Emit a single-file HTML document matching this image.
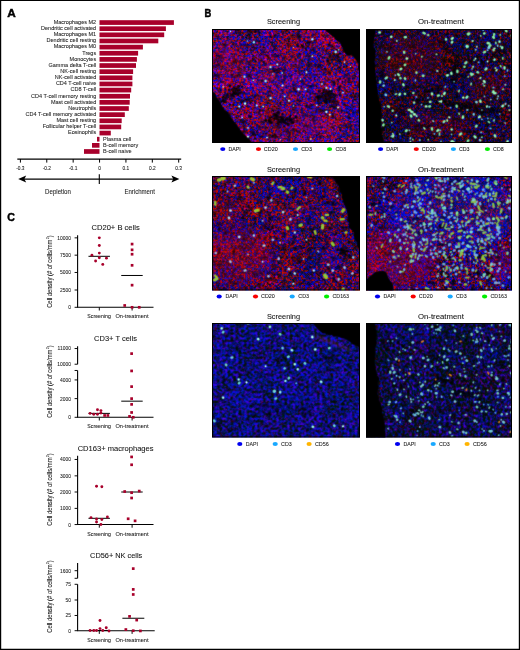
<!DOCTYPE html>
<html lang="en"><head><meta charset="utf-8"><title>Figure</title>
<style>html,body{margin:0;padding:0;background:#fff;overflow:hidden}svg{display:block}text{font-family:"Liberation Sans", sans-serif;stroke:#222;stroke-width:0.07px}</style>
</head><body>
<svg width="520" height="650" viewBox="0 0 520 650">
<rect x="0" y="0" width="520" height="650" fill="#fff"/>
<g id="panelA">
<text x="7.20" y="16.70" font-size="11.4" text-anchor="start" fill="#000" font-weight="bold" textLength="8.50" lengthAdjust="spacingAndGlyphs" style="stroke:#000;stroke-width:0.45px">A</text>
<rect x="99.5" y="20.20" width="74.40" height="4.7" fill="#a8002b"/>
<text x="96.20" y="23.90" font-size="5.8" text-anchor="end" fill="#1a1a1a" textLength="42.57" lengthAdjust="spacingAndGlyphs">Macrophages M2</text>
<rect x="99.5" y="26.34" width="66.40" height="4.7" fill="#a8002b"/>
<text x="96.20" y="30.04" font-size="5.8" text-anchor="end" fill="#1a1a1a" textLength="55.13" lengthAdjust="spacingAndGlyphs">Dendritic cell activated</text>
<rect x="99.5" y="32.48" width="64.70" height="4.7" fill="#a8002b"/>
<text x="96.20" y="36.18" font-size="5.8" text-anchor="end" fill="#1a1a1a" textLength="42.57" lengthAdjust="spacingAndGlyphs">Macrophages M1</text>
<rect x="99.5" y="38.62" width="58.80" height="4.7" fill="#a8002b"/>
<text x="96.20" y="42.32" font-size="5.8" text-anchor="end" fill="#1a1a1a" textLength="49.61" lengthAdjust="spacingAndGlyphs">Dendritic cell resting</text>
<rect x="99.5" y="44.76" width="43.40" height="4.7" fill="#a8002b"/>
<text x="96.20" y="48.46" font-size="5.8" text-anchor="end" fill="#1a1a1a" textLength="42.57" lengthAdjust="spacingAndGlyphs">Macrophages M0</text>
<rect x="99.5" y="50.90" width="38.60" height="4.7" fill="#a8002b"/>
<text x="96.20" y="54.60" font-size="5.8" text-anchor="end" fill="#1a1a1a" textLength="13.88" lengthAdjust="spacingAndGlyphs">Tregs</text>
<rect x="99.5" y="57.04" width="37.40" height="4.7" fill="#a8002b"/>
<text x="96.20" y="60.74" font-size="5.8" text-anchor="end" fill="#1a1a1a" textLength="26.64" lengthAdjust="spacingAndGlyphs">Monocytes</text>
<rect x="99.5" y="63.18" width="36.50" height="4.7" fill="#a8002b"/>
<text x="96.20" y="66.88" font-size="5.8" text-anchor="end" fill="#1a1a1a" textLength="47.67" lengthAdjust="spacingAndGlyphs">Gamma delta T-cell</text>
<rect x="99.5" y="69.32" width="33.60" height="4.7" fill="#a8002b"/>
<text x="96.20" y="73.02" font-size="5.8" text-anchor="end" fill="#1a1a1a" textLength="35.83" lengthAdjust="spacingAndGlyphs">NK-cell resting</text>
<rect x="99.5" y="75.46" width="32.90" height="4.7" fill="#a8002b"/>
<text x="96.20" y="79.16" font-size="5.8" text-anchor="end" fill="#1a1a1a" textLength="41.34" lengthAdjust="spacingAndGlyphs">NK-cell activated</text>
<rect x="99.5" y="81.60" width="32.90" height="4.7" fill="#a8002b"/>
<text x="96.20" y="85.30" font-size="5.8" text-anchor="end" fill="#1a1a1a" textLength="40.32" lengthAdjust="spacingAndGlyphs">CD4 T-cell naive</text>
<rect x="99.5" y="87.74" width="31.70" height="4.7" fill="#a8002b"/>
<text x="96.20" y="91.44" font-size="5.8" text-anchor="end" fill="#1a1a1a" textLength="25.62" lengthAdjust="spacingAndGlyphs">CD8 T-cell</text>
<rect x="99.5" y="93.88" width="30.50" height="4.7" fill="#a8002b"/>
<text x="96.20" y="97.58" font-size="5.8" text-anchor="end" fill="#1a1a1a" textLength="65.12" lengthAdjust="spacingAndGlyphs">CD4 T-cell memory resting</text>
<rect x="99.5" y="100.02" width="30.20" height="4.7" fill="#a8002b"/>
<text x="96.20" y="103.72" font-size="5.8" text-anchor="end" fill="#1a1a1a" textLength="45.32" lengthAdjust="spacingAndGlyphs">Mast cell activated</text>
<rect x="99.5" y="106.16" width="29.30" height="4.7" fill="#a8002b"/>
<text x="96.20" y="109.86" font-size="5.8" text-anchor="end" fill="#1a1a1a" textLength="27.87" lengthAdjust="spacingAndGlyphs">Neutrophils</text>
<rect x="99.5" y="112.30" width="25.30" height="4.7" fill="#a8002b"/>
<text x="96.20" y="116.00" font-size="5.8" text-anchor="end" fill="#1a1a1a" textLength="70.63" lengthAdjust="spacingAndGlyphs">CD4 T-cell memory activated</text>
<rect x="99.5" y="118.44" width="22.20" height="4.7" fill="#a8002b"/>
<text x="96.20" y="122.14" font-size="5.8" text-anchor="end" fill="#1a1a1a" textLength="39.81" lengthAdjust="spacingAndGlyphs">Mast cell resting</text>
<rect x="99.5" y="124.58" width="21.70" height="4.7" fill="#a8002b"/>
<text x="96.20" y="128.28" font-size="5.8" text-anchor="end" fill="#1a1a1a" textLength="53.49" lengthAdjust="spacingAndGlyphs">Follicular helper T-cell</text>
<rect x="99.5" y="130.72" width="11.30" height="4.7" fill="#a8002b"/>
<text x="96.20" y="134.42" font-size="5.8" text-anchor="end" fill="#1a1a1a" textLength="28.18" lengthAdjust="spacingAndGlyphs">Eosinophils</text>
<rect x="97.0" y="136.86" width="2.50" height="4.7" fill="#a8002b"/>
<text x="103.00" y="140.56" font-size="5.8" text-anchor="start" fill="#1a1a1a" textLength="28.17" lengthAdjust="spacingAndGlyphs">Plasma cell</text>
<rect x="92.0" y="143.00" width="7.50" height="4.7" fill="#a8002b"/>
<text x="103.00" y="146.70" font-size="5.8" text-anchor="start" fill="#1a1a1a" textLength="35.21" lengthAdjust="spacingAndGlyphs">B-cell memory</text>
<rect x="84.0" y="149.14" width="15.50" height="4.7" fill="#a8002b"/>
<text x="103.00" y="152.84" font-size="5.8" text-anchor="start" fill="#1a1a1a" textLength="28.48" lengthAdjust="spacingAndGlyphs">B-cell naive</text>
<path d="M17.3 159.05H181.2" stroke="#000" stroke-width="1.25" fill="none"/>
<path d="M20.40 159V162.6" stroke="#000" stroke-width="1" fill="none"/>
<text x="20.40" y="169.90" font-size="5.6" text-anchor="middle" fill="#111" textLength="8.30" lengthAdjust="spacingAndGlyphs">-0.3</text>
<path d="M46.78 159V162.6" stroke="#000" stroke-width="1" fill="none"/>
<text x="46.78" y="169.90" font-size="5.6" text-anchor="middle" fill="#111" textLength="8.30" lengthAdjust="spacingAndGlyphs">-0.2</text>
<path d="M73.17 159V162.6" stroke="#000" stroke-width="1" fill="none"/>
<text x="73.17" y="169.90" font-size="5.6" text-anchor="middle" fill="#111" textLength="8.30" lengthAdjust="spacingAndGlyphs">-0.1</text>
<path d="M99.55 159V162.6" stroke="#000" stroke-width="1" fill="none"/>
<text x="99.55" y="169.90" font-size="5.6" text-anchor="middle" fill="#111" textLength="2.68" lengthAdjust="spacingAndGlyphs">0</text>
<path d="M125.93 159V162.6" stroke="#000" stroke-width="1" fill="none"/>
<text x="125.93" y="169.90" font-size="5.6" text-anchor="middle" fill="#111" textLength="6.69" lengthAdjust="spacingAndGlyphs">0.1</text>
<path d="M152.32 159V162.6" stroke="#000" stroke-width="1" fill="none"/>
<text x="152.32" y="169.90" font-size="5.6" text-anchor="middle" fill="#111" textLength="6.69" lengthAdjust="spacingAndGlyphs">0.2</text>
<path d="M178.70 159V162.6" stroke="#000" stroke-width="1" fill="none"/>
<text x="178.70" y="169.90" font-size="5.6" text-anchor="middle" fill="#111" textLength="6.69" lengthAdjust="spacingAndGlyphs">0.3</text>
<path d="M22 179.05H176" stroke="#000" stroke-width="1.3" fill="none"/>
<path d="M18.2 179.05L26.2 175.6L24.4 179.05L26.2 182.5Z" fill="#000"/>
<path d="M179.4 179.05L171.4 175.6L173.2 179.05L171.4 182.5Z" fill="#000"/>
<path d="M99.3 174.2V184" stroke="#000" stroke-width="1.1" fill="none"/>
<text x="58.00" y="194.00" font-size="6.9" text-anchor="middle" fill="#222" textLength="25.80" lengthAdjust="spacingAndGlyphs">Depletion</text>
<text x="139.70" y="194.00" font-size="6.9" text-anchor="middle" fill="#222" textLength="30.60" lengthAdjust="spacingAndGlyphs">Enrichment</text>
</g>
<g id="panelC">
<text x="7.30" y="221.00" font-size="11.6" text-anchor="start" fill="#000" font-weight="bold" textLength="7.70" lengthAdjust="spacingAndGlyphs" style="stroke:#000;stroke-width:0.45px">C</text>
<text x="115.60" y="229.80" font-size="7.1" text-anchor="middle" fill="#111" textLength="48.20" lengthAdjust="spacingAndGlyphs">CD20+ B cells</text>
<path d="M77.6 235.31V307.31" stroke="#000" stroke-width="1.1" fill="none"/>
<path d="M74.6 237.85H77.6" stroke="#000" stroke-width="0.95" fill="none"/>
<text x="71.00" y="239.80" font-size="5.5" text-anchor="end" fill="#1a1a1a" textLength="13.77" lengthAdjust="spacingAndGlyphs">10000</text>
<path d="M74.6 255.16H77.6" stroke="#000" stroke-width="0.95" fill="none"/>
<text x="71.00" y="257.11" font-size="5.5" text-anchor="end" fill="#1a1a1a" textLength="11.01" lengthAdjust="spacingAndGlyphs">7500</text>
<path d="M74.6 272.47H77.6" stroke="#000" stroke-width="0.95" fill="none"/>
<text x="71.00" y="274.42" font-size="5.5" text-anchor="end" fill="#1a1a1a" textLength="11.01" lengthAdjust="spacingAndGlyphs">5000</text>
<path d="M74.6 290.01H77.6" stroke="#000" stroke-width="0.95" fill="none"/>
<text x="71.00" y="291.96" font-size="5.5" text-anchor="end" fill="#1a1a1a" textLength="11.01" lengthAdjust="spacingAndGlyphs">2500</text>
<path d="M74.6 307.31H77.6" stroke="#000" stroke-width="0.95" fill="none"/>
<text x="71.00" y="309.26" font-size="5.5" text-anchor="end" fill="#1a1a1a" textLength="2.75" lengthAdjust="spacingAndGlyphs">0</text>
<path d="M77.05 307.30H153.5" stroke="#000" stroke-width="1.1" fill="none"/>
<path d="M99.3 307.30V310.50" stroke="#000" stroke-width="0.95" fill="none"/>
<path d="M132.1 307.30V310.50" stroke="#000" stroke-width="0.95" fill="none"/>
<text x="99.10" y="318.20" font-size="5.7" text-anchor="middle" fill="#1a1a1a" textLength="23.50" lengthAdjust="spacingAndGlyphs">Screening</text>
<text x="132.00" y="318.20" font-size="5.7" text-anchor="middle" fill="#1a1a1a" textLength="33.00" lengthAdjust="spacingAndGlyphs">On-treatment</text>
<g transform="translate(51.6 307.85) rotate(-90) scale(0.8384 1)" fill="#222"><text x="0" y="0" font-size="7.0">Cell density (# of cells/mm</text><text x="81.69" y="-2.7" font-size="4.4">2</text><text x="84.14" y="0" font-size="7.0">)</text></g>
<path d="M88.47 256.31H109.93" stroke="#000" stroke-width="1" fill="none"/>
<path d="M121.24 275.47H142.70" stroke="#000" stroke-width="1" fill="none"/>
<circle cx="99.31" cy="237.85" r="1.45" fill="#a8002b"/>
<circle cx="99.31" cy="245.46" r="1.45" fill="#a8002b"/>
<circle cx="99.31" cy="253.08" r="1.45" fill="#a8002b"/>
<circle cx="91.93" cy="255.16" r="1.45" fill="#a8002b"/>
<circle cx="99.31" cy="257.70" r="1.45" fill="#a8002b"/>
<circle cx="106.47" cy="258.16" r="1.45" fill="#a8002b"/>
<circle cx="95.62" cy="260.93" r="1.45" fill="#a8002b"/>
<circle cx="102.77" cy="264.39" r="1.45" fill="#a8002b"/>
<rect x="130.73" y="242.73" width="2.7" height="2.7" fill="#a8002b"/>
<rect x="130.73" y="248.50" width="2.7" height="2.7" fill="#a8002b"/>
<rect x="130.73" y="252.88" width="2.7" height="2.7" fill="#a8002b"/>
<rect x="130.73" y="263.96" width="2.7" height="2.7" fill="#a8002b"/>
<rect x="130.73" y="283.81" width="2.7" height="2.7" fill="#a8002b"/>
<rect x="123.35" y="304.12" width="2.7" height="2.7" fill="#a8002b"/>
<rect x="130.73" y="305.96" width="2.7" height="2.7" fill="#a8002b"/>
<rect x="137.89" y="305.96" width="2.7" height="2.7" fill="#a8002b"/>
<text x="115.50" y="340.70" font-size="7.1" text-anchor="middle" fill="#111" textLength="42.90" lengthAdjust="spacingAndGlyphs">CD3+ T cells</text>
<path d="M77.6 346.23V364.23" stroke="#000" stroke-width="1.1" fill="none"/>
<path d="M77.6 370.47V417.31" stroke="#000" stroke-width="1.1" fill="none"/>
<path d="M74.6 348.54H77.6" stroke="#000" stroke-width="0.95" fill="none"/>
<text x="71.00" y="350.49" font-size="5.5" text-anchor="end" fill="#1a1a1a" textLength="13.40" lengthAdjust="spacingAndGlyphs">11000</text>
<path d="M74.6 364.23H77.6" stroke="#000" stroke-width="0.95" fill="none"/>
<text x="71.00" y="366.18" font-size="5.5" text-anchor="end" fill="#1a1a1a" textLength="13.77" lengthAdjust="spacingAndGlyphs">10000</text>
<path d="M74.6 370.47H77.6" stroke="#000" stroke-width="0.95" fill="none"/>
<path d="M74.6 379.93H77.6" stroke="#000" stroke-width="0.95" fill="none"/>
<text x="71.00" y="381.88" font-size="5.5" text-anchor="end" fill="#1a1a1a" textLength="11.01" lengthAdjust="spacingAndGlyphs">4000</text>
<path d="M74.6 398.62H77.6" stroke="#000" stroke-width="0.95" fill="none"/>
<text x="71.00" y="400.57" font-size="5.5" text-anchor="end" fill="#1a1a1a" textLength="11.01" lengthAdjust="spacingAndGlyphs">2000</text>
<path d="M74.6 417.31H77.6" stroke="#000" stroke-width="0.95" fill="none"/>
<text x="71.00" y="419.26" font-size="5.5" text-anchor="end" fill="#1a1a1a" textLength="2.75" lengthAdjust="spacingAndGlyphs">0</text>
<path d="M77.05 417.30H153.5" stroke="#000" stroke-width="1.1" fill="none"/>
<path d="M99.3 417.30V420.50" stroke="#000" stroke-width="0.95" fill="none"/>
<path d="M132.1 417.30V420.50" stroke="#000" stroke-width="0.95" fill="none"/>
<text x="99.10" y="428.20" font-size="5.7" text-anchor="middle" fill="#1a1a1a" textLength="23.50" lengthAdjust="spacingAndGlyphs">Screening</text>
<text x="132.00" y="428.20" font-size="5.7" text-anchor="middle" fill="#1a1a1a" textLength="33.00" lengthAdjust="spacingAndGlyphs">On-treatment</text>
<g transform="translate(51.6 417.85) rotate(-90) scale(0.8384 1)" fill="#222"><text x="0" y="0" font-size="7.0">Cell density (# of cells/mm</text><text x="81.69" y="-2.7" font-size="4.4">2</text><text x="84.14" y="0" font-size="7.0">)</text></g>
<path d="M88.47 413.39H109.93" stroke="#000" stroke-width="1" fill="none"/>
<path d="M121.24 401.16H142.70" stroke="#000" stroke-width="1" fill="none"/>
<circle cx="90.08" cy="413.39" r="1.45" fill="#a8002b"/>
<circle cx="93.77" cy="414.31" r="1.45" fill="#a8002b"/>
<circle cx="97.47" cy="414.31" r="1.45" fill="#a8002b"/>
<circle cx="97.47" cy="409.70" r="1.45" fill="#a8002b"/>
<circle cx="100.93" cy="410.62" r="1.45" fill="#a8002b"/>
<circle cx="100.93" cy="412.93" r="1.45" fill="#a8002b"/>
<rect x="103.27" y="414.12" width="2.7" height="2.7" fill="#a8002b"/>
<rect x="106.50" y="414.12" width="2.7" height="2.7" fill="#a8002b"/>
<rect x="130.27" y="352.27" width="2.7" height="2.7" fill="#a8002b"/>
<rect x="130.27" y="369.58" width="2.7" height="2.7" fill="#a8002b"/>
<rect x="130.27" y="385.27" width="2.7" height="2.7" fill="#a8002b"/>
<rect x="130.27" y="397.27" width="2.7" height="2.7" fill="#a8002b"/>
<rect x="130.27" y="403.04" width="2.7" height="2.7" fill="#a8002b"/>
<rect x="130.27" y="411.12" width="2.7" height="2.7" fill="#a8002b"/>
<rect x="128.20" y="415.04" width="2.7" height="2.7" fill="#a8002b"/>
<rect x="131.89" y="415.96" width="2.7" height="2.7" fill="#a8002b"/>
<text x="115.60" y="451.20" font-size="7.1" text-anchor="middle" fill="#111" textLength="75.90" lengthAdjust="spacingAndGlyphs">CD163+ macrophages</text>
<path d="M77.6 455.77V524.55" stroke="#000" stroke-width="1.1" fill="none"/>
<path d="M74.6 459.46H77.6" stroke="#000" stroke-width="0.95" fill="none"/>
<text x="71.00" y="461.41" font-size="5.5" text-anchor="end" fill="#1a1a1a" textLength="11.01" lengthAdjust="spacingAndGlyphs">4000</text>
<path d="M74.6 475.85H77.6" stroke="#000" stroke-width="0.95" fill="none"/>
<text x="71.00" y="477.80" font-size="5.5" text-anchor="end" fill="#1a1a1a" textLength="11.01" lengthAdjust="spacingAndGlyphs">3000</text>
<path d="M74.6 492.00H77.6" stroke="#000" stroke-width="0.95" fill="none"/>
<text x="71.00" y="493.95" font-size="5.5" text-anchor="end" fill="#1a1a1a" textLength="11.01" lengthAdjust="spacingAndGlyphs">2000</text>
<path d="M74.6 508.39H77.6" stroke="#000" stroke-width="0.95" fill="none"/>
<text x="71.00" y="510.34" font-size="5.5" text-anchor="end" fill="#1a1a1a" textLength="11.01" lengthAdjust="spacingAndGlyphs">1000</text>
<path d="M74.6 524.55H77.6" stroke="#000" stroke-width="0.95" fill="none"/>
<text x="71.00" y="526.50" font-size="5.5" text-anchor="end" fill="#1a1a1a" textLength="2.75" lengthAdjust="spacingAndGlyphs">0</text>
<path d="M77.05 524.50H153.5" stroke="#000" stroke-width="1.1" fill="none"/>
<path d="M99.3 524.50V527.70" stroke="#000" stroke-width="0.95" fill="none"/>
<path d="M132.1 524.50V527.70" stroke="#000" stroke-width="0.95" fill="none"/>
<text x="99.10" y="535.80" font-size="5.7" text-anchor="middle" fill="#1a1a1a" textLength="23.50" lengthAdjust="spacingAndGlyphs">Screening</text>
<text x="132.00" y="535.80" font-size="5.7" text-anchor="middle" fill="#1a1a1a" textLength="33.00" lengthAdjust="spacingAndGlyphs">On-treatment</text>
<g transform="translate(51.6 525.75) rotate(-90) scale(0.8384 1)" fill="#222"><text x="0" y="0" font-size="7.0">Cell density (# of cells/mm</text><text x="81.69" y="-2.7" font-size="4.4">2</text><text x="84.14" y="0" font-size="7.0">)</text></g>
<path d="M88.47 518.31H109.93" stroke="#000" stroke-width="1" fill="none"/>
<path d="M121.24 492.00H142.70" stroke="#000" stroke-width="1" fill="none"/>
<circle cx="96.54" cy="486.23" r="1.45" fill="#a8002b"/>
<circle cx="101.85" cy="486.70" r="1.45" fill="#a8002b"/>
<circle cx="91.00" cy="517.62" r="1.45" fill="#a8002b"/>
<circle cx="107.39" cy="516.93" r="1.45" fill="#a8002b"/>
<circle cx="96.54" cy="519.01" r="1.45" fill="#a8002b"/>
<circle cx="101.85" cy="519.47" r="1.45" fill="#a8002b"/>
<circle cx="96.54" cy="522.01" r="1.45" fill="#a8002b"/>
<circle cx="100.93" cy="524.55" r="1.45" fill="#a8002b"/>
<rect x="130.27" y="455.57" width="2.7" height="2.7" fill="#a8002b"/>
<rect x="130.27" y="463.42" width="2.7" height="2.7" fill="#a8002b"/>
<rect x="123.35" y="490.19" width="2.7" height="2.7" fill="#a8002b"/>
<rect x="130.27" y="491.35" width="2.7" height="2.7" fill="#a8002b"/>
<rect x="137.89" y="489.73" width="2.7" height="2.7" fill="#a8002b"/>
<rect x="130.27" y="496.65" width="2.7" height="2.7" fill="#a8002b"/>
<rect x="126.81" y="517.43" width="2.7" height="2.7" fill="#a8002b"/>
<rect x="133.73" y="519.50" width="2.7" height="2.7" fill="#a8002b"/>
<text x="116.20" y="558.00" font-size="7.1" text-anchor="middle" fill="#111" textLength="52.20" lengthAdjust="spacingAndGlyphs">CD56+ NK cells</text>
<path d="M77.6 563.08V578.31" stroke="#000" stroke-width="1.1" fill="none"/>
<path d="M77.6 584.31V630.70" stroke="#000" stroke-width="1.1" fill="none"/>
<path d="M74.6 570.69H77.6" stroke="#000" stroke-width="0.95" fill="none"/>
<text x="71.00" y="572.64" font-size="5.5" text-anchor="end" fill="#1a1a1a" textLength="11.01" lengthAdjust="spacingAndGlyphs">1600</text>
<path d="M74.6 578.31H77.6" stroke="#000" stroke-width="0.95" fill="none"/>
<path d="M74.6 584.31H77.6" stroke="#000" stroke-width="0.95" fill="none"/>
<text x="71.00" y="586.26" font-size="5.5" text-anchor="end" fill="#1a1a1a" textLength="5.51" lengthAdjust="spacingAndGlyphs">75</text>
<path d="M74.6 600.00H77.6" stroke="#000" stroke-width="0.95" fill="none"/>
<text x="71.00" y="601.95" font-size="5.5" text-anchor="end" fill="#1a1a1a" textLength="5.51" lengthAdjust="spacingAndGlyphs">50</text>
<path d="M74.6 615.47H77.6" stroke="#000" stroke-width="0.95" fill="none"/>
<text x="71.00" y="617.42" font-size="5.5" text-anchor="end" fill="#1a1a1a" textLength="5.51" lengthAdjust="spacingAndGlyphs">25</text>
<path d="M74.6 630.70H77.6" stroke="#000" stroke-width="0.95" fill="none"/>
<text x="71.00" y="632.65" font-size="5.5" text-anchor="end" fill="#1a1a1a" textLength="2.75" lengthAdjust="spacingAndGlyphs">0</text>
<path d="M77.05 630.70H154.7" stroke="#000" stroke-width="1.1" fill="none"/>
<path d="M99.3 630.70V633.90" stroke="#000" stroke-width="0.95" fill="none"/>
<path d="M132.1 630.70V633.90" stroke="#000" stroke-width="0.95" fill="none"/>
<text x="99.10" y="641.60" font-size="5.7" text-anchor="middle" fill="#1a1a1a" textLength="23.50" lengthAdjust="spacingAndGlyphs">Screening</text>
<text x="132.00" y="641.60" font-size="5.7" text-anchor="middle" fill="#1a1a1a" textLength="33.00" lengthAdjust="spacingAndGlyphs">On-treatment</text>
<g transform="translate(51.6 632.75) rotate(-90) scale(0.8384 1)" fill="#222"><text x="0" y="0" font-size="7.0">Cell density (# of cells/mm</text><text x="81.69" y="-2.7" font-size="4.4">2</text><text x="84.14" y="0" font-size="7.0">)</text></g>
<path d="M88.47 630.47H109.93" stroke="#000" stroke-width="1" fill="none"/>
<path d="M122.39 618.24H144.32" stroke="#000" stroke-width="1" fill="none"/>
<circle cx="90.08" cy="630.47" r="1.45" fill="#a8002b"/>
<circle cx="93.77" cy="630.47" r="1.45" fill="#a8002b"/>
<circle cx="96.54" cy="630.47" r="1.45" fill="#a8002b"/>
<circle cx="100.00" cy="620.54" r="1.45" fill="#a8002b"/>
<circle cx="100.00" cy="628.62" r="1.45" fill="#a8002b"/>
<circle cx="102.77" cy="630.47" r="1.45" fill="#a8002b"/>
<circle cx="106.24" cy="627.70" r="1.45" fill="#a8002b"/>
<circle cx="109.01" cy="630.93" r="1.45" fill="#a8002b"/>
<rect x="131.89" y="567.27" width="2.7" height="2.7" fill="#a8002b"/>
<rect x="131.89" y="588.04" width="2.7" height="2.7" fill="#a8002b"/>
<rect x="131.89" y="593.12" width="2.7" height="2.7" fill="#a8002b"/>
<rect x="128.20" y="615.04" width="2.7" height="2.7" fill="#a8002b"/>
<rect x="135.35" y="618.73" width="2.7" height="2.7" fill="#a8002b"/>
<rect x="124.50" y="628.20" width="2.7" height="2.7" fill="#a8002b"/>
<rect x="131.89" y="629.35" width="2.7" height="2.7" fill="#a8002b"/>
<rect x="139.04" y="629.58" width="2.7" height="2.7" fill="#a8002b"/>
</g>
<g id="panelB">
<text x="204.40" y="16.70" font-size="10.4" text-anchor="start" fill="#000" font-weight="bold" textLength="6.80" lengthAdjust="spacingAndGlyphs" style="stroke:#000;stroke-width:0.45px">B</text>
<text x="283.50" y="24.30" font-size="7.5" text-anchor="middle" fill="#111" textLength="33.10" lengthAdjust="spacingAndGlyphs">Screening</text>
<text x="440.90" y="24.30" font-size="7.5" text-anchor="middle" fill="#111" textLength="45.80" lengthAdjust="spacingAndGlyphs">On-treatment</text>
<text x="283.50" y="172.00" font-size="7.5" text-anchor="middle" fill="#111" textLength="33.10" lengthAdjust="spacingAndGlyphs">Screening</text>
<text x="440.90" y="172.00" font-size="7.5" text-anchor="middle" fill="#111" textLength="45.80" lengthAdjust="spacingAndGlyphs">On-treatment</text>
<text x="283.50" y="319.10" font-size="7.5" text-anchor="middle" fill="#111" textLength="33.10" lengthAdjust="spacingAndGlyphs">Screening</text>
<text x="440.90" y="319.10" font-size="7.5" text-anchor="middle" fill="#111" textLength="45.80" lengthAdjust="spacingAndGlyphs">On-treatment</text>
<ellipse cx="222.80" cy="149.10" rx="2.6" ry="1.9" fill="#0000f0"/>
<text x="228.50" y="151.00" font-size="5.3" text-anchor="start" fill="#1a1a1a" textLength="12.30" lengthAdjust="spacingAndGlyphs">DAPI</text>
<ellipse cx="258.50" cy="149.10" rx="2.6" ry="1.9" fill="#f80000"/>
<text x="263.80" y="151.00" font-size="5.3" text-anchor="start" fill="#1a1a1a" textLength="13.90" lengthAdjust="spacingAndGlyphs">CD20</text>
<ellipse cx="295.50" cy="149.10" rx="2.6" ry="1.9" fill="#18a8ff"/>
<text x="301.20" y="151.00" font-size="5.3" text-anchor="start" fill="#1a1a1a" textLength="10.70" lengthAdjust="spacingAndGlyphs">CD3</text>
<ellipse cx="329.60" cy="149.10" rx="2.6" ry="1.9" fill="#00ee00"/>
<text x="335.50" y="151.00" font-size="5.3" text-anchor="start" fill="#1a1a1a" textLength="10.60" lengthAdjust="spacingAndGlyphs">CD8</text>
<ellipse cx="380.60" cy="149.10" rx="2.6" ry="1.9" fill="#0000f0"/>
<text x="386.30" y="151.00" font-size="5.3" text-anchor="start" fill="#1a1a1a" textLength="12.30" lengthAdjust="spacingAndGlyphs">DAPI</text>
<ellipse cx="416.30" cy="149.10" rx="2.6" ry="1.9" fill="#f80000"/>
<text x="421.80" y="151.00" font-size="5.3" text-anchor="start" fill="#1a1a1a" textLength="13.90" lengthAdjust="spacingAndGlyphs">CD20</text>
<ellipse cx="453.40" cy="149.10" rx="2.6" ry="1.9" fill="#18a8ff"/>
<text x="458.90" y="151.00" font-size="5.3" text-anchor="start" fill="#1a1a1a" textLength="10.70" lengthAdjust="spacingAndGlyphs">CD3</text>
<ellipse cx="487.40" cy="149.10" rx="2.6" ry="1.9" fill="#00ee00"/>
<text x="493.10" y="151.00" font-size="5.3" text-anchor="start" fill="#1a1a1a" textLength="10.60" lengthAdjust="spacingAndGlyphs">CD8</text>
<ellipse cx="219.20" cy="296.50" rx="2.6" ry="1.9" fill="#0000f0"/>
<text x="225.40" y="298.40" font-size="5.3" text-anchor="start" fill="#1a1a1a" textLength="12.30" lengthAdjust="spacingAndGlyphs">DAPI</text>
<ellipse cx="255.50" cy="296.50" rx="2.6" ry="1.9" fill="#f80000"/>
<text x="261.00" y="298.40" font-size="5.3" text-anchor="start" fill="#1a1a1a" textLength="13.90" lengthAdjust="spacingAndGlyphs">CD20</text>
<ellipse cx="292.20" cy="296.50" rx="2.6" ry="1.9" fill="#18a8ff"/>
<text x="298.30" y="298.40" font-size="5.3" text-anchor="start" fill="#1a1a1a" textLength="10.70" lengthAdjust="spacingAndGlyphs">CD3</text>
<ellipse cx="326.60" cy="296.50" rx="2.6" ry="1.9" fill="#00ee00"/>
<text x="332.50" y="298.40" font-size="5.3" text-anchor="start" fill="#1a1a1a" textLength="16.50" lengthAdjust="spacingAndGlyphs">CD163</text>
<ellipse cx="377.50" cy="296.50" rx="2.6" ry="1.9" fill="#0000f0"/>
<text x="383.40" y="298.40" font-size="5.3" text-anchor="start" fill="#1a1a1a" textLength="12.30" lengthAdjust="spacingAndGlyphs">DAPI</text>
<ellipse cx="413.20" cy="296.50" rx="2.6" ry="1.9" fill="#f80000"/>
<text x="418.80" y="298.40" font-size="5.3" text-anchor="start" fill="#1a1a1a" textLength="13.90" lengthAdjust="spacingAndGlyphs">CD20</text>
<ellipse cx="450.20" cy="296.50" rx="2.6" ry="1.9" fill="#18a8ff"/>
<text x="456.00" y="298.40" font-size="5.3" text-anchor="start" fill="#1a1a1a" textLength="10.70" lengthAdjust="spacingAndGlyphs">CD3</text>
<ellipse cx="484.60" cy="296.50" rx="2.6" ry="1.9" fill="#00ee00"/>
<text x="490.50" y="298.40" font-size="5.3" text-anchor="start" fill="#1a1a1a" textLength="16.50" lengthAdjust="spacingAndGlyphs">CD163</text>
<ellipse cx="239.80" cy="444.00" rx="2.6" ry="1.9" fill="#0000f0"/>
<text x="245.70" y="445.90" font-size="5.3" text-anchor="start" fill="#1a1a1a" textLength="12.30" lengthAdjust="spacingAndGlyphs">DAPI</text>
<ellipse cx="275.20" cy="444.00" rx="2.6" ry="1.9" fill="#18a8ff"/>
<text x="281.10" y="445.90" font-size="5.3" text-anchor="start" fill="#1a1a1a" textLength="10.70" lengthAdjust="spacingAndGlyphs">CD3</text>
<ellipse cx="309.10" cy="444.00" rx="2.6" ry="1.9" fill="#ffb400"/>
<text x="314.90" y="445.90" font-size="5.3" text-anchor="start" fill="#1a1a1a" textLength="13.90" lengthAdjust="spacingAndGlyphs">CD56</text>
<ellipse cx="397.50" cy="444.00" rx="2.6" ry="1.9" fill="#0000f0"/>
<text x="403.40" y="445.90" font-size="5.3" text-anchor="start" fill="#1a1a1a" textLength="12.30" lengthAdjust="spacingAndGlyphs">DAPI</text>
<ellipse cx="433.20" cy="444.00" rx="2.6" ry="1.9" fill="#18a8ff"/>
<text x="439.10" y="445.90" font-size="5.3" text-anchor="start" fill="#1a1a1a" textLength="10.70" lengthAdjust="spacingAndGlyphs">CD3</text>
<ellipse cx="467.10" cy="444.00" rx="2.6" ry="1.9" fill="#ffb400"/>
<text x="472.90" y="445.90" font-size="5.3" text-anchor="start" fill="#1a1a1a" textLength="13.90" lengthAdjust="spacingAndGlyphs">CD56</text>
<defs>
<filter id="nRB" x="0" y="0" width="100%" height="100%" color-interpolation-filters="sRGB">
<feTurbulence type="fractalNoise" baseFrequency="0.47 0.53" numOctaves="2" seed="3"/>
<feColorMatrix type="matrix" values="1 0 0 0 0  0 1 0 0 0  0 0 1 0 0  0 0 0 0 1" result="h"/>
<feTurbulence type="fractalNoise" baseFrequency="0.045" numOctaves="2" seed="23"/>
<feColorMatrix type="matrix" values="1 0 0 0 0  0 1 0 0 0  0 0 1 0 0  0 0 0 0 1" result="l"/>
<feComposite in="h" in2="l" operator="arithmetic" k1="0" k2="1" k3="0.3" k4="-0.15"/>
<feColorMatrix type="matrix" values="2.8 -0.8 -1.3 0 0.080  0 0.25 0 0 -0.095  -1.3 -0.8 2.8 0 0.070  0 0 0 0 1"/>
<feColorMatrix type="matrix" values="0.86 0 0 0 0  0 1 0 0 0  0 0 0.94 0 0  0 0 0 0 1" result="c"/>
<feTurbulence type="fractalNoise" baseFrequency="0.2" numOctaves="2" seed="43"/>
<feColorMatrix type="matrix" values="2.4 0 0 0 -0.220  2.4 0 0 0 -0.220  2.4 0 0 0 -0.220  0 0 0 0 1" result="m"/>
<feComposite in="c" in2="m" operator="arithmetic" k1="1" k2="0" k3="0" k4="0"/>
<feConvolveMatrix order="3" kernelMatrix="0.025 0.055 0.025 0.055 0.68 0.055 0.025 0.055 0.025" divisor="1" edgeMode="duplicate" preserveAlpha="true"/>
</filter>
<filter id="nRBd" x="0" y="0" width="100%" height="100%" color-interpolation-filters="sRGB">
<feTurbulence type="fractalNoise" baseFrequency="0.53 0.47" numOctaves="2" seed="11"/>
<feColorMatrix type="matrix" values="1 0 0 0 0  0 1 0 0 0  0 0 1 0 0  0 0 0 0 1" result="h"/>
<feTurbulence type="fractalNoise" baseFrequency="0.045" numOctaves="2" seed="31"/>
<feColorMatrix type="matrix" values="1 0 0 0 0  0 1 0 0 0  0 0 1 0 0  0 0 0 0 1" result="l"/>
<feComposite in="h" in2="l" operator="arithmetic" k1="0" k2="1" k3="0.3" k4="-0.15"/>
<feColorMatrix type="matrix" values="2.7 -1.0 -1.2 0 -0.150  0 0.25 0 0 -0.095  -1.2 -1.0 2.6 0 0.020  0 0 0 0 1"/>
<feColorMatrix type="matrix" values="0.68 0 0 0 0  0 1 0 0 0  0 0 0.75 0 0  0 0 0 0 1" result="c"/>
<feTurbulence type="fractalNoise" baseFrequency="0.2" numOctaves="2" seed="51"/>
<feColorMatrix type="matrix" values="2.4 0 0 0 -0.220  2.4 0 0 0 -0.220  2.4 0 0 0 -0.220  0 0 0 0 1" result="m"/>
<feComposite in="c" in2="m" operator="arithmetic" k1="1" k2="0" k3="0" k4="0"/>
<feConvolveMatrix order="3" kernelMatrix="0.025 0.055 0.025 0.055 0.68 0.055 0.025 0.055 0.025" divisor="1" edgeMode="duplicate" preserveAlpha="true"/>
</filter>
<filter id="nRB3" x="0" y="0" width="100%" height="100%" color-interpolation-filters="sRGB">
<feTurbulence type="fractalNoise" baseFrequency="0.47 0.53" numOctaves="2" seed="17"/>
<feColorMatrix type="matrix" values="1 0 0 0 0  0 1 0 0 0  0 0 1 0 0  0 0 0 0 1" result="h"/>
<feTurbulence type="fractalNoise" baseFrequency="0.045" numOctaves="2" seed="37"/>
<feColorMatrix type="matrix" values="1 0 0 0 0  0 1 0 0 0  0 0 1 0 0  0 0 0 0 1" result="l"/>
<feComposite in="h" in2="l" operator="arithmetic" k1="0" k2="1" k3="0.3" k4="-0.15"/>
<feColorMatrix type="matrix" values="2.8 -0.9 -1.4 0 0.070  0 0.25 0 0 -0.095  -1.4 -0.9 2.8 0 0.080  0 0 0 0 1"/>
<feColorMatrix type="matrix" values="0.82 0 0 0 0  0 1 0 0 0  0 0 0.88 0 0  0 0 0 0 1" result="c"/>
<feTurbulence type="fractalNoise" baseFrequency="0.2" numOctaves="2" seed="57"/>
<feColorMatrix type="matrix" values="2.4 0 0 0 -0.220  2.4 0 0 0 -0.220  2.4 0 0 0 -0.220  0 0 0 0 1" result="m"/>
<feComposite in="c" in2="m" operator="arithmetic" k1="1" k2="0" k3="0" k4="0"/>
<feConvolveMatrix order="3" kernelMatrix="0.025 0.055 0.025 0.055 0.68 0.055 0.025 0.055 0.025" divisor="1" edgeMode="duplicate" preserveAlpha="true"/>
</filter>
<filter id="nRB4" x="0" y="0" width="100%" height="100%" color-interpolation-filters="sRGB">
<feTurbulence type="fractalNoise" baseFrequency="0.53 0.47" numOctaves="2" seed="23"/>
<feColorMatrix type="matrix" values="1 0 0 0 0  0 1 0 0 0  0 0 1 0 0  0 0 0 0 1" result="h"/>
<feTurbulence type="fractalNoise" baseFrequency="0.045" numOctaves="2" seed="43"/>
<feColorMatrix type="matrix" values="1 0 0 0 0  0 1 0 0 0  0 0 1 0 0  0 0 0 0 1" result="l"/>
<feComposite in="h" in2="l" operator="arithmetic" k1="0" k2="1" k3="0.3" k4="-0.15"/>
<feColorMatrix type="matrix" values="2.8 -0.9 -1.4 0 -0.050  0 0.25 0 0 -0.095  -1.4 -0.9 2.8 0 0.190  0 0 0 0 1"/>
<feColorMatrix type="matrix" values="0.85 0 0 0 0  0 1 0 0 0  0 0 0.94 0 0  0 0 0 0 1" result="c"/>
<feTurbulence type="fractalNoise" baseFrequency="0.2" numOctaves="2" seed="63"/>
<feColorMatrix type="matrix" values="2.4 0 0 0 -0.220  2.4 0 0 0 -0.220  2.4 0 0 0 -0.220  0 0 0 0 1" result="m"/>
<feComposite in="c" in2="m" operator="arithmetic" k1="1" k2="0" k3="0" k4="0"/>
<feConvolveMatrix order="3" kernelMatrix="0.025 0.055 0.025 0.055 0.68 0.055 0.025 0.055 0.025" divisor="1" edgeMode="duplicate" preserveAlpha="true"/>
</filter>
<filter id="nB" x="0" y="0" width="100%" height="100%" color-interpolation-filters="sRGB">
<feTurbulence type="fractalNoise" baseFrequency="0.37 0.41" numOctaves="2" seed="5"/>
<feColorMatrix type="matrix" values="1 0 0 0 0  0 1 0 0 0  0 0 1 0 0  0 0 0 0 1" result="h"/>
<feTurbulence type="fractalNoise" baseFrequency="0.045" numOctaves="2" seed="25"/>
<feColorMatrix type="matrix" values="1 0 0 0 0  0 1 0 0 0  0 0 1 0 0  0 0 0 0 1" result="l"/>
<feComposite in="h" in2="l" operator="arithmetic" k1="0" k2="1" k3="0.2" k4="-0.1"/>
<feColorMatrix type="matrix" values="0.2 -0.9 -0.0 0 0.380  0 0.25 0 0 -0.065  -0.0 -0.9 2.5 0 -0.240  0 0 0 0 1"/>
<feColorMatrix type="matrix" values="1 0 0 0 0  0 1 0 0 0  0 0 0.9 0 0  0 0 0 0 1" result="c"/>
<feTurbulence type="fractalNoise" baseFrequency="0.2" numOctaves="2" seed="45"/>
<feColorMatrix type="matrix" values="1.8 0 0 0 0.080  1.8 0 0 0 0.080  1.8 0 0 0 0.080  0 0 0 0 1" result="m"/>
<feComposite in="c" in2="m" operator="arithmetic" k1="1" k2="0" k3="0" k4="0"/>
<feConvolveMatrix order="3" kernelMatrix="0.04000000000000001 0.08800000000000001 0.04000000000000001 0.08800000000000001 0.48799999999999993 0.08800000000000001 0.04000000000000001 0.08800000000000001 0.04000000000000001" divisor="1" edgeMode="duplicate" preserveAlpha="true"/>
</filter>
<filter id="nBd" x="0" y="0" width="100%" height="100%" color-interpolation-filters="sRGB">
<feTurbulence type="fractalNoise" baseFrequency="0.41 0.37" numOctaves="2" seed="9"/>
<feColorMatrix type="matrix" values="1 0 0 0 0  0 1 0 0 0  0 0 1 0 0  0 0 0 0 1" result="h"/>
<feTurbulence type="fractalNoise" baseFrequency="0.045" numOctaves="2" seed="29"/>
<feColorMatrix type="matrix" values="1 0 0 0 0  0 1 0 0 0  0 0 1 0 0  0 0 0 0 1" result="l"/>
<feComposite in="h" in2="l" operator="arithmetic" k1="0" k2="1" k3="0.25" k4="-0.125"/>
<feColorMatrix type="matrix" values="0.3 -0.9 -0.0 0 0.335  0 0.25 0 0 -0.075  -0.0 -0.9 2.4 0 -0.400  0 0 0 0 1"/>
<feColorMatrix type="matrix" values="1 0 0 0 0  0 1 0 0 0  0 0 0.84 0 0  0 0 0 0 1" result="c"/>
<feTurbulence type="fractalNoise" baseFrequency="0.2" numOctaves="2" seed="49"/>
<feColorMatrix type="matrix" values="2.0 0 0 0 -0.020  2.0 0 0 0 -0.020  2.0 0 0 0 -0.020  0 0 0 0 1" result="m"/>
<feComposite in="c" in2="m" operator="arithmetic" k1="1" k2="0" k3="0" k4="0"/>
<feConvolveMatrix order="3" kernelMatrix="0.034999999999999996 0.077 0.034999999999999996 0.077 0.552 0.077 0.034999999999999996 0.077 0.034999999999999996" divisor="1" edgeMode="duplicate" preserveAlpha="true"/>
</filter>
<filter id="bl1" x="-30%" y="-30%" width="160%" height="160%"><feGaussianBlur stdDeviation="1.1"/></filter>
<filter id="bl2" x="-30%" y="-30%" width="160%" height="160%"><feGaussianBlur stdDeviation="2.5"/></filter>
<filter id="bl4" x="-30%" y="-30%" width="160%" height="160%"><feGaussianBlur stdDeviation="5"/></filter>
<filter id="bl05" x="-5%" y="-5%" width="110%" height="110%"><feConvolveMatrix order="3" kernelMatrix="0.03 0.09 0.03 0.09 0.52 0.09 0.03 0.09 0.03" divisor="1" edgeMode="none" preserveAlpha="false"/></filter>
</defs>
<svg x="212" y="29" width="148" height="114" viewBox="0 0 148 114" overflow="hidden">
<rect width="148" height="114" fill="#000"/>
<rect width="148" height="114" filter="url(#nRB)"/>
<ellipse cx="15.5" cy="33.1" rx="20.5" ry="17.5" fill="#c00020" opacity="0.18" filter="url(#bl4)"/>
<ellipse cx="85.7" cy="94.5" rx="43.9" ry="14.6" fill="#c00020" opacity="0.15" filter="url(#bl4)"/>
<ellipse cx="74.0" cy="50.6" rx="35.1" ry="23.4" fill="#1010d0" opacity="0.12" filter="url(#bl4)"/>
<g fill="#000" opacity="0.8" filter="url(#bl05)"><circle cx="23.9" cy="63.5" r="1.4"/><circle cx="29.1" cy="63.6" r="1.1"/><circle cx="29.1" cy="63.3" r="0.7"/><circle cx="23.6" cy="62.7" r="0.8"/><circle cx="18.6" cy="64.3" r="0.8"/><circle cx="25.8" cy="65.6" r="1.6"/><circle cx="21.5" cy="61.2" r="1.7"/><circle cx="32.1" cy="63.7" r="1.0"/><circle cx="26.1" cy="63.2" r="1.0"/><circle cx="25.9" cy="61.0" r="1.3"/><circle cx="22.5" cy="60.6" r="1.2"/><circle cx="26.1" cy="62.6" r="0.9"/><circle cx="23.2" cy="60.1" r="1.0"/><circle cx="21.3" cy="61.0" r="1.0"/><circle cx="26.5" cy="58.8" r="0.9"/><circle cx="20.8" cy="61.0" r="1.6"/><circle cx="24.5" cy="60.4" r="1.7"/><circle cx="27.8" cy="64.0" r="1.5"/><circle cx="27.4" cy="64.5" r="0.7"/><circle cx="21.7" cy="58.9" r="1.3"/><circle cx="27.2" cy="60.9" r="1.4"/><circle cx="20.7" cy="60.6" r="1.2"/><circle cx="29.8" cy="57.6" r="1.2"/><circle cx="24.2" cy="61.6" r="1.4"/><circle cx="17.7" cy="56.4" r="1.5"/><circle cx="24.1" cy="64.6" r="1.4"/><circle cx="29.1" cy="62.7" r="0.9"/><circle cx="25.9" cy="62.9" r="1.5"/><circle cx="26.9" cy="63.6" r="1.1"/><circle cx="26.0" cy="61.6" r="1.1"/><circle cx="17.4" cy="60.8" r="1.5"/><circle cx="26.9" cy="60.9" r="1.1"/><circle cx="19.9" cy="66.1" r="1.7"/><circle cx="26.3" cy="63.5" r="0.9"/><circle cx="25.4" cy="65.0" r="1.3"/><circle cx="24.9" cy="62.5" r="1.1"/><circle cx="21.6" cy="64.5" r="1.7"/><circle cx="23.2" cy="59.7" r="1.3"/><circle cx="24.3" cy="61.6" r="1.6"/><circle cx="26.4" cy="57.6" r="1.5"/><circle cx="21.9" cy="63.8" r="0.8"/><circle cx="24.0" cy="61.7" r="0.8"/></g>
<g fill="#000" opacity="0.6" filter="url(#bl05)"><circle cx="16.0" cy="67.6" r="1.0"/><circle cx="15.6" cy="66.7" r="0.9"/><circle cx="17.8" cy="67.5" r="0.7"/><circle cx="18.4" cy="65.3" r="0.8"/><circle cx="15.5" cy="68.1" r="1.1"/><circle cx="19.6" cy="68.7" r="1.7"/><circle cx="12.3" cy="67.1" r="0.8"/><circle cx="17.7" cy="67.5" r="1.0"/><circle cx="16.4" cy="66.0" r="0.7"/><circle cx="19.0" cy="66.2" r="0.8"/><circle cx="14.9" cy="66.6" r="1.2"/><circle cx="21.3" cy="66.3" r="1.4"/><circle cx="15.3" cy="68.1" r="0.9"/><circle cx="16.0" cy="64.9" r="1.5"/><circle cx="14.5" cy="67.6" r="1.5"/><circle cx="21.2" cy="66.4" r="1.5"/><circle cx="17.5" cy="64.5" r="0.9"/><circle cx="12.8" cy="66.6" r="0.7"/><circle cx="17.9" cy="66.9" r="1.0"/><circle cx="13.0" cy="63.3" r="1.1"/></g>
<g fill="#000" opacity="0.85" filter="url(#bl05)"><circle cx="84.1" cy="88.0" r="1.7"/><circle cx="67.2" cy="92.4" r="0.9"/><circle cx="70.8" cy="92.7" r="1.3"/><circle cx="77.8" cy="88.0" r="1.2"/><circle cx="64.2" cy="87.1" r="0.8"/><circle cx="63.5" cy="86.1" r="1.5"/><circle cx="69.6" cy="88.0" r="0.9"/><circle cx="70.8" cy="88.7" r="1.5"/><circle cx="74.8" cy="90.5" r="1.1"/><circle cx="77.6" cy="89.6" r="0.9"/><circle cx="71.7" cy="92.1" r="1.6"/><circle cx="70.7" cy="89.6" r="1.5"/><circle cx="77.3" cy="90.5" r="1.1"/><circle cx="67.0" cy="90.6" r="0.7"/><circle cx="77.1" cy="90.3" r="1.2"/><circle cx="74.8" cy="89.8" r="1.6"/><circle cx="71.3" cy="89.4" r="1.0"/><circle cx="68.6" cy="92.9" r="1.3"/><circle cx="69.3" cy="93.7" r="0.8"/><circle cx="73.8" cy="89.7" r="1.2"/><circle cx="59.8" cy="88.1" r="1.1"/><circle cx="75.0" cy="89.4" r="1.2"/><circle cx="68.6" cy="90.9" r="1.1"/><circle cx="69.8" cy="91.2" r="1.5"/><circle cx="72.4" cy="93.6" r="1.4"/><circle cx="65.3" cy="90.2" r="1.2"/><circle cx="61.0" cy="89.4" r="0.8"/><circle cx="65.9" cy="90.2" r="1.0"/><circle cx="70.5" cy="87.9" r="1.3"/><circle cx="70.4" cy="85.2" r="1.1"/><circle cx="64.9" cy="89.0" r="1.2"/><circle cx="67.6" cy="88.3" r="1.2"/><circle cx="57.2" cy="91.8" r="1.4"/><circle cx="78.6" cy="86.6" r="1.0"/><circle cx="57.9" cy="88.7" r="1.5"/><circle cx="71.4" cy="92.0" r="1.1"/><circle cx="73.1" cy="91.8" r="0.8"/><circle cx="65.2" cy="87.0" r="1.6"/><circle cx="74.4" cy="94.4" r="1.4"/><circle cx="76.4" cy="95.2" r="1.7"/><circle cx="72.1" cy="97.4" r="1.1"/><circle cx="53.7" cy="91.6" r="1.5"/><circle cx="72.6" cy="93.4" r="1.2"/><circle cx="67.8" cy="92.5" r="1.0"/><circle cx="69.5" cy="90.5" r="1.3"/><circle cx="68.7" cy="91.2" r="1.0"/><circle cx="65.1" cy="88.8" r="0.8"/><circle cx="78.9" cy="90.5" r="1.7"/><circle cx="72.9" cy="92.2" r="0.7"/><circle cx="70.4" cy="88.9" r="0.8"/><circle cx="59.4" cy="93.7" r="1.5"/><circle cx="69.5" cy="92.5" r="1.6"/><circle cx="62.3" cy="89.2" r="0.8"/><circle cx="77.2" cy="92.4" r="1.1"/><circle cx="80.8" cy="93.7" r="1.3"/><circle cx="70.3" cy="89.9" r="1.6"/><circle cx="79.2" cy="93.1" r="1.2"/><circle cx="66.1" cy="93.8" r="1.6"/><circle cx="69.3" cy="92.4" r="1.2"/><circle cx="69.8" cy="92.2" r="0.9"/><circle cx="73.0" cy="91.5" r="1.0"/><circle cx="66.6" cy="95.2" r="1.0"/><circle cx="66.3" cy="91.0" r="1.0"/><circle cx="73.6" cy="91.2" r="0.7"/><circle cx="68.9" cy="87.7" r="0.9"/><circle cx="57.5" cy="92.0" r="0.8"/></g>
<g fill="#000" opacity="0.7" filter="url(#bl05)"><circle cx="64.8" cy="84.3" r="1.2"/><circle cx="65.0" cy="84.5" r="1.2"/><circle cx="61.3" cy="81.9" r="1.0"/><circle cx="65.6" cy="83.7" r="1.3"/><circle cx="62.0" cy="86.5" r="0.8"/><circle cx="64.4" cy="86.1" r="1.4"/><circle cx="63.7" cy="86.6" r="0.8"/><circle cx="66.4" cy="83.2" r="1.4"/><circle cx="63.4" cy="86.8" r="1.0"/><circle cx="62.5" cy="85.9" r="1.1"/><circle cx="63.3" cy="89.4" r="1.7"/><circle cx="62.1" cy="85.4" r="1.7"/><circle cx="63.0" cy="87.0" r="0.7"/><circle cx="61.8" cy="86.8" r="1.2"/><circle cx="64.6" cy="87.4" r="0.7"/><circle cx="63.7" cy="86.4" r="1.1"/></g>
<g fill="#000" opacity="0.75" filter="url(#bl05)"><circle cx="115.3" cy="68.4" r="1.0"/><circle cx="115.0" cy="73.2" r="1.2"/><circle cx="114.4" cy="62.6" r="1.4"/><circle cx="117.7" cy="65.6" r="1.0"/><circle cx="117.0" cy="68.0" r="1.4"/><circle cx="113.5" cy="67.3" r="1.5"/><circle cx="119.5" cy="64.8" r="1.4"/><circle cx="115.4" cy="66.3" r="1.2"/><circle cx="105.5" cy="68.0" r="1.5"/><circle cx="117.2" cy="63.7" r="1.6"/><circle cx="111.4" cy="62.8" r="0.9"/><circle cx="116.8" cy="68.6" r="1.1"/><circle cx="121.4" cy="72.6" r="1.3"/><circle cx="109.8" cy="64.3" r="1.4"/><circle cx="114.0" cy="68.2" r="1.5"/><circle cx="114.3" cy="63.7" r="1.2"/><circle cx="113.4" cy="67.0" r="1.4"/><circle cx="114.3" cy="69.7" r="1.0"/><circle cx="114.0" cy="65.6" r="1.4"/><circle cx="119.8" cy="67.5" r="1.1"/><circle cx="107.3" cy="68.9" r="1.5"/><circle cx="109.4" cy="64.5" r="0.8"/><circle cx="116.5" cy="70.5" r="1.4"/><circle cx="112.3" cy="72.8" r="0.7"/><circle cx="117.8" cy="69.3" r="1.4"/><circle cx="111.9" cy="62.8" r="1.0"/><circle cx="109.2" cy="67.7" r="1.2"/><circle cx="121.7" cy="73.6" r="0.9"/><circle cx="125.2" cy="67.0" r="0.7"/><circle cx="106.0" cy="70.0" r="1.7"/><circle cx="110.9" cy="69.1" r="0.9"/><circle cx="117.4" cy="67.3" r="1.3"/><circle cx="118.0" cy="71.8" r="1.7"/><circle cx="120.2" cy="73.4" r="1.2"/><circle cx="119.9" cy="64.3" r="0.9"/><circle cx="118.7" cy="65.5" r="0.7"/><circle cx="119.8" cy="68.3" r="1.2"/><circle cx="113.5" cy="70.2" r="1.0"/><circle cx="110.8" cy="74.8" r="0.7"/><circle cx="114.4" cy="60.9" r="0.8"/><circle cx="121.0" cy="65.5" r="1.6"/><circle cx="113.3" cy="71.7" r="1.1"/><circle cx="120.6" cy="68.1" r="1.1"/><circle cx="111.0" cy="69.5" r="0.7"/><circle cx="121.5" cy="72.5" r="1.0"/><circle cx="117.6" cy="67.0" r="1.0"/><circle cx="111.3" cy="68.0" r="1.1"/><circle cx="123.7" cy="66.0" r="1.5"/><circle cx="107.3" cy="62.0" r="1.6"/><circle cx="107.3" cy="66.3" r="0.7"/><circle cx="113.8" cy="64.0" r="1.5"/><circle cx="112.0" cy="65.7" r="0.7"/><circle cx="116.6" cy="67.3" r="1.2"/><circle cx="112.2" cy="70.8" r="1.4"/><circle cx="118.0" cy="67.7" r="1.4"/><circle cx="112.5" cy="72.8" r="1.1"/><circle cx="115.8" cy="70.1" r="0.9"/><circle cx="118.9" cy="65.7" r="0.9"/><circle cx="127.4" cy="61.1" r="1.1"/><circle cx="116.3" cy="70.1" r="0.8"/><circle cx="113.3" cy="69.6" r="0.9"/><circle cx="114.1" cy="73.1" r="1.6"/><circle cx="114.4" cy="64.3" r="1.1"/><circle cx="109.9" cy="67.6" r="1.0"/><circle cx="117.9" cy="69.3" r="1.7"/><circle cx="118.3" cy="71.4" r="1.3"/><circle cx="116.5" cy="66.2" r="1.0"/><circle cx="114.4" cy="72.0" r="1.1"/><circle cx="123.1" cy="66.1" r="1.6"/><circle cx="115.6" cy="68.3" r="1.4"/><circle cx="118.6" cy="65.6" r="1.3"/><circle cx="119.0" cy="68.2" r="1.6"/><circle cx="118.6" cy="61.5" r="1.7"/><circle cx="114.4" cy="70.0" r="0.9"/><circle cx="107.4" cy="67.4" r="1.6"/><circle cx="113.2" cy="62.8" r="1.5"/><circle cx="108.7" cy="69.5" r="0.7"/><circle cx="115.1" cy="65.5" r="1.6"/><circle cx="111.9" cy="65.6" r="0.8"/><circle cx="114.3" cy="73.6" r="1.4"/><circle cx="115.7" cy="69.1" r="1.2"/><circle cx="110.4" cy="66.3" r="0.9"/><circle cx="113.8" cy="67.8" r="1.0"/><circle cx="102.9" cy="70.5" r="1.3"/><circle cx="118.3" cy="65.3" r="0.9"/></g>
<g fill="#000" opacity="0.5" filter="url(#bl05)"><circle cx="123.8" cy="79.1" r="1.4"/><circle cx="123.6" cy="75.0" r="1.2"/><circle cx="122.8" cy="73.0" r="1.0"/><circle cx="121.4" cy="71.1" r="0.9"/><circle cx="125.5" cy="74.9" r="1.1"/><circle cx="123.2" cy="73.5" r="1.5"/><circle cx="123.6" cy="72.5" r="0.9"/><circle cx="125.5" cy="74.3" r="1.5"/><circle cx="123.9" cy="75.8" r="1.5"/><circle cx="122.3" cy="78.8" r="1.2"/><circle cx="124.3" cy="75.8" r="1.1"/><circle cx="121.2" cy="70.9" r="0.8"/><circle cx="122.6" cy="75.4" r="1.7"/><circle cx="124.2" cy="75.1" r="0.8"/><circle cx="120.3" cy="76.9" r="1.6"/><circle cx="123.0" cy="68.6" r="1.6"/><circle cx="123.1" cy="75.6" r="1.6"/></g>
<g fill="#000" opacity="0.6" filter="url(#bl05)"><circle cx="12.6" cy="68.9" r="1.4"/><circle cx="11.0" cy="70.5" r="1.0"/><circle cx="12.7" cy="69.5" r="1.0"/><circle cx="9.1" cy="72.9" r="0.8"/><circle cx="14.2" cy="69.1" r="1.1"/><circle cx="14.5" cy="66.4" r="1.1"/><circle cx="15.1" cy="70.0" r="1.1"/><circle cx="14.0" cy="68.8" r="1.1"/><circle cx="13.1" cy="69.1" r="1.1"/><circle cx="14.1" cy="66.6" r="0.7"/><circle cx="13.4" cy="69.5" r="1.6"/><circle cx="12.4" cy="72.3" r="1.6"/><circle cx="11.6" cy="70.5" r="1.7"/><circle cx="11.3" cy="68.4" r="1.4"/><circle cx="11.9" cy="70.6" r="0.7"/><circle cx="12.8" cy="65.4" r="1.3"/><circle cx="13.1" cy="69.2" r="0.9"/><circle cx="6.8" cy="70.0" r="1.7"/><circle cx="11.3" cy="70.2" r="1.1"/></g>
<g fill="#000" opacity="0.6" filter="url(#bl05)"><circle cx="61.8" cy="42.0" r="0.9"/><circle cx="66.8" cy="40.0" r="1.5"/><circle cx="66.2" cy="40.3" r="1.0"/><circle cx="65.1" cy="42.9" r="1.5"/><circle cx="66.9" cy="42.2" r="1.5"/><circle cx="65.8" cy="42.3" r="0.7"/><circle cx="64.4" cy="41.5" r="1.7"/><circle cx="69.7" cy="39.5" r="1.0"/><circle cx="66.5" cy="42.1" r="1.2"/></g>
<g fill="#000" opacity="0.5" filter="url(#bl05)"><circle cx="124.6" cy="24.2" r="0.9"/><circle cx="122.4" cy="29.3" r="1.4"/><circle cx="125.1" cy="21.6" r="1.4"/><circle cx="128.4" cy="31.1" r="1.0"/><circle cx="123.1" cy="26.1" r="1.4"/><circle cx="125.7" cy="29.3" r="0.9"/><circle cx="128.0" cy="32.2" r="1.3"/><circle cx="124.1" cy="29.8" r="1.7"/><circle cx="123.5" cy="27.1" r="1.5"/><circle cx="121.1" cy="19.9" r="0.8"/><circle cx="120.9" cy="28.1" r="1.5"/><circle cx="125.8" cy="26.8" r="1.0"/><circle cx="126.3" cy="28.5" r="1.7"/><circle cx="120.5" cy="23.9" r="1.1"/><circle cx="126.9" cy="24.9" r="1.0"/><circle cx="126.2" cy="20.3" r="0.8"/><circle cx="122.5" cy="24.9" r="0.9"/><circle cx="124.3" cy="28.4" r="0.9"/><circle cx="125.1" cy="31.2" r="1.4"/><circle cx="125.3" cy="27.7" r="1.0"/><circle cx="124.5" cy="25.6" r="1.0"/><circle cx="126.4" cy="32.2" r="1.2"/><circle cx="126.2" cy="27.8" r="1.1"/><circle cx="122.0" cy="25.9" r="0.8"/><circle cx="127.1" cy="31.1" r="1.1"/><circle cx="124.8" cy="29.7" r="1.7"/><circle cx="124.0" cy="30.7" r="1.1"/><circle cx="121.1" cy="30.2" r="1.7"/><circle cx="124.2" cy="28.7" r="1.4"/><circle cx="125.3" cy="27.5" r="1.6"/><circle cx="121.3" cy="29.7" r="1.1"/><circle cx="127.1" cy="25.1" r="0.9"/></g>
<g fill="#000" opacity="0.5" filter="url(#bl05)"><circle cx="35.7" cy="71.2" r="1.3"/><circle cx="33.8" cy="70.8" r="1.3"/><circle cx="31.4" cy="72.1" r="0.8"/><circle cx="32.6" cy="72.5" r="1.6"/><circle cx="34.9" cy="72.0" r="1.5"/><circle cx="34.4" cy="70.9" r="0.8"/><circle cx="38.3" cy="70.0" r="1.2"/><circle cx="37.5" cy="72.0" r="1.1"/><circle cx="35.4" cy="70.2" r="1.5"/><circle cx="35.0" cy="72.8" r="0.9"/><circle cx="29.8" cy="72.4" r="1.5"/></g>
<g fill="#000" opacity="0.5" filter="url(#bl05)"><circle cx="42.5" cy="104.0" r="1.1"/><circle cx="39.6" cy="103.1" r="0.8"/><circle cx="41.9" cy="105.1" r="1.6"/><circle cx="44.8" cy="103.6" r="1.5"/><circle cx="46.2" cy="103.8" r="0.8"/><circle cx="39.5" cy="102.4" r="1.3"/><circle cx="41.0" cy="104.4" r="1.3"/><circle cx="38.8" cy="104.0" r="1.1"/><circle cx="41.4" cy="103.4" r="1.3"/><circle cx="40.2" cy="103.3" r="1.5"/><circle cx="42.3" cy="102.0" r="0.9"/><circle cx="40.8" cy="103.4" r="0.8"/><circle cx="40.9" cy="103.5" r="1.1"/></g>
<g fill="#000" opacity="0.45" filter="url(#bl05)"><circle cx="134.9" cy="47.7" r="1.3"/><circle cx="137.9" cy="50.1" r="1.5"/><circle cx="134.8" cy="47.6" r="1.2"/><circle cx="132.3" cy="52.7" r="0.8"/><circle cx="139.1" cy="40.1" r="1.4"/><circle cx="135.9" cy="45.9" r="1.7"/><circle cx="131.0" cy="48.1" r="1.6"/><circle cx="137.0" cy="52.1" r="1.6"/><circle cx="136.9" cy="48.8" r="1.5"/><circle cx="137.5" cy="52.9" r="1.0"/><circle cx="135.8" cy="46.2" r="1.2"/><circle cx="136.5" cy="46.7" r="1.0"/><circle cx="133.9" cy="47.6" r="0.7"/><circle cx="135.9" cy="49.3" r="1.6"/><circle cx="133.8" cy="42.1" r="0.9"/><circle cx="135.6" cy="46.3" r="1.2"/><circle cx="134.3" cy="45.6" r="1.6"/><circle cx="133.3" cy="46.4" r="1.6"/><circle cx="139.8" cy="53.3" r="1.3"/><circle cx="133.0" cy="50.9" r="1.0"/><circle cx="137.7" cy="47.5" r="1.1"/><circle cx="135.6" cy="44.6" r="0.9"/><circle cx="135.4" cy="46.8" r="1.5"/><circle cx="135.4" cy="51.9" r="1.7"/></g>
<g fill="#000" opacity="0.4" filter="url(#bl05)"><circle cx="110.2" cy="40.8" r="1.0"/><circle cx="112.4" cy="41.9" r="0.8"/><circle cx="110.9" cy="40.8" r="1.2"/><circle cx="112.7" cy="41.4" r="0.9"/><circle cx="111.9" cy="41.6" r="0.7"/><circle cx="111.6" cy="42.4" r="1.1"/><circle cx="112.3" cy="43.8" r="1.3"/><circle cx="112.6" cy="43.8" r="1.2"/><circle cx="114.3" cy="44.4" r="0.9"/><circle cx="112.4" cy="42.4" r="1.3"/></g>
<g fill="#000" opacity="0.4" filter="url(#bl05)"><circle cx="9.2" cy="26.5" r="1.1"/><circle cx="6.7" cy="30.6" r="1.3"/><circle cx="5.0" cy="29.1" r="1.3"/><circle cx="2.3" cy="32.5" r="1.4"/><circle cx="6.8" cy="36.5" r="0.7"/><circle cx="4.7" cy="29.6" r="0.9"/><circle cx="10.1" cy="32.0" r="0.7"/><circle cx="2.2" cy="28.0" r="0.8"/><circle cx="7.6" cy="34.0" r="1.2"/><circle cx="4.4" cy="26.0" r="0.9"/><circle cx="6.1" cy="32.5" r="0.7"/><circle cx="9.5" cy="26.9" r="1.4"/><circle cx="10.7" cy="30.4" r="1.4"/><circle cx="3.5" cy="31.2" r="1.2"/><circle cx="6.9" cy="31.5" r="0.9"/><circle cx="8.6" cy="30.8" r="1.4"/><circle cx="5.4" cy="24.8" r="1.4"/><circle cx="6.5" cy="33.9" r="1.1"/><circle cx="7.4" cy="26.7" r="1.0"/><circle cx="3.4" cy="24.3" r="0.9"/><circle cx="7.0" cy="29.8" r="1.0"/><circle cx="7.1" cy="35.0" r="1.6"/><circle cx="6.7" cy="27.6" r="1.6"/><circle cx="6.1" cy="32.1" r="1.6"/><circle cx="4.6" cy="26.9" r="1.4"/><circle cx="9.1" cy="29.7" r="1.5"/><circle cx="5.5" cy="24.7" r="1.1"/><circle cx="6.3" cy="26.4" r="1.0"/></g>
<g fill="#000" opacity="0.3" filter="url(#bl05)"><circle cx="95.5" cy="17.5" r="0.8"/><circle cx="95.9" cy="15.1" r="0.7"/><circle cx="99.8" cy="17.6" r="1.0"/><circle cx="94.9" cy="15.8" r="0.7"/><circle cx="93.0" cy="13.6" r="1.4"/><circle cx="94.4" cy="15.0" r="1.3"/><circle cx="91.0" cy="17.6" r="1.5"/><circle cx="95.3" cy="15.2" r="1.6"/><circle cx="100.5" cy="13.7" r="0.8"/><circle cx="94.9" cy="16.2" r="0.7"/><circle cx="97.6" cy="13.4" r="1.3"/><circle cx="96.4" cy="13.7" r="1.0"/><circle cx="95.6" cy="15.9" r="1.5"/><circle cx="95.2" cy="16.8" r="1.1"/><circle cx="96.7" cy="15.7" r="1.0"/><circle cx="93.9" cy="14.2" r="1.0"/><circle cx="97.9" cy="15.2" r="1.6"/><circle cx="94.0" cy="15.3" r="1.1"/><circle cx="89.9" cy="16.5" r="1.0"/><circle cx="93.5" cy="13.8" r="0.9"/></g>
<g fill="#000" opacity="0.3" filter="url(#bl05)"><circle cx="51.3" cy="23.8" r="1.5"/><circle cx="50.7" cy="24.4" r="0.9"/><circle cx="51.1" cy="20.3" r="0.7"/><circle cx="47.9" cy="24.4" r="1.5"/><circle cx="51.7" cy="25.9" r="1.0"/><circle cx="51.5" cy="23.3" r="1.6"/><circle cx="50.3" cy="25.3" r="1.4"/><circle cx="49.5" cy="24.3" r="1.3"/><circle cx="54.2" cy="25.6" r="1.4"/><circle cx="51.4" cy="22.3" r="1.1"/><circle cx="48.7" cy="25.2" r="1.6"/><circle cx="54.8" cy="25.9" r="0.7"/><circle cx="51.1" cy="25.4" r="1.6"/><circle cx="48.3" cy="24.3" r="1.6"/><circle cx="50.9" cy="25.9" r="1.2"/><circle cx="50.7" cy="21.9" r="1.3"/></g>
<path d="M112.6 -2.3L113.7 2.2L117.3 4.4L119.0 6.3L122.8 9.0L124.0 11.2L127.9 13.2L129.0 15.7L131.4 20.5L131.8 22.8L135.5 26.9L139.9 26.3L142.7 29.5L146.6 34.1L145.9 38.3L146.9 40.8L151.3 43.5L153.0 44.8L160.0 -5.0Z" fill="#000" filter="url(#bl05)"/>
<path d="M-3.0 54.9L-1.1 59.1L0.7 62.3L3.1 64.9L5.0 69.3L7.4 71.7L9.1 74.5L10.3 77.7L13.0 80.9L16.2 83.2L17.7 86.8L19.3 88.3L21.7 92.2L23.6 94.4L25.6 96.9L27.4 99.0L28.9 101.9L30.7 104.1L34.2 107.2L36.9 109.5L39.4 113.1L41.9 118.5L-5.0 125.0Z" fill="#000" filter="url(#bl05)"/>
<g fill="#7fe8ff" opacity="0.9" filter="url(#bl05)"><circle cx="41.9" cy="13.2" r="1.21"/><circle cx="35.4" cy="12.0" r="0.55"/><circle cx="100.3" cy="10.3" r="1.24"/><circle cx="123.7" cy="22.9" r="1.37"/><circle cx="126.7" cy="20.8" r="0.54"/><circle cx="58.5" cy="38.1" r="1.23"/><circle cx="65.3" cy="35.4" r="0.84"/><circle cx="70.2" cy="43.9" r="0.64"/><circle cx="60.9" cy="44.8" r="0.59"/><circle cx="94.5" cy="43.3" r="0.94"/><circle cx="88.6" cy="50.0" r="0.47"/><circle cx="32.5" cy="47.7" r="1.17"/><circle cx="41.3" cy="51.2" r="0.53"/><circle cx="53.6" cy="52.1" r="1.29"/><circle cx="70.5" cy="56.5" r="0.92"/><circle cx="86.6" cy="60.3" r="1.11"/><circle cx="93.6" cy="60.3" r="0.95"/><circle cx="110.0" cy="55.0" r="0.74"/><circle cx="114.4" cy="58.8" r="1.17"/><circle cx="118.5" cy="60.0" r="0.91"/><circle cx="11.2" cy="57.9" r="0.71"/><circle cx="58.5" cy="69.1" r="1.22"/><circle cx="72.6" cy="67.3" r="0.86"/><circle cx="76.9" cy="71.7" r="0.81"/><circle cx="33.1" cy="74.6" r="1.06"/><circle cx="27.2" cy="77.5" r="1.02"/><circle cx="44.8" cy="76.4" r="1.01"/><circle cx="51.2" cy="77.5" r="0.79"/><circle cx="104.7" cy="76.4" r="0.65"/><circle cx="114.4" cy="82.8" r="1.13"/><circle cx="117.9" cy="85.7" r="0.61"/><circle cx="126.1" cy="78.4" r="0.94"/><circle cx="81.3" cy="76.9" r="0.53"/><circle cx="36.0" cy="107.6" r="0.78"/><circle cx="55.0" cy="108.5" r="0.69"/><circle cx="98.9" cy="110.0" r="0.65"/><circle cx="68.2" cy="110.6" r="0.36"/><circle cx="36.0" cy="98.9" r="0.66"/><circle cx="138.4" cy="37.5" r="0.56"/><circle cx="132.5" cy="33.1" r="0.70"/><circle cx="18.5" cy="2.4" r="0.53"/><circle cx="81.3" cy="18.5" r="0.48"/><circle cx="30.2" cy="88.6" r="0.56"/><circle cx="131.0" cy="63.8" r="0.72"/><circle cx="100.3" cy="27.2" r="0.82"/></g>
<g fill="#d8fff0" opacity="1.0" filter="url(#bl05)"><circle cx="41.9" cy="13.2" r="0.61"/><circle cx="35.4" cy="12.0" r="0.54"/><circle cx="100.3" cy="10.3" r="0.66"/><circle cx="123.7" cy="22.9" r="0.58"/><circle cx="126.7" cy="20.8" r="0.64"/><circle cx="58.5" cy="38.1" r="0.53"/><circle cx="65.3" cy="35.4" r="0.76"/><circle cx="70.2" cy="43.9" r="0.76"/><circle cx="60.9" cy="44.8" r="0.63"/><circle cx="94.5" cy="43.3" r="0.69"/><circle cx="88.6" cy="50.0" r="0.71"/><circle cx="32.5" cy="47.7" r="0.55"/><circle cx="41.3" cy="51.2" r="0.79"/><circle cx="53.6" cy="52.1" r="0.57"/><circle cx="70.5" cy="56.5" r="0.73"/><circle cx="86.6" cy="60.3" r="1.16"/><circle cx="93.6" cy="60.3" r="0.66"/><circle cx="110.0" cy="55.0" r="0.69"/><circle cx="114.4" cy="58.8" r="0.56"/><circle cx="118.5" cy="60.0" r="0.81"/><circle cx="11.2" cy="57.9" r="0.63"/><circle cx="58.5" cy="69.1" r="0.67"/><circle cx="72.6" cy="67.3" r="0.67"/><circle cx="76.9" cy="71.7" r="0.87"/><circle cx="33.1" cy="74.6" r="1.05"/><circle cx="27.2" cy="77.5" r="0.78"/><circle cx="44.8" cy="76.4" r="0.55"/><circle cx="51.2" cy="77.5" r="0.69"/><circle cx="104.7" cy="76.4" r="0.64"/><circle cx="114.4" cy="82.8" r="0.90"/><circle cx="117.9" cy="85.7" r="0.84"/><circle cx="126.1" cy="78.4" r="0.66"/><circle cx="81.3" cy="76.9" r="0.55"/><circle cx="36.0" cy="107.6" r="0.96"/><circle cx="55.0" cy="108.5" r="0.80"/><circle cx="98.9" cy="110.0" r="0.69"/><circle cx="68.2" cy="110.6" r="0.63"/><circle cx="36.0" cy="98.9" r="0.73"/><circle cx="138.4" cy="37.5" r="0.57"/><circle cx="132.5" cy="33.1" r="0.69"/><circle cx="18.5" cy="2.4" r="0.67"/><circle cx="81.3" cy="18.5" r="0.51"/><circle cx="30.2" cy="88.6" r="0.77"/><circle cx="131.0" cy="63.8" r="0.68"/><circle cx="100.3" cy="27.2" r="0.66"/></g>
<rect x="0.5" y="0.5" width="147" height="113" fill="none" stroke="#000" stroke-width="1"/>
</svg>
<svg x="366" y="29" width="146" height="114" viewBox="0 0 146 114" overflow="hidden">
<rect width="146" height="114" fill="#000"/>
<rect width="146" height="114" filter="url(#nRBd)"/>
<ellipse cx="41.9" cy="30.2" rx="32.2" ry="26.3" fill="#c00020" opacity="0.14" filter="url(#bl4)"/>
<ellipse cx="120.8" cy="56.5" rx="17.5" ry="17.5" fill="#c00020" opacity="0.12" filter="url(#bl4)"/>
<ellipse cx="71.1" cy="94.5" rx="35.1" ry="11.7" fill="#c00020" opacity="0.1" filter="url(#bl4)"/>
<g fill="#000" opacity="0.6" filter="url(#bl05)"><circle cx="90.0" cy="52.7" r="1.3"/><circle cx="90.3" cy="42.0" r="1.7"/><circle cx="90.3" cy="37.2" r="0.8"/><circle cx="90.0" cy="46.1" r="1.5"/><circle cx="89.0" cy="45.2" r="1.6"/><circle cx="91.1" cy="37.7" r="1.6"/><circle cx="89.5" cy="33.6" r="1.4"/><circle cx="93.5" cy="34.4" r="1.5"/><circle cx="89.0" cy="52.4" r="1.2"/><circle cx="91.4" cy="34.1" r="1.6"/><circle cx="89.4" cy="39.8" r="0.9"/><circle cx="90.0" cy="48.5" r="0.8"/><circle cx="89.2" cy="42.5" r="1.2"/><circle cx="88.3" cy="41.6" r="1.6"/><circle cx="92.8" cy="42.9" r="1.2"/><circle cx="88.9" cy="37.4" r="1.5"/><circle cx="88.1" cy="47.0" r="1.7"/><circle cx="91.1" cy="46.9" r="1.3"/><circle cx="91.7" cy="44.0" r="1.4"/><circle cx="91.8" cy="39.4" r="1.7"/><circle cx="88.5" cy="41.0" r="1.6"/><circle cx="91.9" cy="44.7" r="1.3"/><circle cx="86.4" cy="53.7" r="1.1"/><circle cx="88.1" cy="43.0" r="1.5"/><circle cx="89.2" cy="49.4" r="1.1"/><circle cx="88.4" cy="36.9" r="1.0"/><circle cx="91.9" cy="35.5" r="1.2"/><circle cx="88.4" cy="50.3" r="1.7"/><circle cx="90.5" cy="31.1" r="1.0"/><circle cx="88.6" cy="47.3" r="1.3"/><circle cx="90.1" cy="32.1" r="0.7"/><circle cx="92.2" cy="27.0" r="1.2"/><circle cx="90.9" cy="43.9" r="0.7"/><circle cx="88.6" cy="57.2" r="1.3"/><circle cx="90.6" cy="31.0" r="1.6"/><circle cx="89.7" cy="35.2" r="1.3"/><circle cx="91.1" cy="32.6" r="1.4"/><circle cx="88.8" cy="52.3" r="1.2"/><circle cx="90.7" cy="38.6" r="0.9"/><circle cx="92.0" cy="45.1" r="1.6"/><circle cx="90.3" cy="36.0" r="1.5"/><circle cx="92.1" cy="32.9" r="1.0"/><circle cx="88.4" cy="48.9" r="1.0"/><circle cx="87.5" cy="45.9" r="1.6"/><circle cx="91.3" cy="45.3" r="0.7"/><circle cx="90.5" cy="51.1" r="1.3"/><circle cx="92.1" cy="38.3" r="0.7"/><circle cx="87.5" cy="47.9" r="1.6"/><circle cx="91.9" cy="41.2" r="1.1"/><circle cx="90.7" cy="48.3" r="0.9"/><circle cx="90.1" cy="42.9" r="0.7"/></g>
<g fill="#000" opacity="0.7" filter="url(#bl05)"><circle cx="97.6" cy="75.9" r="1.7"/><circle cx="123.8" cy="81.6" r="0.8"/><circle cx="122.1" cy="80.2" r="0.9"/><circle cx="99.5" cy="76.0" r="0.8"/><circle cx="103.9" cy="75.4" r="1.6"/><circle cx="99.7" cy="76.3" r="1.3"/><circle cx="96.7" cy="75.0" r="1.6"/><circle cx="99.0" cy="80.2" r="1.4"/><circle cx="102.7" cy="77.3" r="1.4"/><circle cx="102.7" cy="76.8" r="1.0"/><circle cx="99.4" cy="76.0" r="1.6"/><circle cx="95.5" cy="76.3" r="1.1"/><circle cx="87.3" cy="74.5" r="1.4"/><circle cx="115.2" cy="80.9" r="1.1"/><circle cx="88.6" cy="73.8" r="1.1"/><circle cx="81.9" cy="75.9" r="1.6"/><circle cx="104.4" cy="75.8" r="1.0"/><circle cx="134.6" cy="83.1" r="1.4"/><circle cx="106.3" cy="76.7" r="1.3"/><circle cx="126.1" cy="80.2" r="1.3"/><circle cx="94.9" cy="77.5" r="1.6"/><circle cx="85.2" cy="76.2" r="1.3"/><circle cx="120.4" cy="78.3" r="1.0"/><circle cx="111.1" cy="78.5" r="1.1"/><circle cx="78.9" cy="72.7" r="1.6"/><circle cx="125.4" cy="81.1" r="1.5"/><circle cx="112.5" cy="77.4" r="1.0"/><circle cx="115.4" cy="77.1" r="1.4"/><circle cx="111.3" cy="77.9" r="0.8"/><circle cx="77.3" cy="72.9" r="0.9"/><circle cx="100.8" cy="73.9" r="0.9"/><circle cx="84.3" cy="73.5" r="1.2"/><circle cx="103.0" cy="78.3" r="1.5"/><circle cx="104.5" cy="76.1" r="0.8"/><circle cx="108.9" cy="76.0" r="0.9"/><circle cx="74.8" cy="72.0" r="1.6"/><circle cx="84.9" cy="74.6" r="1.3"/><circle cx="103.6" cy="78.2" r="0.9"/><circle cx="96.6" cy="75.2" r="1.3"/><circle cx="86.6" cy="75.9" r="0.8"/><circle cx="145.4" cy="84.5" r="1.1"/><circle cx="115.5" cy="80.2" r="1.5"/><circle cx="110.4" cy="79.9" r="1.0"/><circle cx="97.6" cy="76.5" r="0.7"/><circle cx="127.9" cy="80.7" r="1.2"/><circle cx="90.6" cy="75.2" r="1.5"/><circle cx="70.4" cy="74.2" r="1.5"/><circle cx="115.6" cy="76.0" r="1.0"/><circle cx="109.3" cy="78.4" r="0.9"/><circle cx="104.2" cy="77.7" r="1.3"/><circle cx="111.0" cy="77.4" r="1.6"/><circle cx="104.6" cy="77.3" r="1.3"/><circle cx="94.7" cy="76.6" r="1.7"/><circle cx="99.3" cy="78.5" r="1.3"/><circle cx="120.1" cy="79.2" r="1.1"/><circle cx="92.6" cy="76.1" r="1.7"/><circle cx="110.1" cy="78.3" r="0.7"/><circle cx="99.7" cy="78.1" r="1.6"/><circle cx="122.2" cy="78.6" r="0.7"/><circle cx="105.5" cy="75.6" r="1.3"/><circle cx="105.0" cy="77.6" r="0.8"/><circle cx="101.8" cy="74.0" r="1.4"/><circle cx="94.6" cy="77.8" r="1.5"/><circle cx="109.8" cy="79.0" r="1.0"/><circle cx="111.4" cy="79.6" r="0.9"/><circle cx="100.8" cy="77.7" r="1.4"/><circle cx="122.1" cy="80.2" r="0.9"/><circle cx="131.0" cy="81.9" r="0.9"/><circle cx="125.8" cy="79.4" r="1.6"/><circle cx="109.7" cy="79.4" r="0.8"/><circle cx="124.3" cy="79.2" r="1.3"/><circle cx="88.3" cy="75.6" r="1.5"/><circle cx="81.1" cy="74.5" r="0.8"/><circle cx="101.1" cy="77.5" r="1.4"/><circle cx="93.1" cy="75.7" r="1.6"/><circle cx="98.7" cy="78.1" r="0.9"/><circle cx="96.5" cy="78.9" r="1.0"/><circle cx="108.0" cy="79.4" r="1.0"/><circle cx="105.9" cy="77.4" r="1.7"/><circle cx="127.6" cy="81.8" r="1.4"/><circle cx="103.9" cy="78.9" r="1.0"/><circle cx="99.8" cy="77.8" r="1.1"/><circle cx="149.0" cy="83.5" r="1.6"/><circle cx="109.6" cy="78.9" r="1.6"/><circle cx="121.0" cy="80.6" r="1.0"/><circle cx="102.8" cy="77.3" r="1.5"/><circle cx="96.2" cy="77.0" r="0.7"/></g>
<g fill="#000" opacity="0.6" filter="url(#bl05)"><circle cx="124.2" cy="81.8" r="0.9"/><circle cx="109.1" cy="85.4" r="0.9"/><circle cx="117.9" cy="83.4" r="0.9"/><circle cx="121.8" cy="81.5" r="0.9"/><circle cx="123.0" cy="83.4" r="1.3"/><circle cx="116.2" cy="83.8" r="0.9"/><circle cx="113.8" cy="82.8" r="1.5"/><circle cx="117.4" cy="83.3" r="0.8"/><circle cx="120.1" cy="82.3" r="1.4"/><circle cx="130.9" cy="83.2" r="1.0"/><circle cx="127.0" cy="80.9" r="1.2"/><circle cx="133.6" cy="82.5" r="1.2"/><circle cx="123.9" cy="82.4" r="0.9"/><circle cx="123.5" cy="82.2" r="0.9"/><circle cx="115.5" cy="85.0" r="0.7"/><circle cx="114.5" cy="83.8" r="1.2"/><circle cx="127.6" cy="84.1" r="1.5"/><circle cx="124.1" cy="82.3" r="1.4"/><circle cx="113.8" cy="85.3" r="0.8"/><circle cx="130.7" cy="80.4" r="1.2"/><circle cx="113.7" cy="83.9" r="1.2"/><circle cx="136.0" cy="82.5" r="0.9"/><circle cx="122.0" cy="83.8" r="1.0"/><circle cx="121.4" cy="83.1" r="0.8"/><circle cx="119.5" cy="82.8" r="0.7"/><circle cx="114.5" cy="83.0" r="1.2"/><circle cx="120.0" cy="82.9" r="1.6"/><circle cx="120.4" cy="83.1" r="0.8"/><circle cx="114.0" cy="84.0" r="1.0"/><circle cx="125.2" cy="83.8" r="0.8"/><circle cx="111.0" cy="83.0" r="0.8"/><circle cx="112.1" cy="83.3" r="0.9"/></g>
<g fill="#000" opacity="0.5" filter="url(#bl05)"><circle cx="73.2" cy="56.1" r="1.1"/><circle cx="59.4" cy="65.4" r="1.2"/><circle cx="58.5" cy="66.4" r="1.5"/><circle cx="66.3" cy="62.4" r="1.0"/><circle cx="54.4" cy="67.4" r="1.5"/><circle cx="76.4" cy="56.5" r="1.5"/><circle cx="74.6" cy="59.1" r="1.7"/><circle cx="71.9" cy="59.1" r="1.1"/><circle cx="64.3" cy="61.3" r="1.2"/><circle cx="73.7" cy="59.5" r="1.2"/><circle cx="71.2" cy="59.9" r="1.7"/><circle cx="69.3" cy="57.2" r="1.3"/><circle cx="71.5" cy="57.0" r="1.6"/><circle cx="76.0" cy="58.4" r="1.0"/><circle cx="65.9" cy="60.7" r="1.2"/><circle cx="74.7" cy="57.6" r="1.0"/><circle cx="62.3" cy="62.8" r="1.7"/><circle cx="67.5" cy="62.3" r="1.3"/><circle cx="74.0" cy="60.1" r="1.7"/><circle cx="63.8" cy="62.4" r="1.2"/><circle cx="65.1" cy="61.8" r="0.8"/><circle cx="71.6" cy="60.5" r="1.1"/><circle cx="67.5" cy="62.1" r="0.8"/><circle cx="57.9" cy="63.9" r="1.3"/><circle cx="60.7" cy="62.7" r="0.9"/><circle cx="66.2" cy="60.1" r="1.2"/><circle cx="63.2" cy="61.7" r="1.0"/><circle cx="68.7" cy="61.7" r="1.2"/><circle cx="63.2" cy="63.9" r="0.7"/><circle cx="62.3" cy="65.2" r="0.9"/><circle cx="62.0" cy="62.5" r="1.0"/><circle cx="72.7" cy="59.1" r="1.5"/><circle cx="69.4" cy="60.8" r="1.6"/><circle cx="66.4" cy="61.7" r="1.1"/><circle cx="60.1" cy="64.6" r="0.8"/><circle cx="71.5" cy="63.2" r="1.4"/></g>
<g fill="#000" opacity="0.5" filter="url(#bl05)"><circle cx="34.5" cy="84.4" r="1.1"/><circle cx="31.5" cy="80.5" r="1.5"/><circle cx="35.4" cy="82.1" r="1.4"/><circle cx="33.6" cy="80.6" r="1.2"/><circle cx="35.0" cy="81.3" r="1.6"/><circle cx="37.3" cy="86.4" r="0.7"/><circle cx="34.1" cy="81.3" r="1.2"/><circle cx="37.6" cy="84.0" r="1.1"/><circle cx="35.4" cy="80.9" r="1.3"/><circle cx="30.0" cy="82.7" r="1.2"/><circle cx="33.0" cy="81.6" r="1.1"/><circle cx="30.1" cy="81.2" r="1.0"/><circle cx="35.5" cy="81.0" r="1.2"/><circle cx="30.9" cy="82.3" r="1.0"/><circle cx="35.4" cy="85.1" r="1.3"/><circle cx="39.1" cy="86.6" r="1.0"/><circle cx="37.4" cy="82.2" r="1.7"/><circle cx="33.7" cy="84.4" r="1.6"/><circle cx="34.1" cy="83.2" r="1.3"/><circle cx="25.3" cy="80.0" r="1.5"/><circle cx="21.5" cy="77.4" r="1.2"/><circle cx="28.0" cy="80.7" r="1.1"/><circle cx="29.7" cy="83.0" r="1.1"/></g>
<g fill="#000" opacity="0.5" filter="url(#bl05)"><circle cx="62.7" cy="96.9" r="1.2"/><circle cx="59.9" cy="98.1" r="1.1"/><circle cx="51.2" cy="96.8" r="1.6"/><circle cx="61.4" cy="97.1" r="1.1"/><circle cx="46.1" cy="94.7" r="1.0"/><circle cx="48.6" cy="97.0" r="0.9"/><circle cx="51.4" cy="100.4" r="1.5"/><circle cx="54.4" cy="97.4" r="1.6"/><circle cx="53.5" cy="95.4" r="1.7"/><circle cx="60.0" cy="96.6" r="0.9"/><circle cx="55.2" cy="98.8" r="1.2"/><circle cx="57.5" cy="98.1" r="1.3"/><circle cx="53.2" cy="96.8" r="1.7"/><circle cx="55.6" cy="97.2" r="1.1"/><circle cx="57.4" cy="96.4" r="1.4"/><circle cx="60.2" cy="97.4" r="1.5"/><circle cx="50.9" cy="96.5" r="0.9"/><circle cx="50.9" cy="97.4" r="1.0"/><circle cx="53.2" cy="96.3" r="1.7"/><circle cx="52.5" cy="96.9" r="0.8"/><circle cx="60.6" cy="99.1" r="0.8"/><circle cx="58.6" cy="97.8" r="1.2"/><circle cx="59.2" cy="96.0" r="1.5"/><circle cx="57.1" cy="97.5" r="1.5"/></g>
<g fill="#000" opacity="0.5" filter="url(#bl05)"><circle cx="14.5" cy="51.0" r="1.1"/><circle cx="16.1" cy="47.8" r="0.8"/><circle cx="17.1" cy="41.5" r="1.0"/><circle cx="14.2" cy="46.1" r="0.8"/><circle cx="17.0" cy="41.1" r="1.7"/><circle cx="13.7" cy="47.0" r="0.9"/><circle cx="18.8" cy="47.5" r="1.6"/><circle cx="14.3" cy="53.4" r="1.5"/><circle cx="14.9" cy="50.4" r="1.7"/><circle cx="12.0" cy="45.1" r="0.9"/><circle cx="13.8" cy="49.2" r="0.9"/><circle cx="14.5" cy="53.1" r="1.2"/><circle cx="15.8" cy="41.6" r="0.9"/><circle cx="15.0" cy="47.0" r="1.7"/><circle cx="15.1" cy="50.2" r="0.8"/><circle cx="14.1" cy="43.9" r="1.1"/><circle cx="16.2" cy="45.7" r="1.5"/><circle cx="14.9" cy="47.4" r="0.9"/><circle cx="15.3" cy="47.9" r="0.7"/><circle cx="14.9" cy="41.3" r="0.9"/><circle cx="15.4" cy="42.9" r="1.0"/><circle cx="15.9" cy="42.8" r="1.1"/><circle cx="16.9" cy="38.0" r="0.9"/><circle cx="14.1" cy="50.4" r="1.1"/><circle cx="16.5" cy="44.0" r="1.7"/><circle cx="14.5" cy="44.7" r="1.2"/><circle cx="17.1" cy="49.8" r="1.0"/><circle cx="17.1" cy="41.3" r="1.1"/><circle cx="15.6" cy="50.8" r="0.9"/><circle cx="16.1" cy="43.2" r="1.2"/></g>
<g fill="#000" opacity="0.4" filter="url(#bl05)"><circle cx="133.2" cy="21.1" r="1.5"/><circle cx="132.2" cy="22.8" r="1.3"/><circle cx="134.3" cy="22.7" r="0.8"/><circle cx="138.0" cy="24.0" r="1.0"/><circle cx="134.7" cy="20.8" r="1.3"/><circle cx="133.2" cy="22.7" r="1.0"/><circle cx="137.7" cy="21.9" r="0.9"/><circle cx="138.7" cy="23.0" r="1.0"/><circle cx="130.2" cy="23.2" r="1.5"/><circle cx="139.7" cy="19.4" r="0.8"/><circle cx="135.3" cy="21.7" r="1.4"/><circle cx="134.0" cy="20.2" r="1.1"/><circle cx="133.0" cy="19.5" r="0.9"/><circle cx="137.0" cy="20.3" r="1.3"/><circle cx="136.0" cy="22.0" r="1.6"/><circle cx="135.0" cy="19.1" r="0.7"/><circle cx="137.1" cy="21.6" r="0.9"/><circle cx="134.5" cy="22.7" r="0.7"/><circle cx="133.9" cy="23.3" r="0.9"/><circle cx="137.5" cy="19.8" r="1.4"/></g>
<g fill="#000" opacity="0.4" filter="url(#bl05)"><circle cx="76.0" cy="16.8" r="1.4"/><circle cx="76.8" cy="15.5" r="1.5"/><circle cx="78.1" cy="14.8" r="0.7"/><circle cx="80.9" cy="16.0" r="0.7"/><circle cx="76.7" cy="16.2" r="1.5"/><circle cx="77.5" cy="19.5" r="1.4"/><circle cx="81.4" cy="19.4" r="1.1"/><circle cx="78.2" cy="13.1" r="1.0"/><circle cx="83.8" cy="21.7" r="1.1"/><circle cx="82.7" cy="17.8" r="1.4"/><circle cx="80.4" cy="15.5" r="1.2"/><circle cx="82.1" cy="19.4" r="1.1"/><circle cx="68.4" cy="10.3" r="0.8"/><circle cx="77.3" cy="15.2" r="1.4"/><circle cx="78.5" cy="15.2" r="1.2"/><circle cx="82.5" cy="18.3" r="1.2"/><circle cx="76.7" cy="16.0" r="1.1"/><circle cx="74.5" cy="14.7" r="1.0"/><circle cx="80.0" cy="19.3" r="1.4"/><circle cx="76.6" cy="16.6" r="1.2"/><circle cx="68.0" cy="11.7" r="1.1"/><circle cx="73.1" cy="16.7" r="0.8"/><circle cx="74.0" cy="13.3" r="1.5"/><circle cx="71.2" cy="11.4" r="0.9"/><circle cx="75.2" cy="12.6" r="1.2"/><circle cx="79.0" cy="13.6" r="0.8"/><circle cx="75.4" cy="16.2" r="0.9"/><circle cx="79.6" cy="17.6" r="0.9"/><circle cx="76.5" cy="13.5" r="0.8"/><circle cx="74.3" cy="15.7" r="1.1"/></g>
<g fill="#000" opacity="0.5" filter="url(#bl05)"><circle cx="21.9" cy="18.9" r="0.7"/><circle cx="26.3" cy="18.4" r="0.8"/><circle cx="19.7" cy="15.3" r="1.3"/><circle cx="24.0" cy="19.3" r="1.1"/><circle cx="22.7" cy="19.8" r="0.7"/><circle cx="25.1" cy="17.7" r="1.3"/><circle cx="25.3" cy="17.8" r="1.0"/><circle cx="21.4" cy="19.1" r="0.7"/><circle cx="22.2" cy="16.3" r="1.0"/><circle cx="23.0" cy="20.0" r="1.5"/><circle cx="23.0" cy="18.2" r="1.5"/><circle cx="23.7" cy="16.8" r="1.0"/><circle cx="23.6" cy="20.5" r="1.0"/><circle cx="18.9" cy="19.6" r="1.1"/><circle cx="22.5" cy="17.7" r="0.7"/><circle cx="17.6" cy="17.8" r="1.5"/></g>
<path d="M9.1 -1.4L9.5 3.5L8.6 6.5L8.1 10.7L7.5 14.4L7.4 17.5L9.7 21.2L9.3 26.0L9.2 29.9L8.6 33.6L9.7 37.1L8.7 39.8L9.5 43.3L9.6 46.1L10.0 49.8L11.1 53.3L10.6 55.8L11.5 59.7L11.9 62.5L12.0 66.2L13.1 70.7L14.5 74.0L15.3 77.7L15.4 81.0L15.1 84.2L15.8 87.1L15.5 91.7L15.1 94.7L14.6 97.7L16.2 100.8L15.8 105.3L16.8 107.9L17.8 111.8L18.2 115.1L18.5 118.5L-5.0 420.0L-5.0 -5.0Z" fill="#000" filter="url(#bl05)"/>
<g stroke="#8dffb0" opacity="0.95" filter="url(#bl05)" fill="none" stroke-linecap="round"><path stroke-width="2.4" d="M78.8 63.7l-0.7 1.4M37.2 55.3l0.4 1.0M34.1 64.8l-0.7 1.0M127.3 62.2l0.6 1.1M129.6 64.1l-1.5 0.2M108.5 107.3l1.0 1.1M137.1 76.6l-0.8 0.7M86.3 12.8l-0.5 0.8M16.5 90.9l0.2 0.5M139.9 1.6l0.6 0.7M118.5 4.2l-0.4 0.3M85.2 43.8l0.3 1.1M38.9 64.8l0.2 0.2M141.7 112.2l-0.6 1.4M114.2 71.6l0.4 1.2M128.7 106.3l0.6 1.1M44.8 86.4l0.6 1.2M82.0 46.2l-1.1 0.3M35.3 39.8l-0.8 0.4M65.9 64.4l0.3 0.9M25.5 7.7l-0.5 0.2M45.2 82.5l1.2 0.6M138.5 38.3l-0.0 1.2M86.8 8.9l-1.0 1.0M86.4 112.2l-1.0 0.4M40.7 29.5l0.5 0.1M32.1 45.2l0.9 1.0M95.3 104.6l-1.3 0.9M47.9 85.2l1.1 0.3M59.8 77.4l0.6 0.0M145.8 6.6l0.2 0.2M97.3 68.5l-0.1 0.1M97.0 87.5l-0.2 1.3M13.2 3.4l0.7 0.1M27.3 106.4l-0.3 1.1M136.3 18.3l-0.2 0.8M117.9 51.9l0.8 1.3M133.5 12.5l0.0 0.2M38.8 49.2l0.4 0.7M128.6 30.5l-0.2 0.3M72.4 100.9l-1.1 1.1M101.4 67.6l-1.0 1.1M85.6 100.4l0.2 0.1M127.5 20.8l0.2 0.4M34.4 49.1l0.2 0.1M20.9 48.5l-1.2 0.9M100.7 16.9l1.2 0.5M39.9 8.1l-1.1 0.2M102.3 111.5l-0.5 0.6M106.7 45.3l-1.2 0.6M56.8 46.8l0.7 0.0M147.4 0.3l0.1 1.3M17.6 95.6l-0.4 0.7M48.2 73.5l-0.1 0.2M110.6 96.7l-0.6 0.8M87.7 113.1l-0.1 0.2M104.9 44.6l0.9 0.8M90.6 76.6l0.1 1.1M78.4 92.2l-0.7 0.8M128.1 5.2l0.2 0.0M23.3 28.2l-0.6 1.4M52.7 91.3l0.4 0.2M21.9 77.2l1.0 0.6M50.5 43.4l-0.0 0.3M26.7 81.8l-0.1 0.0M91.4 41.8l-0.0 1.3M120.2 40.0l-0.8 0.6M98.5 37.7l-0.1 0.1M111.4 43.2l0.7 0.3M113.7 87.5l0.1 0.4M146.8 92.8l1.3 0.4M39.2 35.7l-0.4 0.4M62.2 6.1l0.1 0.0M38.1 22.9l0.2 0.8M72.9 66.4l-1.0 0.3M119.1 22.9l-1.2 0.4M42.7 80.9l1.2 0.1M65.8 99.3l0.3 1.3M64.4 72.8l-0.4 0.1M127.1 8.1l0.8 0.8M100.4 33.3l-1.1 1.0M124.4 16.3l-1.1 1.1M101.6 17.7l-0.4 0.4M103.4 4.6l-1.1 0.9M47.4 63.9l-0.2 0.1M57.4 3.7l1.4 0.8M14.2 52.5l-0.1 1.1M64.0 77.3l-0.7 0.2M121.7 14.0l1.5 0.4M80.0 10.2l0.1 0.4M40.7 101.3l-0.8 0.8"/><path stroke-width="1.6" d="M76.0 66.9l-0.1 0.3M107.1 11.8l-0.8 0.3M82.8 88.0l1.0 0.6M114.7 6.8l0.1 0.1M128.9 19.3l-0.6 0.1M50.6 86.7l0.1 0.6M121.9 14.0l0.2 0.5M81.1 90.7l0.2 1.4M28.9 50.9l-0.2 0.2M121.1 76.8l-0.3 1.3M57.8 98.8l1.0 1.1M132.1 67.1l-0.0 0.2M75.4 71.7l-0.1 1.4M71.0 41.9l0.6 0.1M114.8 48.5l-0.7 0.9M129.2 39.0l0.4 0.1M107.1 37.3l-0.1 0.8M109.6 29.4l-0.2 0.4M112.9 88.1l-0.1 0.6M113.7 110.8l1.0 0.8M145.5 26.2l1.3 0.1M74.6 72.5l-1.4 0.0M127.9 6.8l-0.4 0.7M30.1 86.2l0.4 0.5M44.4 112.5l-0.1 1.2M121.6 32.2l-0.1 0.5M131.0 40.7l-0.9 1.1M147.5 34.1l-1.0 0.0M134.6 17.4l0.1 0.1M102.5 4.2l-1.2 0.8M129.8 13.4l0.1 1.3M73.5 104.1l-0.0 0.9M107.9 31.3l0.5 0.0M62.1 110.7l0.1 0.1M136.9 28.5l-0.2 1.4M56.0 27.4l-0.2 0.5M134.4 5.9l-0.4 0.1M46.8 110.4l0.1 0.4M93.0 84.3l0.2 0.8M93.2 61.3l-0.4 1.4M70.8 25.4l-0.5 0.0M137.3 60.1l-0.5 0.4M25.9 93.6l-0.2 0.0M122.4 92.6l1.2 1.0M146.7 79.0l1.2 0.4M30.5 64.9l-1.2 0.4M85.6 105.2l-0.0 0.2M143.1 81.1l0.7 0.0M105.2 54.3l-0.2 1.5M102.3 47.7l-0.2 0.2M127.4 63.3l-1.0 0.1M128.2 90.8l-0.3 1.1M26.7 104.7l0.3 0.5M118.7 56.8l-0.8 0.0M30.8 11.6l0.1 0.5M116.1 108.1l-0.4 0.2M134.5 36.7l0.4 1.0M147.4 106.8l-0.5 0.2M73.7 105.6l-0.3 0.4"/></g>
<g stroke="#7fe8ff" opacity="0.9" filter="url(#bl05)" fill="none" stroke-linecap="round"><path stroke-width="1.6" d="M33.7 105.1l0.2 0.2M139.7 74.4l-0.4 0.9M49.5 51.0l-0.2 0.7M109.6 20.6l0.4 0.1M88.1 52.6l0.0 0.2M55.4 75.5l0.2 0.1M25.5 107.0l-0.3 0.4M124.1 99.3l0.7 0.2M79.5 57.5l-0.4 0.7M29.4 46.1l0.1 0.1M74.3 101.3l-0.1 0.2M139.1 55.6l0.6 0.4M84.5 78.5l-0.2 0.0M110.9 17.4l-0.1 0.7M43.3 101.4l0.2 0.0M116.0 81.0l-0.2 0.0M120.1 39.0l0.7 0.3M68.3 104.7l0.1 0.3M138.8 47.0l0.1 0.1M100.3 17.3l0.1 0.3M20.9 22.7l0.2 0.2M116.9 54.6l0.2 0.4M115.4 103.3l-0.5 0.2M106.1 39.9l0.0 0.1M142.8 76.5l-0.3 0.4M133.7 84.8l0.0 0.2M118.5 67.2l0.1 0.3M121.9 89.3l0.1 0.1M44.5 108.9l-0.2 0.9M101.8 80.9l-0.9 0.1M116.0 90.4l-0.2 0.0M139.0 93.9l0.3 0.2M50.2 67.8l0.3 0.1M117.1 0.4l0.1 0.9M62.0 68.9l0.0 0.2M49.8 24.5l-0.1 0.2M124.9 70.6l-0.2 0.0M18.0 77.8l0.3 0.0M121.3 21.2l0.6 0.0M141.5 41.1l-0.1 0.8M131.6 69.3l-0.2 0.5M75.1 112.4l-0.2 0.1M66.9 91.9l0.8 0.5M127.7 58.5l-0.6 0.2M141.4 41.3l0.2 0.1M54.2 111.0l-0.6 0.1M123.0 77.9l0.7 0.0M131.7 16.3l0.0 1.0M112.8 33.4l-0.3 0.0"/><path stroke-width="0.8" d="M88.3 109.9l0.6 0.4M14.4 62.9l0.0 0.1M17.3 53.1l0.6 0.6M125.3 89.4l-0.6 0.3M116.5 28.8l-0.2 0.2M137.0 101.7l0.3 0.0"/><path stroke-width="2.4" d="M19.6 65.6l0.5 0.5M17.8 56.5l-0.4 0.2M123.1 18.6l-0.7 0.3M107.7 85.3l0.0 0.3M110.2 72.9l0.5 0.4"/></g>
<g fill="#d8fff0" opacity="0.85" filter="url(#bl05)"><circle cx="78.4" cy="64.4" r="0.54"/><circle cx="37.4" cy="55.8" r="0.50"/><circle cx="33.7" cy="65.3" r="0.64"/><circle cx="76.0" cy="67.1" r="0.51"/><circle cx="127.6" cy="62.8" r="0.53"/><circle cx="106.7" cy="11.9" r="0.52"/><circle cx="83.3" cy="88.3" r="0.58"/><circle cx="114.7" cy="6.9" r="0.45"/><circle cx="128.9" cy="64.2" r="0.52"/><circle cx="128.7" cy="19.4" r="0.48"/><circle cx="50.7" cy="87.0" r="0.62"/><circle cx="122.0" cy="14.3" r="0.45"/><circle cx="109.0" cy="107.9" r="0.57"/><circle cx="81.2" cy="91.4" r="0.50"/><circle cx="136.7" cy="76.9" r="0.54"/><circle cx="28.8" cy="51.0" r="0.56"/><circle cx="86.0" cy="13.2" r="0.59"/><circle cx="16.6" cy="91.2" r="0.48"/><circle cx="140.2" cy="1.9" r="0.50"/><circle cx="118.3" cy="4.4" r="0.47"/><circle cx="120.9" cy="77.4" r="0.64"/><circle cx="58.3" cy="99.4" r="0.48"/><circle cx="132.1" cy="67.2" r="0.48"/><circle cx="85.4" cy="44.3" r="0.55"/><circle cx="39.0" cy="64.9" r="0.57"/><circle cx="141.4" cy="112.9" r="0.63"/><circle cx="114.4" cy="72.2" r="0.46"/><circle cx="129.0" cy="106.8" r="0.50"/><circle cx="45.1" cy="86.9" r="0.48"/><circle cx="75.3" cy="72.4" r="0.57"/><circle cx="81.5" cy="46.4" r="0.54"/><circle cx="71.3" cy="42.0" r="0.53"/><circle cx="34.9" cy="40.0" r="0.63"/><circle cx="66.0" cy="64.9" r="0.58"/><circle cx="25.2" cy="7.9" r="0.62"/><circle cx="45.8" cy="82.8" r="0.64"/><circle cx="138.5" cy="39.0" r="0.50"/><circle cx="86.3" cy="9.4" r="0.64"/><circle cx="85.9" cy="112.4" r="0.53"/><circle cx="114.5" cy="48.9" r="0.46"/><circle cx="41.0" cy="29.6" r="0.63"/><circle cx="32.5" cy="45.7" r="0.47"/><circle cx="129.4" cy="39.0" r="0.45"/><circle cx="94.6" cy="105.0" r="0.51"/><circle cx="48.5" cy="85.4" r="0.51"/><circle cx="60.1" cy="77.4" r="0.64"/><circle cx="145.9" cy="6.7" r="0.62"/><circle cx="107.1" cy="37.7" r="0.53"/><circle cx="97.2" cy="68.6" r="0.56"/><circle cx="109.6" cy="29.6" r="0.62"/><circle cx="112.8" cy="88.4" r="0.61"/><circle cx="114.2" cy="111.2" r="0.58"/><circle cx="96.9" cy="88.2" r="0.55"/><circle cx="146.2" cy="26.2" r="0.47"/><circle cx="13.6" cy="3.5" r="0.50"/><circle cx="27.1" cy="107.0" r="0.58"/><circle cx="136.1" cy="18.7" r="0.57"/><circle cx="73.9" cy="72.5" r="0.61"/><circle cx="118.3" cy="52.5" r="0.63"/><circle cx="133.5" cy="12.6" r="0.64"/><circle cx="127.7" cy="7.1" r="0.49"/><circle cx="39.0" cy="49.6" r="0.47"/><circle cx="30.3" cy="86.5" r="0.63"/><circle cx="44.3" cy="113.1" r="0.56"/><circle cx="128.4" cy="30.7" r="0.49"/><circle cx="121.6" cy="32.4" r="0.59"/><circle cx="71.9" cy="101.4" r="0.50"/><circle cx="101.0" cy="68.1" r="0.50"/><circle cx="85.7" cy="100.5" r="0.52"/><circle cx="130.5" cy="41.2" r="0.55"/></g>
<rect x="0.5" y="0.5" width="145" height="113" fill="none" stroke="#000" stroke-width="1"/>
</svg>
<svg x="212" y="176" width="148" height="114.5" viewBox="0 0 148 114.5" overflow="hidden">
<rect width="148" height="114.5" fill="#000"/>
<rect width="148" height="114.5" filter="url(#nRB3)"/>
<ellipse cx="27.2" cy="79.9" rx="35.1" ry="29.2" fill="#d00020" opacity="0.24" filter="url(#bl4)"/>
<ellipse cx="15.5" cy="33.1" rx="17.5" ry="14.6" fill="#d00020" opacity="0.15" filter="url(#bl4)"/>
<ellipse cx="94.5" cy="41.9" rx="26.3" ry="20.5" fill="#1818d8" opacity="0.08" filter="url(#bl4)"/>
<ellipse cx="115.0" cy="82.8" rx="20.5" ry="17.5" fill="#1010c0" opacity="0.1" filter="url(#bl4)"/>
<g fill="#000" opacity="0.85" filter="url(#bl05)"><circle cx="130.6" cy="75.0" r="1.4"/><circle cx="128.9" cy="74.3" r="1.4"/><circle cx="131.2" cy="75.3" r="1.2"/><circle cx="129.2" cy="73.4" r="1.3"/><circle cx="133.9" cy="78.8" r="1.5"/><circle cx="131.3" cy="77.0" r="1.7"/><circle cx="131.8" cy="76.9" r="1.7"/><circle cx="132.6" cy="74.9" r="1.4"/><circle cx="128.6" cy="77.2" r="1.5"/><circle cx="132.3" cy="76.2" r="0.9"/><circle cx="131.0" cy="75.9" r="0.8"/><circle cx="128.8" cy="76.3" r="0.8"/><circle cx="125.6" cy="73.8" r="1.3"/><circle cx="128.5" cy="77.3" r="1.1"/><circle cx="132.4" cy="77.0" r="0.7"/><circle cx="130.3" cy="74.7" r="1.1"/><circle cx="135.4" cy="74.9" r="1.5"/><circle cx="128.7" cy="73.9" r="1.4"/></g>
<g fill="#000" opacity="0.7" filter="url(#bl05)"><circle cx="139.7" cy="80.6" r="1.5"/><circle cx="138.7" cy="81.4" r="1.5"/><circle cx="137.1" cy="79.7" r="1.6"/><circle cx="138.3" cy="80.4" r="0.7"/></g>
<g fill="#000" opacity="0.4" filter="url(#bl05)"><circle cx="97.1" cy="53.1" r="1.0"/><circle cx="100.5" cy="53.6" r="0.9"/><circle cx="100.3" cy="53.5" r="0.9"/><circle cx="100.0" cy="55.4" r="1.7"/><circle cx="101.3" cy="53.6" r="1.6"/><circle cx="101.5" cy="53.4" r="1.0"/><circle cx="98.6" cy="53.4" r="1.1"/><circle cx="98.8" cy="53.7" r="0.8"/><circle cx="101.4" cy="53.9" r="0.8"/><circle cx="98.1" cy="52.3" r="1.0"/><circle cx="101.2" cy="51.7" r="1.0"/></g>
<g fill="#000" opacity="0.35" filter="url(#bl05)"><circle cx="54.6" cy="50.7" r="1.6"/><circle cx="55.6" cy="50.5" r="0.9"/><circle cx="55.5" cy="49.3" r="1.4"/><circle cx="57.2" cy="53.2" r="1.5"/><circle cx="59.7" cy="51.7" r="0.9"/><circle cx="55.1" cy="48.1" r="1.5"/><circle cx="56.6" cy="51.3" r="1.4"/><circle cx="55.0" cy="50.3" r="0.9"/><circle cx="55.3" cy="50.3" r="1.3"/><circle cx="56.6" cy="51.8" r="1.1"/><circle cx="51.9" cy="50.1" r="0.7"/><circle cx="56.1" cy="49.6" r="1.0"/><circle cx="53.6" cy="48.9" r="1.3"/><circle cx="58.1" cy="50.1" r="1.0"/><circle cx="55.3" cy="49.7" r="0.9"/><circle cx="57.2" cy="53.1" r="1.5"/><circle cx="54.9" cy="47.0" r="1.5"/><circle cx="55.5" cy="51.8" r="1.4"/><circle cx="60.2" cy="51.3" r="0.8"/><circle cx="59.8" cy="51.2" r="0.9"/></g>
<g fill="#000" opacity="0.4" filter="url(#bl05)"><circle cx="117.7" cy="62.8" r="1.2"/><circle cx="115.2" cy="66.6" r="1.2"/><circle cx="113.6" cy="64.9" r="1.4"/><circle cx="112.5" cy="64.3" r="0.8"/><circle cx="116.3" cy="66.5" r="1.2"/><circle cx="114.9" cy="69.6" r="0.9"/><circle cx="114.3" cy="68.3" r="1.4"/><circle cx="115.1" cy="62.5" r="1.1"/><circle cx="118.0" cy="62.3" r="1.3"/><circle cx="116.2" cy="67.2" r="1.3"/><circle cx="114.9" cy="66.0" r="1.7"/><circle cx="115.6" cy="64.4" r="1.2"/><circle cx="114.1" cy="63.6" r="0.8"/><circle cx="115.0" cy="60.2" r="1.1"/><circle cx="116.2" cy="66.8" r="0.8"/><circle cx="115.4" cy="65.0" r="1.0"/><circle cx="115.0" cy="63.7" r="0.8"/><circle cx="115.7" cy="66.0" r="1.2"/><circle cx="115.4" cy="63.7" r="0.9"/><circle cx="115.1" cy="62.2" r="1.0"/></g>
<g fill="#000" opacity="0.3" filter="url(#bl05)"><circle cx="25.9" cy="25.2" r="1.7"/><circle cx="26.0" cy="25.2" r="1.4"/><circle cx="29.2" cy="21.9" r="1.2"/><circle cx="28.1" cy="23.7" r="1.0"/><circle cx="19.8" cy="24.9" r="1.4"/><circle cx="25.6" cy="25.2" r="1.7"/><circle cx="28.5" cy="26.3" r="1.0"/><circle cx="24.3" cy="25.7" r="1.2"/><circle cx="26.0" cy="24.3" r="1.6"/><circle cx="23.5" cy="25.3" r="1.4"/><circle cx="23.3" cy="25.3" r="1.1"/><circle cx="26.9" cy="21.2" r="1.3"/><circle cx="29.3" cy="24.5" r="1.3"/><circle cx="30.1" cy="21.8" r="1.0"/><circle cx="27.5" cy="21.7" r="1.0"/><circle cx="22.4" cy="25.6" r="1.1"/><circle cx="23.3" cy="24.9" r="0.9"/><circle cx="26.8" cy="23.3" r="1.3"/><circle cx="28.0" cy="22.4" r="0.9"/><circle cx="28.9" cy="22.8" r="1.7"/><circle cx="23.6" cy="21.4" r="1.5"/><circle cx="24.2" cy="26.9" r="1.1"/><circle cx="25.2" cy="23.5" r="1.2"/><circle cx="21.5" cy="27.1" r="1.0"/></g>
<g fill="#000" opacity="0.3" filter="url(#bl05)"><circle cx="89.7" cy="80.4" r="1.6"/><circle cx="91.3" cy="85.4" r="1.4"/><circle cx="83.4" cy="80.9" r="0.7"/><circle cx="88.9" cy="81.5" r="1.2"/><circle cx="82.3" cy="85.0" r="1.5"/><circle cx="87.5" cy="82.1" r="1.0"/><circle cx="85.7" cy="83.5" r="1.0"/><circle cx="92.2" cy="83.2" r="0.9"/><circle cx="87.0" cy="83.0" r="1.4"/><circle cx="87.0" cy="84.3" r="1.1"/><circle cx="88.7" cy="79.4" r="1.0"/><circle cx="80.5" cy="80.5" r="1.2"/><circle cx="90.5" cy="81.4" r="1.0"/><circle cx="89.1" cy="81.4" r="0.8"/><circle cx="79.9" cy="81.4" r="1.2"/><circle cx="81.9" cy="82.9" r="1.6"/><circle cx="84.5" cy="81.9" r="1.1"/><circle cx="79.7" cy="85.6" r="1.4"/><circle cx="91.5" cy="85.1" r="0.7"/><circle cx="82.4" cy="82.0" r="1.4"/><circle cx="84.3" cy="83.1" r="1.2"/><circle cx="88.5" cy="80.5" r="1.1"/><circle cx="86.8" cy="85.2" r="1.5"/><circle cx="87.2" cy="85.8" r="1.7"/><circle cx="82.4" cy="83.4" r="1.4"/></g>
<g fill="#000" opacity="0.3" filter="url(#bl05)"><circle cx="73.8" cy="70.7" r="1.0"/><circle cx="67.7" cy="73.2" r="0.9"/><circle cx="66.2" cy="70.6" r="1.4"/><circle cx="77.9" cy="74.0" r="1.7"/><circle cx="63.9" cy="70.1" r="0.9"/><circle cx="75.8" cy="70.1" r="1.5"/><circle cx="73.9" cy="70.1" r="1.6"/><circle cx="71.4" cy="71.4" r="1.2"/><circle cx="78.7" cy="69.2" r="1.7"/><circle cx="60.9" cy="70.9" r="1.3"/><circle cx="74.9" cy="72.7" r="1.5"/><circle cx="65.8" cy="72.0" r="1.0"/><circle cx="70.4" cy="72.6" r="1.2"/><circle cx="69.2" cy="71.2" r="0.7"/><circle cx="67.4" cy="73.1" r="1.4"/><circle cx="71.4" cy="72.2" r="1.2"/><circle cx="73.8" cy="72.9" r="1.6"/><circle cx="72.8" cy="73.0" r="1.4"/><circle cx="71.1" cy="68.8" r="1.4"/><circle cx="69.9" cy="73.9" r="1.6"/><circle cx="81.1" cy="72.2" r="1.1"/><circle cx="72.5" cy="71.4" r="1.5"/><circle cx="70.0" cy="70.4" r="1.2"/><circle cx="61.3" cy="67.2" r="1.0"/><circle cx="71.4" cy="70.0" r="0.9"/><circle cx="73.5" cy="72.4" r="1.3"/><circle cx="70.2" cy="71.9" r="0.9"/><circle cx="73.6" cy="71.6" r="1.0"/><circle cx="68.3" cy="71.1" r="1.2"/><circle cx="60.1" cy="72.5" r="1.2"/></g>
<g fill="#000" opacity="0.3" filter="url(#bl05)"><circle cx="18.6" cy="55.9" r="0.9"/><circle cx="14.2" cy="56.0" r="0.9"/><circle cx="19.6" cy="57.5" r="1.7"/><circle cx="13.3" cy="57.3" r="1.1"/><circle cx="12.9" cy="58.3" r="1.1"/><circle cx="18.9" cy="58.9" r="1.3"/><circle cx="21.2" cy="56.6" r="1.4"/><circle cx="13.0" cy="58.1" r="1.6"/><circle cx="13.0" cy="57.4" r="1.0"/><circle cx="11.5" cy="55.8" r="1.4"/><circle cx="17.1" cy="56.2" r="1.1"/><circle cx="18.6" cy="54.4" r="1.3"/><circle cx="14.4" cy="55.3" r="1.6"/><circle cx="12.7" cy="56.0" r="0.9"/><circle cx="20.2" cy="58.5" r="1.5"/><circle cx="18.1" cy="56.7" r="1.2"/><circle cx="12.8" cy="56.5" r="1.6"/><circle cx="13.4" cy="57.9" r="1.6"/><circle cx="13.4" cy="55.2" r="1.0"/><circle cx="12.5" cy="57.8" r="1.5"/></g>
<path d="M116.9 -2.2L119.6 0.7L123.0 3.9L123.5 6.5L126.1 9.1L127.1 12.0L127.5 15.1L129.8 18.4L130.0 21.9L131.2 26.7L133.2 30.6L134.4 33.6L135.1 36.3L135.9 40.6L135.4 44.4L137.3 46.9L136.7 51.0L139.6 53.7L141.6 55.9L141.6 59.3L142.8 64.0L145.0 66.5L145.3 70.2L148.8 75.8L153.0 78.4L160.0 -5.0Z" fill="#000" filter="url(#bl05)"/>
<g stroke="#a8f030" opacity="0.82" filter="url(#bl05)" fill="none" stroke-linecap="round"><path stroke-width="4.0" d="M11.8 2.3l-1.2 0.1M112.9 99.4l1.2 1.9"/><path stroke-width="2.4" d="M35.6 10.7l0.9 0.9M69.7 11.1l-3.1 0.1M80.3 11.6l-0.8 0.9M61.3 6.6l-0.9 1.5M87.8 31.2l-1.2 0.9M113.8 38.9l2.2 0.0M102.9 55.2l0.7 2.5M131.7 43.1l-3.0 0.4M134.4 56.3l-0.9 0.3M3.2 25.9l0.1 2.8M96.0 0.5l2.9 0.8M112.3 44.4l2.4 0.8M85.9 33.0l-0.4 0.2M3.0 99.5l1.6 1.7"/><path stroke-width="3.2" d="M75.2 16.0l0.5 0.3M89.3 48.9l-1.4 0.5M75.3 51.6l0.4 1.1M46.1 34.2l-2.7 0.7M110.3 41.7l0.5 0.3M110.6 49.4l-0.1 2.5M131.7 33.8l-1.2 1.4M120.3 67.3l1.1 1.7M4.9 102.6l-2.2 1.4M131.2 113.1l-0.3 0.9M39.3 2.7l2.2 1.1M8.3 3.6l-1.8 0.5M71.8 12.5l-1.4 0.3"/></g>
<g stroke="#a8d8ff" opacity="0.88" filter="url(#bl05)" fill="none" stroke-linecap="round"><path stroke-width="2.4" d="M18.2 34.5l0.6 0.2M27.0 60.7l0.5 0.4M41.8 59.3l0.1 0.3M52.5 69.6l-0.9 0.0M71.3 35.9l-0.5 0.3M53.8 31.5l-0.4 0.2M82.9 56.5l-0.1 0.0M76.6 92.9l0.6 0.3M82.7 97.3l0.3 0.3M101.8 94.4l0.0 0.1M16.8 41.6l0.3 0.6M3.7 76.9l0.2 0.1M125.1 19.9l0.2 0.1M141.1 81.2l0.3 0.2M140.6 97.3l-0.4 0.3M116.7 88.6l-0.6 0.1M66.7 82.5l-0.1 0.6M60.6 63.7l0.4 0.1M78.6 43.0l-0.4 0.6M59.4 24.2l0.0 0.3M33.5 94.4l-0.8 0.2M120.6 94.3l0.3 0.4M23.0 9.7l-0.2 0.1M132.4 91.3l0.3 0.6M126.7 103.0l-0.1 0.6M18.3 85.4l0.3 0.6M56.6 100.3l-0.3 0.0"/><path stroke-width="1.6" d="M85.7 38.5l0.1 0.9M94.2 63.6l0.6 0.3M81.7 107.5l-0.7 0.3M50.6 85.5l0.0 0.5M105.9 75.2l0.6 0.5M15.6 15.2l-0.1 0.6M94.4 21.3l0.2 0.1M42.1 6.6l-0.4 0.4M100.8 12.6l-0.9 0.0M50.9 44.8l-0.6 0.1M68.0 66.5l0.3 0.4M35.9 78.4l0.2 0.1M91.6 82.5l-0.1 0.6"/></g>
<g fill="#d8fff0" opacity="1.0" filter="url(#bl05)"><circle cx="18.5" cy="34.5" r="0.45"/><circle cx="27.2" cy="60.9" r="0.59"/><circle cx="41.9" cy="59.4" r="0.41"/><circle cx="52.1" cy="69.6" r="0.40"/><circle cx="71.1" cy="36.0" r="0.51"/><circle cx="53.6" cy="31.6" r="0.44"/><circle cx="85.7" cy="38.9" r="0.50"/><circle cx="94.5" cy="63.8" r="0.42"/><circle cx="82.8" cy="56.5" r="0.57"/><circle cx="76.9" cy="93.0" r="0.53"/><circle cx="82.8" cy="97.4" r="0.54"/><circle cx="101.8" cy="94.5" r="0.59"/><circle cx="81.3" cy="107.6" r="0.60"/><circle cx="50.6" cy="85.7" r="0.54"/><circle cx="17.0" cy="41.9" r="0.54"/></g>
<rect x="0.5" y="0.5" width="147" height="113.5" fill="none" stroke="#000" stroke-width="1"/>
</svg>
<svg x="366" y="176" width="146" height="114.5" viewBox="0 0 146 114.5" overflow="hidden">
<rect width="146" height="114.5" fill="#000"/>
<rect width="146" height="114.5" filter="url(#nRB4)"/>
<ellipse cx="30.2" cy="82.8" rx="40.9" ry="29.2" fill="#d00020" opacity="0.28" filter="url(#bl4)"/>
<ellipse cx="138.4" cy="85.7" rx="14.6" ry="17.5" fill="#d00020" opacity="0.2" filter="url(#bl4)"/>
<ellipse cx="85.7" cy="36.0" rx="64.3" ry="38.0" fill="#1020e0" opacity="0.25" filter="url(#bl4)"/>
<g fill="#000" opacity="0.8" filter="url(#bl05)"><circle cx="6.1" cy="27.8" r="1.1"/><circle cx="7.5" cy="27.7" r="1.3"/><circle cx="8.0" cy="27.9" r="1.6"/><circle cx="1.2" cy="26.8" r="0.7"/><circle cx="5.8" cy="28.4" r="1.5"/><circle cx="10.2" cy="29.2" r="1.0"/><circle cx="7.6" cy="27.0" r="1.0"/><circle cx="7.9" cy="27.6" r="1.4"/><circle cx="9.8" cy="28.6" r="1.7"/><circle cx="8.7" cy="28.9" r="1.0"/><circle cx="6.8" cy="28.6" r="1.4"/><circle cx="13.4" cy="26.9" r="1.7"/></g>
<g fill="#000" opacity="0.85" filter="url(#bl05)"><circle cx="121.0" cy="97.4" r="0.9"/><circle cx="122.8" cy="97.0" r="1.1"/><circle cx="124.4" cy="98.2" r="0.8"/><circle cx="123.8" cy="99.6" r="1.3"/><circle cx="123.5" cy="98.1" r="1.2"/><circle cx="120.8" cy="98.0" r="1.1"/><circle cx="122.8" cy="98.8" r="0.8"/><circle cx="121.8" cy="99.4" r="1.5"/><circle cx="123.3" cy="101.6" r="0.9"/><circle cx="125.1" cy="99.8" r="1.1"/><circle cx="121.4" cy="101.0" r="0.9"/><circle cx="121.3" cy="96.4" r="1.2"/><circle cx="118.5" cy="98.8" r="1.3"/><circle cx="123.5" cy="99.4" r="0.8"/></g>
<g fill="#000" opacity="0.7" filter="url(#bl05)"><circle cx="74.3" cy="50.5" r="1.3"/><circle cx="73.6" cy="50.6" r="1.2"/><circle cx="75.5" cy="49.7" r="0.9"/><circle cx="74.2" cy="51.1" r="1.6"/><circle cx="74.2" cy="48.7" r="0.9"/><circle cx="75.3" cy="50.2" r="1.5"/><circle cx="74.1" cy="49.4" r="1.3"/><circle cx="76.1" cy="50.6" r="1.0"/></g>
<g fill="#000" opacity="0.6" filter="url(#bl05)"><circle cx="76.1" cy="69.3" r="1.4"/><circle cx="73.9" cy="68.1" r="1.4"/><circle cx="73.0" cy="68.9" r="0.8"/><circle cx="74.7" cy="68.1" r="0.9"/><circle cx="74.0" cy="68.6" r="0.8"/><circle cx="73.2" cy="64.7" r="1.0"/></g>
<g fill="#000" opacity="0.4" filter="url(#bl05)"><circle cx="26.7" cy="12.3" r="0.9"/><circle cx="22.7" cy="11.3" r="1.1"/><circle cx="28.0" cy="10.3" r="1.2"/><circle cx="35.4" cy="9.5" r="0.8"/><circle cx="23.0" cy="9.7" r="0.9"/><circle cx="25.2" cy="7.9" r="1.5"/><circle cx="25.0" cy="13.6" r="1.5"/><circle cx="25.3" cy="9.9" r="1.2"/><circle cx="31.1" cy="11.6" r="1.4"/><circle cx="18.4" cy="7.4" r="0.7"/><circle cx="25.8" cy="6.6" r="0.8"/><circle cx="26.7" cy="10.2" r="1.3"/><circle cx="26.7" cy="8.1" r="1.4"/><circle cx="23.4" cy="11.8" r="1.0"/><circle cx="31.1" cy="9.4" r="0.7"/><circle cx="32.2" cy="11.2" r="1.6"/><circle cx="25.9" cy="8.9" r="1.6"/><circle cx="26.9" cy="8.8" r="1.1"/><circle cx="27.1" cy="9.6" r="0.7"/><circle cx="22.7" cy="12.5" r="1.7"/><circle cx="23.9" cy="13.2" r="1.5"/><circle cx="30.5" cy="7.9" r="1.7"/><circle cx="21.8" cy="6.3" r="1.3"/><circle cx="28.7" cy="11.7" r="1.2"/><circle cx="25.4" cy="11.1" r="1.2"/><circle cx="25.0" cy="9.0" r="1.0"/><circle cx="22.9" cy="9.7" r="1.1"/><circle cx="26.0" cy="8.7" r="1.2"/><circle cx="26.2" cy="12.7" r="1.4"/><circle cx="28.1" cy="7.6" r="0.9"/></g>
<g fill="#000" opacity="0.5" filter="url(#bl05)"><circle cx="93.3" cy="4.5" r="1.1"/><circle cx="87.5" cy="6.7" r="1.4"/><circle cx="90.7" cy="3.8" r="1.4"/><circle cx="89.8" cy="6.9" r="1.1"/><circle cx="87.2" cy="6.6" r="1.5"/><circle cx="88.3" cy="4.3" r="0.9"/><circle cx="90.0" cy="3.2" r="1.4"/><circle cx="84.2" cy="3.6" r="1.0"/><circle cx="92.5" cy="5.8" r="0.7"/><circle cx="93.8" cy="4.9" r="1.4"/><circle cx="96.4" cy="4.8" r="0.9"/><circle cx="87.6" cy="5.9" r="1.5"/><circle cx="88.2" cy="3.6" r="1.1"/><circle cx="88.0" cy="7.0" r="1.4"/><circle cx="95.4" cy="3.6" r="1.6"/><circle cx="84.4" cy="5.9" r="1.0"/><circle cx="91.4" cy="5.2" r="0.9"/><circle cx="86.7" cy="8.6" r="1.6"/><circle cx="84.4" cy="7.8" r="1.6"/><circle cx="86.1" cy="5.7" r="1.5"/><circle cx="87.1" cy="5.8" r="1.6"/><circle cx="84.5" cy="5.9" r="1.3"/><circle cx="88.6" cy="5.6" r="1.1"/><circle cx="88.2" cy="5.5" r="1.1"/><circle cx="88.9" cy="4.0" r="1.4"/><circle cx="86.6" cy="4.6" r="0.7"/><circle cx="85.9" cy="3.5" r="1.0"/><circle cx="91.3" cy="8.0" r="1.6"/><circle cx="89.3" cy="7.2" r="1.3"/><circle cx="88.1" cy="5.7" r="1.0"/></g>
<g fill="#000" opacity="0.4" filter="url(#bl05)"><circle cx="48.8" cy="42.9" r="1.2"/><circle cx="51.7" cy="45.6" r="1.0"/><circle cx="48.8" cy="45.6" r="1.6"/><circle cx="55.4" cy="48.2" r="0.9"/><circle cx="51.6" cy="43.8" r="1.3"/><circle cx="50.2" cy="45.1" r="1.5"/><circle cx="51.3" cy="43.5" r="1.5"/><circle cx="44.2" cy="45.5" r="0.8"/><circle cx="49.5" cy="45.6" r="1.3"/><circle cx="51.4" cy="41.5" r="1.2"/><circle cx="47.6" cy="46.8" r="0.8"/><circle cx="50.4" cy="47.7" r="1.1"/><circle cx="51.6" cy="44.7" r="1.2"/><circle cx="50.7" cy="44.9" r="0.8"/><circle cx="52.4" cy="45.7" r="1.1"/><circle cx="48.8" cy="44.7" r="1.4"/><circle cx="44.5" cy="44.3" r="0.9"/><circle cx="48.1" cy="44.6" r="1.1"/></g>
<g fill="#000" opacity="0.4" filter="url(#bl05)"><circle cx="16.8" cy="6.0" r="1.6"/><circle cx="13.9" cy="7.8" r="1.3"/><circle cx="13.3" cy="6.3" r="0.8"/><circle cx="18.2" cy="6.4" r="0.8"/><circle cx="13.5" cy="5.3" r="1.0"/><circle cx="12.9" cy="9.3" r="1.0"/><circle cx="9.2" cy="8.6" r="1.1"/><circle cx="14.1" cy="7.3" r="1.4"/><circle cx="13.9" cy="5.4" r="1.1"/><circle cx="16.1" cy="9.3" r="1.2"/><circle cx="16.9" cy="5.5" r="1.4"/><circle cx="17.6" cy="7.0" r="1.7"/><circle cx="13.7" cy="4.8" r="1.2"/><circle cx="13.6" cy="6.9" r="0.9"/><circle cx="12.8" cy="5.0" r="1.0"/><circle cx="14.6" cy="6.1" r="1.3"/><circle cx="17.2" cy="8.3" r="1.0"/><circle cx="14.1" cy="6.5" r="1.2"/><circle cx="14.4" cy="6.2" r="1.0"/><circle cx="14.0" cy="5.1" r="1.3"/></g>
<g stroke="#98e048" opacity="0.85" filter="url(#bl05)" fill="none" stroke-linecap="round"><path stroke-width="2.4" d="M115.4 64.9l-0.3 0.5M111.3 41.2l0.1 0.9M121.2 59.2l2.2 0.4M131.6 48.8l-0.1 2.8M102.5 60.1l-1.3 1.3M107.2 25.4l2.1 1.6M103.5 44.7l-1.5 1.2M75.3 57.0l0.4 0.4M95.6 54.6l-3.1 0.8M85.5 24.7l0.3 0.7M99.7 92.3l1.1 1.1M98.9 108.4l1.2 0.1M58.8 16.7l-2.5 1.0M55.3 54.8l-0.4 0.0M96.2 77.7l-2.1 2.1M111.3 47.0l1.3 0.2M70.2 20.2l0.5 0.6M106.7 22.8l2.0 1.4M80.8 90.8l-0.1 2.4M107.2 8.0l1.8 0.2M47.5 72.1l0.4 3.2M129.1 23.1l-0.0 0.5M112.3 30.3l1.0 2.7M132.0 27.1l1.2 0.5M135.6 33.4l-0.6 2.7M105.3 7.5l-0.6 0.0M29.0 58.6l0.0 1.0M122.5 47.3l-2.2 0.7M108.8 11.2l1.9 0.5M119.4 56.4l-2.0 0.3M119.5 63.4l0.3 0.4M101.5 5.2l0.2 0.1M96.2 45.7l-0.1 0.5M109.7 81.0l0.2 1.0M49.5 10.7l1.0 2.5M106.2 25.3l-0.3 0.7M127.5 42.9l-0.4 0.1M142.9 25.7l-2.0 1.1M86.9 57.2l-1.5 0.7M119.3 79.2l0.6 0.2M92.7 67.5l0.4 1.6M96.5 74.2l-2.0 2.6M91.5 91.5l0.3 1.2M126.2 88.2l-1.3 1.2M59.2 72.6l-1.3 1.9M56.7 33.6l-1.1 0.6M91.2 36.5l0.1 2.9M128.7 6.6l1.7 1.0M35.3 43.5l0.2 0.1M115.1 108.3l0.1 0.1M120.3 20.1l-3.2 0.3M114.4 106.3l0.0 0.3M80.1 105.2l1.9 0.8M46.0 79.7l-1.7 0.2M121.8 11.1l0.6 0.6M114.8 52.9l-1.4 0.8M130.4 17.0l-0.9 3.3M112.7 9.7l-2.9 2.0M117.1 79.8l-1.1 3.2M77.9 79.0l1.7 1.4M127.2 28.0l0.6 2.9M130.9 41.7l1.9 2.6M93.7 84.3l0.9 0.0M96.9 34.0l1.4 2.4M42.0 49.8l1.4 2.2M59.9 112.1l2.8 1.3M124.8 92.7l1.1 1.2M117.8 82.1l0.8 2.4M144.4 25.4l0.1 0.1"/><path stroke-width="1.6" d="M16.7 68.3l-1.3 2.9M4.2 38.0l-0.1 1.1M23.9 33.5l-0.0 0.1M127.6 15.6l-0.5 2.1M110.6 93.9l-1.0 1.6M111.4 84.2l0.0 1.3M54.1 22.8l-2.4 2.7M109.5 74.7l-2.5 0.6M78.8 17.7l-2.3 0.3M71.2 56.9l-2.6 1.8M29.7 82.1l-0.5 0.3M120.0 10.4l0.2 1.3M122.6 62.6l0.4 0.7M91.8 14.2l1.6 0.7M85.7 21.5l-0.6 0.8M80.4 48.7l-1.6 3.1M84.2 61.3l0.2 0.2M113.9 34.3l3.2 1.6M81.0 83.4l0.9 0.1M123.8 99.0l0.3 0.2M38.3 8.9l-2.6 2.0M43.0 51.9l3.1 1.7M117.1 81.9l-1.2 0.8M147.3 22.6l-0.4 2.8M58.2 34.5l-0.1 2.6M132.6 45.4l-1.8 2.5M81.5 52.5l2.6 0.3M93.9 95.7l-0.7 0.7M97.8 74.0l-1.3 1.9M66.9 36.7l-2.9 1.0M50.4 14.0l-0.9 1.7M61.1 13.5l0.8 1.3M64.2 25.8l0.5 0.7M77.4 47.0l-1.2 3.3M62.4 3.9l-1.4 0.5M69.2 1.5l1.8 1.2M34.0 8.6l-1.7 1.9M34.4 95.5l2.8 0.1M61.6 67.6l-2.2 1.0M87.7 81.6l-1.5 1.1M75.1 21.2l-3.2 0.6M41.5 66.6l0.7 0.4M41.3 72.6l-0.9 1.2M105.2 42.8l2.4 0.0M131.8 31.4l0.2 0.1M126.6 20.2l1.9 0.2M90.8 21.2l0.7 2.4M105.2 10.4l0.7 1.6M56.6 79.2l-2.0 0.3M77.4 20.3l-2.1 2.8M123.3 99.4l-0.3 1.4M117.2 54.2l-1.6 0.1M125.5 75.6l-1.3 1.3M39.4 44.9l0.7 0.4M63.2 43.4l2.7 0.2M146.8 99.7l-1.3 2.5M120.7 16.9l-1.2 1.8M40.6 45.5l-2.1 0.2M106.2 65.2l-2.9 0.4M119.8 64.6l0.5 0.1M137.4 42.3l-0.7 0.2M49.8 78.9l-0.6 3.1M115.1 50.4l-0.2 0.9M110.8 36.2l3.0 0.4M102.9 101.6l-3.5 0.1M118.9 71.8l-3.4 0.5M142.7 19.5l1.7 1.2M47.9 68.9l0.1 0.6M30.6 38.4l-0.7 0.0M123.6 79.2l0.1 0.6M122.8 66.1l1.7 1.5M92.9 7.5l-2.3 0.5M56.0 54.9l-0.7 2.5M87.7 13.4l1.6 0.1M131.8 27.6l1.0 1.7M82.3 112.4l2.8 1.1M68.1 62.9l0.0 0.1M95.5 60.5l-3.4 0.7M139.0 1.6l1.7 0.6M102.6 59.6l3.3 1.5M47.6 65.7l1.4 2.5M74.9 43.6l2.9 1.0M40.0 56.1l0.4 0.4M49.1 18.0l-0.3 0.1M114.6 71.1l-0.7 2.2M101.3 95.2l-0.3 2.8M42.2 28.7l-2.4 0.4M44.7 11.1l1.6 0.8M129.3 46.7l-0.4 0.1M6.5 38.6l-3.3 0.7M56.9 32.2l0.4 2.7M108.6 23.9l1.4 1.5M71.7 42.0l-1.1 3.0M70.9 43.0l0.7 1.5M122.5 23.6l-0.2 1.9M69.4 46.8l-0.1 0.3M61.5 64.7l-0.1 2.0M85.3 51.1l1.9 0.0M62.9 39.6l-3.2 1.2M80.4 47.5l-0.1 2.4M47.5 55.0l-1.3 2.7"/></g>
<g stroke="#7cc8ff" opacity="0.85" filter="url(#bl05)" fill="none" stroke-linecap="round"><path stroke-width="2.4" d="M145.1 64.1l-0.8 0.2M115.8 50.4l-1.0 0.1M78.9 4.9l-0.0 0.5M98.7 78.4l-0.0 0.2M41.3 50.5l0.4 0.8M67.0 81.1l0.3 0.8M119.0 67.4l0.4 1.0M58.5 63.9l-0.6 0.3M34.5 96.0l-0.3 0.0M106.1 34.1l0.2 0.9M32.7 53.6l-0.5 0.5M94.2 50.5l-0.1 0.2M46.2 39.2l-0.1 0.1M37.4 58.7l0.1 0.1M130.5 106.6l0.2 0.3M111.1 79.2l-0.5 0.1M17.9 20.6l0.2 0.2M77.3 88.0l1.0 0.2M74.4 75.8l-1.2 0.1M28.5 80.8l-1.0 0.4M77.7 20.0l0.9 0.2M142.8 101.4l-0.1 0.1M80.5 107.1l0.5 0.0M125.6 87.6l-0.4 1.1M46.9 77.9l0.4 0.3M110.9 5.0l0.1 0.6M147.3 84.0l-0.7 0.5M86.3 14.6l-0.1 1.1M131.2 58.3l0.6 0.2M146.0 24.3l0.1 0.9M48.7 35.4l0.0 1.0M71.9 99.9l-0.4 0.3M108.2 23.4l-0.9 0.7M144.5 13.7l-0.0 0.1M95.9 88.7l-0.2 0.1M97.4 66.7l-0.8 0.9M111.8 64.8l0.2 0.9M83.0 41.2l0.0 0.3M63.2 42.2l0.0 0.5M54.0 27.2l0.9 0.6M129.2 106.6l-0.2 0.5M68.6 36.7l0.5 0.7M132.1 95.1l-0.4 0.3M106.1 52.2l-0.7 0.4M119.8 75.8l-0.5 0.0M50.6 3.9l0.5 0.7M82.7 19.3l0.4 1.0M115.6 17.6l0.1 0.8M28.5 15.3l0.3 0.0M59.7 54.1l0.3 0.3M77.9 77.5l-0.3 0.4M40.1 15.6l0.5 0.1M53.4 79.3l-0.2 0.7M78.3 23.7l-0.7 0.2M121.6 62.7l-0.0 0.1M52.0 21.3l-0.2 0.4M93.0 74.9l0.2 0.0M70.6 63.1l-0.2 0.0M132.1 53.3l0.1 0.3M102.3 12.3l-0.8 0.8M117.4 46.3l-0.0 0.7M97.4 36.2l0.2 0.6M57.0 62.7l0.1 0.4M116.1 64.8l0.5 1.0M122.9 52.5l0.0 0.2M112.3 63.1l0.1 0.5M60.8 63.3l0.0 0.4M99.8 72.7l-0.6 0.6M71.6 90.7l0.9 0.3M105.9 55.8l-0.6 0.0M121.7 42.4l-0.1 0.5M96.2 5.3l-0.5 0.3M38.5 50.8l0.7 0.7M65.9 35.0l-0.2 0.7M141.8 25.1l-0.3 0.8M3.7 31.3l0.1 0.1M108.6 78.2l0.1 0.6M83.5 41.1l-1.0 0.3M38.2 93.2l-0.0 0.6M54.3 66.2l0.4 0.4M51.6 16.4l0.2 0.4M78.7 31.1l0.2 0.8M125.7 22.9l-0.6 0.0M89.0 41.6l-0.7 0.1M64.1 27.0l-0.3 0.4M144.4 24.1l0.8 0.1M102.3 12.3l0.8 0.5M117.6 20.8l0.2 0.9M54.6 14.4l0.6 0.9M101.8 69.2l-0.8 0.5M48.3 25.4l0.9 0.4M108.8 28.3l0.8 0.2M110.1 71.7l0.0 0.4M98.7 0.0l0.7 0.9M5.8 48.9l-0.2 0.9M78.2 71.7l-0.8 0.8M126.5 47.2l0.1 0.1M53.1 70.6l-0.1 0.2M74.0 4.0l0.2 0.9M90.7 92.0l-1.2 0.3M115.3 44.6l-0.2 0.1M46.9 30.3l-1.0 0.7M51.7 7.9l0.1 0.2M133.2 92.6l0.4 0.3M18.2 1.8l-0.1 0.2M124.5 94.3l-0.1 0.3M136.6 109.4l0.6 0.4M113.2 38.3l0.4 0.5M84.4 46.4l0.8 0.5M106.7 93.6l-0.0 0.9M34.0 63.8l-0.3 1.2M44.5 61.5l0.7 0.3M18.6 12.8l0.7 0.5M60.9 41.0l1.0 0.3M73.1 0.5l-0.3 0.3M132.8 52.1l0.5 0.3M121.3 101.0l-0.2 0.9M73.8 63.6l0.8 0.8M47.1 70.1l0.7 0.7M93.2 70.7l-0.4 0.1M128.3 102.8l-1.1 0.4M113.7 19.6l0.1 0.5M122.9 43.1l0.3 1.0M34.8 43.5l-0.0 0.3M31.2 60.9l0.1 0.2M84.2 68.3l-0.9 0.5M114.0 27.1l0.4 1.1M78.1 38.6l0.6 0.7M104.8 55.6l0.2 0.5M147.0 90.9l1.0 0.3M66.0 40.7l0.4 0.4M143.0 31.9l0.6 0.7M87.9 94.2l0.1 0.1M86.1 7.7l0.1 0.3M55.2 73.1l0.4 0.3M135.7 42.2l-0.2 0.0M117.5 13.4l-0.5 0.5M22.1 56.4l1.0 0.5M90.3 97.8l-0.3 0.4M25.0 27.5l-0.9 0.2M131.6 51.4l-0.6 0.2M67.9 59.0l-0.7 0.0M105.9 4.0l0.1 0.4M65.7 37.4l0.8 0.2M102.1 13.9l0.2 0.1M90.3 71.0l-0.0 0.2M38.9 30.1l0.2 0.3M76.5 13.0l0.2 0.5M96.6 9.3l-0.1 0.1M54.6 49.5l0.1 0.2M145.8 72.6l-0.0 0.4M69.2 71.6l0.0 0.5M133.3 106.6l-0.0 0.3M126.4 77.1l0.3 0.6M65.7 77.4l-0.6 0.9M86.7 11.7l-0.3 0.7M72.4 0.4l-0.3 0.3M88.5 74.4l-0.5 0.0M89.4 5.1l-0.7 0.4M133.9 62.1l-0.5 0.1M95.4 91.5l0.2 0.8M49.3 17.2l-0.1 0.1M133.6 87.1l0.1 0.7M128.4 61.9l0.0 0.1M133.2 55.7l0.3 1.0M128.6 88.4l-0.2 0.3M103.4 70.6l1.1 0.3"/><path stroke-width="1.6" d="M115.4 100.8l0.5 0.8M94.4 11.5l0.1 0.4M104.2 34.0l-0.1 0.5M120.7 111.6l-0.3 1.1M113.7 36.0l0.1 0.1M115.5 62.6l0.7 0.4M72.5 4.3l-0.1 0.4M99.4 23.6l-0.9 0.2M88.1 82.7l0.8 0.7M51.7 82.8l0.0 0.6M111.1 17.0l-0.2 0.3M85.4 50.7l0.4 0.5M83.1 54.2l0.1 0.2M79.2 94.7l0.2 0.5M92.3 48.4l0.7 0.3M40.9 13.7l-0.3 0.1M89.1 11.6l-0.4 0.3M120.5 34.5l-0.9 0.0M64.8 67.3l0.3 1.0M40.7 5.0l-1.0 0.1M72.7 16.8l-0.0 0.1M118.6 15.3l-0.1 0.0M61.7 30.5l1.1 0.1M68.3 73.4l-0.5 0.8M62.2 4.0l-0.4 0.5M107.7 86.0l0.3 0.8M88.0 88.1l0.1 0.5M63.6 47.9l-1.0 0.4M58.8 50.7l-0.5 1.1M70.0 44.3l-0.8 0.0M118.0 98.3l-0.1 0.0M85.2 37.0l-0.8 0.5M120.1 20.7l0.2 0.5M48.8 69.0l-0.5 0.3M61.3 70.7l-0.9 0.7M37.7 66.7l0.2 0.2M49.0 45.0l0.6 0.4M50.1 77.1l-0.4 1.1M11.0 29.6l-1.0 0.4M37.3 33.2l-0.6 0.4M16.8 5.0l0.6 0.9M86.6 49.1l0.1 0.0M125.6 13.6l-0.7 0.1M41.8 31.1l0.2 0.4M137.5 28.4l-0.0 0.1M122.7 2.3l0.1 0.2M47.6 46.4l0.4 0.3M117.3 100.0l0.8 0.5M55.1 39.1l-0.1 0.4M50.6 36.4l-0.4 0.7M110.1 100.3l0.2 0.3M103.0 45.9l-1.0 0.4M45.6 9.9l-0.6 0.1M78.1 63.0l0.4 0.3M135.9 11.6l-0.0 0.9M102.5 105.7l-0.1 0.4M110.9 45.1l-0.7 0.9M100.4 34.8l0.5 0.1M83.2 91.2l0.1 0.9M107.4 93.6l0.2 1.0M18.7 39.0l-0.2 1.0M77.9 34.2l0.6 0.5M82.9 68.0l0.2 0.1M69.5 52.7l0.5 0.5M126.1 92.9l0.1 0.1M145.4 12.8l0.0 0.3M52.8 39.8l-0.8 0.3M134.3 37.7l-0.2 0.0M122.3 7.2l-0.6 0.6M78.7 108.7l1.0 0.5M104.6 74.3l0.3 0.1M124.4 46.5l0.3 0.4M63.6 0.6l-0.1 0.0M105.6 14.8l-0.3 0.9M119.2 97.6l0.2 1.0M46.9 54.2l-0.0 0.2M59.5 79.3l0.3 1.0M92.9 51.5l-0.2 0.5M112.3 53.6l-0.5 0.7M64.5 74.0l0.5 0.7M39.3 88.7l-0.4 0.3M62.5 50.0l-0.1 0.2M103.8 16.0l-0.5 0.8M123.3 76.7l-1.1 0.0M79.2 2.5l-1.0 0.2M61.9 12.9l0.0 0.3M119.3 89.6l0.7 0.6M111.1 25.5l-0.4 1.0M50.9 112.4l-0.4 0.2M64.4 14.6l-0.0 0.6M73.4 80.0l0.1 0.0M110.0 80.0l0.2 0.0M108.1 70.1l0.1 0.2M40.0 17.1l-0.1 0.2M93.0 106.1l1.1 0.2M39.1 57.6l0.3 1.1M86.7 89.3l-0.3 0.4M96.8 14.9l0.9 0.6M73.6 1.0l-0.8 0.0M56.6 23.2l0.1 0.9M117.7 21.1l0.2 0.2M41.4 72.6l-0.3 0.7M77.7 96.7l-0.1 1.0M36.1 16.9l-0.2 0.1M78.3 3.0l0.3 0.7M58.9 48.2l-0.6 0.3M80.0 81.2l-0.6 0.9M104.4 82.1l0.2 0.9M98.5 56.2l0.9 0.6M69.7 60.5l-0.2 0.5M74.0 60.4l0.1 0.1M47.6 84.4l-0.3 0.4M117.6 0.7l-0.0 0.5M30.9 42.0l-0.4 0.4M132.1 25.2l-0.1 0.7M72.5 111.5l-0.7 0.3M31.3 90.6l0.1 0.1M131.8 54.4l-0.3 0.4M128.0 17.3l-0.8 0.2M68.9 12.4l0.9 0.3M87.9 5.9l0.2 0.2M75.9 66.4l-0.1 0.1M69.6 15.9l0.0 0.9M79.5 35.3l0.1 0.1M111.0 48.1l-0.1 0.5M6.9 9.9l0.9 0.5M79.6 11.3l0.4 0.2M17.8 24.6l0.0 0.5M83.6 69.0l-0.8 0.7M89.7 69.9l0.1 0.2M86.0 36.5l0.2 0.7M46.9 67.8l-0.6 0.9M52.5 28.6l0.4 1.0M10.6 71.5l0.5 1.0M42.0 52.6l-0.4 0.9M72.7 9.2l0.3 0.7M98.0 80.8l-0.1 0.1M40.7 48.0l0.6 0.1M97.4 7.9l-0.1 0.0M45.4 9.8l0.0 0.5M98.2 59.5l0.1 0.2M102.9 14.9l-0.1 0.1M126.2 64.5l-0.8 0.5"/></g>
<g stroke="#80f0b0" opacity="0.85" filter="url(#bl05)" fill="none" stroke-linecap="round"><path stroke-width="2.4" d="M105.0 56.1l-0.0 0.1M81.9 2.4l-0.3 1.0M53.6 8.9l-0.0 0.3M54.1 31.5l-0.2 0.3M94.2 7.2l-0.6 0.2M140.6 40.4l-0.6 1.2M126.1 60.5l0.5 0.7M117.7 49.2l0.6 0.3M65.1 47.6l-1.2 0.4M76.7 32.0l0.7 0.4M100.3 41.7l-0.5 0.0M68.4 63.4l-1.5 0.4M27.0 75.0l0.8 0.8M85.3 28.7l0.5 0.3M94.4 10.0l0.1 0.7M127.7 42.4l0.1 0.5M76.0 28.7l-0.1 0.6M34.4 71.6l0.4 1.3M24.5 63.7l-0.3 1.5M123.6 54.2l-0.4 0.3M101.7 70.1l0.6 0.6M102.5 12.9l-0.9 0.2M49.4 58.3l0.9 0.7M66.3 33.9l0.3 1.4M57.7 47.2l0.7 1.4M45.4 84.3l1.1 1.0M123.8 18.0l0.2 1.2M69.4 39.4l0.7 0.3M83.5 60.0l0.2 0.2M84.7 93.8l0.1 0.7M44.6 85.5l0.1 0.3M93.2 62.0l0.4 0.4M122.0 3.3l-0.4 1.4M117.8 98.4l0.2 0.9M141.5 76.6l-0.1 1.4M104.8 36.4l0.7 0.0M69.4 77.5l1.3 0.4M124.7 74.1l-0.1 0.2M121.8 9.4l-1.1 0.3"/><path stroke-width="1.6" d="M96.8 17.6l-0.1 1.3M89.5 84.0l0.1 0.8M123.8 61.6l-1.0 0.6M124.1 29.2l0.0 0.1M101.1 55.5l0.5 0.8M129.5 8.0l1.0 0.6M101.8 60.7l-0.6 0.7M16.3 40.5l-1.1 1.1M58.0 48.1l-0.7 0.9M77.8 98.1l0.3 1.5M95.3 74.4l1.0 0.5M109.3 18.1l-0.1 0.3M121.5 91.6l0.6 0.4M99.2 20.1l-0.7 1.0M43.2 113.0l-0.0 0.2M9.5 36.9l-0.2 1.2M65.5 52.0l-0.6 1.0M41.1 59.5l0.1 0.9M52.0 81.8l0.3 0.8M44.8 49.3l-0.5 0.3M78.6 31.8l0.8 0.9M60.7 80.4l0.6 0.6M96.5 49.0l0.0 0.1M17.3 16.9l-0.9 0.1M134.1 26.8l0.1 0.2M100.2 48.3l-0.6 1.3M96.8 50.1l0.6 0.5M139.7 95.2l-0.2 0.6M91.2 70.0l-0.2 1.3M63.2 16.5l-0.6 0.8M40.8 14.0l0.1 0.3M85.1 99.7l-0.1 0.1M85.6 31.4l-0.5 0.7M48.4 9.3l-0.2 0.2M77.4 92.5l-0.0 1.4M58.3 63.3l-0.6 0.5M75.4 5.2l-1.2 0.0M86.1 39.4l-0.6 0.6M56.0 68.3l0.2 0.9M72.4 97.5l-0.1 0.2M59.8 8.4l0.7 0.9M32.0 79.9l1.3 0.1M113.2 68.1l-0.6 0.7M124.0 91.3l0.2 0.1M80.1 99.2l-0.5 0.5M124.5 10.0l-0.2 0.6M100.4 46.4l-0.5 0.9M79.4 52.5l1.0 0.5M52.6 11.3l-0.3 0.3M80.0 99.9l-0.4 0.5M71.5 80.2l0.0 0.5M98.1 56.1l-0.3 0.3M141.5 23.3l0.3 1.0M76.5 4.9l0.0 0.5M75.7 20.1l-0.1 0.1M133.9 50.7l-0.5 0.1M88.0 12.9l0.8 0.4M96.4 10.0l-1.2 0.7M134.4 69.1l-0.1 0.3M110.2 86.9l-0.4 0.5M91.4 42.4l0.3 1.0M78.0 75.7l1.1 0.7M125.3 112.0l0.4 0.2M24.2 85.3l-0.1 0.6M18.4 40.8l0.4 0.2M48.0 25.0l-0.7 0.6M91.3 36.6l-0.9 1.2M125.4 57.8l-0.5 0.2M107.3 66.3l-1.3 0.7M48.9 54.0l-0.1 0.9M110.8 8.4l-0.2 0.4M39.2 66.9l-1.2 0.5M40.0 63.0l-0.1 0.3M137.9 71.8l-0.2 0.2M76.6 56.3l0.4 0.4M44.9 80.4l0.7 1.3M130.3 8.1l0.0 0.4M108.7 76.1l-0.2 0.5M73.8 57.9l0.2 0.1M103.1 78.3l-0.0 0.3M85.3 75.8l-1.0 0.4M68.6 8.9l1.2 0.4M16.9 0.6l-0.5 0.6M86.3 78.4l-0.7 0.6M83.4 15.6l-0.1 0.1M70.5 1.3l-0.3 1.3M67.0 15.2l-0.7 0.6M46.1 61.7l1.5 0.3M91.5 43.8l-0.5 0.8M61.9 35.7l1.2 0.9M130.2 78.1l0.4 0.8M125.9 12.4l-0.6 0.3M116.3 87.9l-0.2 1.1M89.4 44.8l1.0 1.1M79.7 66.9l-0.2 0.3M41.6 31.4l0.6 0.2M45.1 7.6l-0.1 0.6M74.3 2.1l0.1 0.0M18.8 37.6l-0.6 0.4M129.2 5.0l1.5 0.4M112.2 5.4l-1.5 0.5"/></g>
<path d="M-3.8 106.0L0.6 103.4L3.7 100.4L6.6 98.6L9.0 95.9L12.0 95.3L16.3 95.0L19.6 95.5L21.1 98.3L22.2 101.6L24.9 105.7L26.7 107.6L27.1 110.9L26.8 114.7L27.8 118.5L-5.0 420.0Z" fill="#000" filter="url(#bl05)"/>
<rect x="0.5" y="0.5" width="145" height="113.5" fill="none" stroke="#000" stroke-width="1"/>
</svg>
<svg x="212" y="323" width="148" height="114.5" viewBox="0 0 148 114.5" overflow="hidden">
<rect width="148" height="114.5" fill="#000"/>
<rect width="148" height="114.5" filter="url(#nB)"/>
<g fill="#000" opacity="0.6" filter="url(#bl05)"><circle cx="8.1" cy="98.3" r="1.0"/><circle cx="7.8" cy="100.9" r="1.0"/><circle cx="7.7" cy="102.1" r="1.0"/><circle cx="7.7" cy="103.3" r="1.1"/><circle cx="7.1" cy="100.3" r="1.3"/><circle cx="9.3" cy="100.7" r="0.7"/><circle cx="4.0" cy="100.7" r="1.2"/><circle cx="7.6" cy="103.1" r="1.7"/><circle cx="8.6" cy="97.2" r="1.7"/><circle cx="5.0" cy="101.7" r="1.1"/><circle cx="7.1" cy="99.5" r="0.9"/><circle cx="4.3" cy="100.9" r="1.7"/><circle cx="6.7" cy="100.5" r="1.1"/><circle cx="7.4" cy="99.9" r="1.2"/></g>
<g fill="#000" opacity="0.3" filter="url(#bl05)"><circle cx="114.0" cy="33.7" r="1.0"/><circle cx="112.3" cy="32.9" r="1.7"/><circle cx="117.1" cy="35.3" r="1.4"/><circle cx="120.0" cy="32.9" r="1.4"/><circle cx="115.6" cy="38.2" r="1.1"/><circle cx="121.0" cy="36.9" r="1.3"/><circle cx="122.5" cy="37.5" r="1.0"/><circle cx="117.7" cy="37.5" r="1.7"/><circle cx="115.3" cy="35.6" r="1.1"/><circle cx="113.1" cy="34.9" r="1.2"/><circle cx="116.7" cy="35.9" r="0.9"/><circle cx="121.2" cy="36.9" r="1.0"/><circle cx="125.2" cy="36.5" r="1.3"/><circle cx="126.3" cy="38.3" r="1.2"/><circle cx="117.5" cy="34.5" r="1.5"/><circle cx="119.9" cy="35.1" r="1.2"/><circle cx="120.1" cy="39.4" r="1.1"/><circle cx="121.0" cy="36.5" r="1.7"/><circle cx="123.3" cy="37.1" r="1.6"/><circle cx="125.1" cy="36.7" r="1.1"/><circle cx="117.6" cy="32.8" r="1.7"/><circle cx="120.0" cy="36.8" r="0.9"/><circle cx="124.3" cy="36.1" r="1.3"/><circle cx="122.4" cy="35.4" r="1.0"/><circle cx="125.3" cy="34.3" r="1.1"/><circle cx="122.1" cy="36.3" r="0.9"/><circle cx="119.7" cy="35.5" r="1.2"/><circle cx="120.9" cy="35.9" r="1.0"/><circle cx="115.7" cy="37.5" r="1.4"/><circle cx="118.8" cy="34.0" r="1.0"/><circle cx="117.4" cy="34.4" r="1.6"/><circle cx="115.1" cy="35.5" r="1.4"/><circle cx="115.7" cy="36.3" r="1.4"/><circle cx="108.0" cy="31.7" r="1.0"/><circle cx="108.9" cy="36.2" r="1.5"/><circle cx="117.3" cy="35.4" r="0.9"/><circle cx="116.8" cy="37.1" r="1.1"/><circle cx="120.6" cy="38.4" r="1.3"/><circle cx="126.0" cy="37.8" r="1.4"/><circle cx="121.9" cy="37.5" r="0.7"/><circle cx="114.3" cy="36.6" r="1.1"/><circle cx="115.7" cy="34.5" r="0.7"/><circle cx="125.7" cy="36.8" r="1.6"/></g>
<g fill="#000" opacity="0.25" filter="url(#bl05)"><circle cx="54.7" cy="82.7" r="1.0"/><circle cx="62.2" cy="88.8" r="1.5"/><circle cx="54.5" cy="86.5" r="1.0"/><circle cx="53.8" cy="80.9" r="1.1"/><circle cx="60.9" cy="83.8" r="0.7"/><circle cx="59.9" cy="91.6" r="1.4"/><circle cx="60.6" cy="87.0" r="1.1"/><circle cx="55.2" cy="85.8" r="1.6"/><circle cx="52.0" cy="85.3" r="0.7"/><circle cx="44.2" cy="82.8" r="1.4"/><circle cx="64.0" cy="81.1" r="1.4"/><circle cx="61.2" cy="86.6" r="1.3"/><circle cx="52.9" cy="86.7" r="0.8"/><circle cx="62.2" cy="82.5" r="1.0"/><circle cx="44.8" cy="86.8" r="0.8"/><circle cx="53.5" cy="84.2" r="1.6"/><circle cx="60.9" cy="79.0" r="1.1"/><circle cx="51.3" cy="85.6" r="1.1"/><circle cx="71.3" cy="83.5" r="1.7"/><circle cx="62.2" cy="83.9" r="1.4"/><circle cx="61.7" cy="84.0" r="1.6"/><circle cx="57.9" cy="83.4" r="1.1"/><circle cx="55.2" cy="84.1" r="1.0"/><circle cx="57.4" cy="87.0" r="1.6"/><circle cx="67.3" cy="85.6" r="1.2"/><circle cx="56.3" cy="81.3" r="1.1"/><circle cx="53.4" cy="85.5" r="0.9"/><circle cx="53.4" cy="88.0" r="1.4"/><circle cx="56.7" cy="87.9" r="1.6"/><circle cx="59.2" cy="79.1" r="1.5"/><circle cx="58.8" cy="88.9" r="1.5"/><circle cx="57.9" cy="83.7" r="1.2"/><circle cx="55.7" cy="85.5" r="0.9"/><circle cx="56.0" cy="81.4" r="1.1"/><circle cx="50.0" cy="84.2" r="1.0"/><circle cx="64.8" cy="88.2" r="1.5"/><circle cx="47.3" cy="87.7" r="1.5"/><circle cx="52.7" cy="80.8" r="1.7"/><circle cx="70.0" cy="87.4" r="1.2"/><circle cx="58.1" cy="81.0" r="0.8"/><circle cx="54.3" cy="85.1" r="1.4"/><circle cx="53.5" cy="88.1" r="1.0"/><circle cx="59.5" cy="81.8" r="1.0"/><circle cx="56.3" cy="83.9" r="1.5"/><circle cx="48.6" cy="82.7" r="1.3"/><circle cx="65.5" cy="85.3" r="1.2"/><circle cx="50.1" cy="83.7" r="1.0"/><circle cx="52.9" cy="90.6" r="1.5"/><circle cx="65.2" cy="84.8" r="1.2"/><circle cx="49.3" cy="88.5" r="1.3"/><circle cx="65.6" cy="84.0" r="1.1"/><circle cx="56.2" cy="86.6" r="1.5"/><circle cx="51.2" cy="87.0" r="0.8"/><circle cx="44.0" cy="85.9" r="1.0"/><circle cx="56.1" cy="80.8" r="1.4"/><circle cx="52.8" cy="84.5" r="1.4"/><circle cx="43.3" cy="81.9" r="1.2"/><circle cx="48.7" cy="90.8" r="1.3"/><circle cx="51.9" cy="89.3" r="0.9"/><circle cx="61.0" cy="91.3" r="1.2"/><circle cx="57.8" cy="83.8" r="1.2"/><circle cx="57.3" cy="91.0" r="1.3"/><circle cx="52.0" cy="87.5" r="0.9"/><circle cx="58.7" cy="90.1" r="1.0"/><circle cx="61.1" cy="87.5" r="1.2"/><circle cx="62.2" cy="85.5" r="1.1"/><circle cx="65.7" cy="84.9" r="1.2"/><circle cx="53.1" cy="87.0" r="0.9"/><circle cx="48.2" cy="86.4" r="0.8"/><circle cx="52.9" cy="86.0" r="1.3"/><circle cx="51.6" cy="89.3" r="1.5"/><circle cx="51.7" cy="87.3" r="0.8"/><circle cx="58.4" cy="89.7" r="1.5"/><circle cx="66.8" cy="91.8" r="1.6"/><circle cx="51.6" cy="88.4" r="1.4"/><circle cx="53.8" cy="88.2" r="1.4"/><circle cx="50.2" cy="86.0" r="1.3"/><circle cx="61.4" cy="87.9" r="1.0"/><circle cx="60.0" cy="88.8" r="1.4"/><circle cx="49.7" cy="85.2" r="1.4"/><circle cx="41.9" cy="89.6" r="0.9"/><circle cx="64.1" cy="85.9" r="1.4"/></g>
<g fill="#000" opacity="0.25" filter="url(#bl05)"><circle cx="24.0" cy="25.9" r="1.0"/><circle cx="27.6" cy="28.5" r="1.6"/><circle cx="26.2" cy="27.3" r="1.2"/><circle cx="32.1" cy="27.1" r="1.2"/><circle cx="36.8" cy="24.0" r="1.6"/><circle cx="27.1" cy="25.4" r="1.5"/><circle cx="32.4" cy="26.6" r="0.9"/><circle cx="26.8" cy="23.6" r="0.8"/><circle cx="30.8" cy="22.2" r="1.2"/><circle cx="34.8" cy="23.6" r="0.9"/><circle cx="26.1" cy="22.1" r="1.2"/><circle cx="26.0" cy="25.9" r="1.0"/><circle cx="26.8" cy="25.8" r="1.6"/><circle cx="23.2" cy="26.4" r="1.5"/><circle cx="26.1" cy="23.1" r="1.7"/><circle cx="34.9" cy="22.5" r="1.0"/><circle cx="30.3" cy="21.4" r="0.7"/><circle cx="22.4" cy="26.8" r="1.2"/><circle cx="34.6" cy="23.0" r="1.5"/><circle cx="31.2" cy="24.1" r="1.6"/><circle cx="35.1" cy="24.4" r="0.8"/><circle cx="22.5" cy="24.3" r="0.8"/><circle cx="22.2" cy="21.2" r="0.9"/><circle cx="27.5" cy="28.3" r="1.2"/><circle cx="31.0" cy="24.5" r="1.6"/><circle cx="26.7" cy="26.2" r="1.2"/><circle cx="33.3" cy="21.5" r="1.1"/><circle cx="26.7" cy="23.8" r="0.8"/><circle cx="22.9" cy="26.7" r="0.8"/><circle cx="35.5" cy="25.5" r="0.9"/><circle cx="29.0" cy="24.6" r="0.8"/><circle cx="25.9" cy="27.3" r="1.4"/><circle cx="26.1" cy="27.1" r="1.0"/><circle cx="25.4" cy="23.8" r="1.3"/><circle cx="37.2" cy="24.3" r="0.9"/><circle cx="24.6" cy="23.8" r="1.1"/><circle cx="26.7" cy="27.6" r="1.5"/><circle cx="33.9" cy="19.1" r="1.2"/><circle cx="23.4" cy="23.6" r="1.0"/><circle cx="15.5" cy="24.0" r="0.8"/><circle cx="27.2" cy="22.3" r="1.3"/><circle cx="26.6" cy="28.0" r="1.2"/><circle cx="25.5" cy="26.7" r="0.7"/><circle cx="35.1" cy="27.3" r="0.8"/><circle cx="22.0" cy="26.4" r="0.7"/><circle cx="29.9" cy="23.6" r="1.7"/><circle cx="21.9" cy="25.6" r="1.3"/><circle cx="31.7" cy="25.8" r="1.4"/><circle cx="29.0" cy="20.6" r="1.4"/></g>
<g fill="#000" opacity="0.25" filter="url(#bl05)"><circle cx="97.6" cy="87.9" r="1.2"/><circle cx="101.7" cy="87.0" r="0.8"/><circle cx="91.3" cy="84.8" r="0.9"/><circle cx="100.3" cy="84.5" r="1.4"/><circle cx="90.1" cy="83.4" r="1.6"/><circle cx="98.4" cy="86.8" r="0.9"/><circle cx="90.9" cy="84.1" r="1.6"/><circle cx="94.9" cy="88.0" r="1.6"/><circle cx="93.6" cy="82.7" r="1.1"/><circle cx="94.2" cy="84.1" r="1.4"/><circle cx="95.6" cy="91.0" r="0.8"/><circle cx="102.0" cy="82.7" r="0.7"/><circle cx="99.7" cy="91.2" r="1.5"/><circle cx="92.4" cy="90.8" r="1.3"/><circle cx="94.6" cy="90.2" r="1.1"/><circle cx="99.9" cy="90.2" r="1.4"/><circle cx="94.7" cy="88.8" r="1.4"/><circle cx="92.2" cy="87.4" r="1.2"/><circle cx="96.4" cy="85.3" r="1.0"/><circle cx="81.9" cy="86.6" r="1.7"/><circle cx="100.8" cy="85.9" r="0.8"/><circle cx="95.1" cy="87.2" r="1.2"/><circle cx="105.9" cy="85.4" r="1.1"/><circle cx="99.9" cy="83.1" r="0.8"/><circle cx="97.3" cy="84.4" r="1.7"/><circle cx="100.8" cy="90.4" r="1.2"/><circle cx="91.7" cy="85.5" r="1.2"/><circle cx="94.8" cy="82.0" r="1.7"/><circle cx="85.2" cy="84.4" r="0.8"/><circle cx="94.0" cy="81.8" r="1.6"/><circle cx="92.0" cy="88.5" r="1.5"/><circle cx="94.3" cy="88.5" r="1.5"/><circle cx="91.5" cy="83.0" r="0.7"/><circle cx="94.9" cy="82.7" r="0.9"/><circle cx="92.7" cy="86.8" r="1.5"/><circle cx="97.8" cy="78.5" r="1.4"/><circle cx="96.9" cy="88.3" r="1.7"/><circle cx="98.5" cy="85.7" r="0.8"/><circle cx="96.2" cy="87.8" r="1.3"/><circle cx="102.5" cy="88.1" r="1.1"/><circle cx="95.4" cy="86.9" r="1.2"/><circle cx="91.5" cy="88.5" r="0.8"/><circle cx="91.3" cy="88.5" r="0.8"/><circle cx="86.1" cy="85.7" r="1.3"/><circle cx="98.8" cy="88.7" r="0.8"/><circle cx="94.9" cy="86.0" r="1.2"/><circle cx="96.0" cy="87.8" r="0.8"/><circle cx="96.4" cy="84.7" r="1.4"/><circle cx="96.1" cy="82.7" r="1.3"/><circle cx="90.4" cy="90.4" r="1.4"/><circle cx="100.5" cy="87.9" r="0.8"/><circle cx="91.7" cy="85.9" r="1.2"/><circle cx="90.5" cy="81.8" r="1.0"/><circle cx="99.0" cy="86.8" r="1.6"/><circle cx="88.7" cy="84.4" r="1.5"/><circle cx="87.6" cy="80.3" r="1.7"/><circle cx="93.9" cy="80.4" r="0.8"/><circle cx="93.9" cy="90.3" r="1.3"/><circle cx="99.4" cy="81.9" r="1.0"/><circle cx="97.5" cy="89.5" r="0.8"/><circle cx="91.0" cy="85.8" r="1.1"/></g>
<ellipse cx="120.8" cy="19.9" rx="20.5" ry="1.8" fill="#a03010" opacity="0.28" filter="url(#bl1)" transform="rotate(22 120.8 19.9)"/>
<path d="M98.5 -1.8L100.6 -0.2L103.1 3.2L105.3 5.5L107.9 8.3L110.9 10.5L112.9 10.3L116.7 12.2L119.2 12.1L122.2 13.7L126.0 13.7L128.7 14.7L132.8 15.8L136.0 17.5L137.9 18.9L140.8 21.0L143.8 22.6L147.5 24.3L149.9 27.0L153.0 27.8L530.0 -5.0Z" fill="#000" filter="url(#bl05)"/>
<g stroke="#78f0e0" opacity="0.92" filter="url(#bl05)" fill="none" stroke-linecap="round"><path stroke-width="2.4" d="M9.9 5.2l-0.4 0.2M11.4 8.8l-0.5 0.6M58.1 3.6l-0.3 0.4M67.8 10.9l0.7 0.5M100.3 13.7l0.1 0.7M70.5 25.0l0.1 0.3M79.6 26.9l0.6 0.6M76.7 33.6l-0.6 0.2M103.6 26.3l-0.6 0.2M117.6 25.0l-0.6 0.3M46.0 16.0l0.4 0.3M20.4 34.5l-0.9 0.1M72.7 45.3l-0.2 0.2M83.0 41.3l-0.4 0.0M92.8 40.2l0.4 0.4M85.8 46.2l-0.1 0.1M13.9 41.5l0.4 0.7M26.7 56.5l-0.1 0.0M27.5 59.7l-0.6 0.6M77.1 54.7l-0.4 0.7M73.5 57.9l-0.1 0.1M108.9 58.6l0.5 0.5M68.3 68.8l-0.2 0.6M64.2 75.4l-0.7 0.2M11.0 74.6l0.2 0.1M2.1 97.6l0.5 0.7M100.7 103.8l0.5 0.1M122.1 102.4l0.4 0.6M36.1 0.3l-0.3 0.0"/><path stroke-width="1.6" d="M53.4 43.2l0.3 0.2M34.4 59.1l0.3 0.6M84.1 60.3l0.3 0.0M131.4 103.0l-0.7 0.5"/><path stroke-width="3.2" d="M62.5 68.1l-0.3 0.2"/></g>
<g fill="#d8fff0" opacity="1.0" filter="url(#bl05)"><circle cx="9.7" cy="5.3" r="0.78"/><circle cx="57.9" cy="3.8" r="0.66"/><circle cx="100.3" cy="14.1" r="0.85"/><circle cx="79.9" cy="27.2" r="0.79"/><circle cx="103.3" cy="26.4" r="0.69"/><circle cx="46.2" cy="16.1" r="0.83"/><circle cx="53.6" cy="43.3" r="0.77"/><circle cx="82.8" cy="41.3" r="0.78"/><circle cx="85.7" cy="46.2" r="0.66"/><circle cx="26.7" cy="56.5" r="0.69"/><circle cx="34.5" cy="59.4" r="0.81"/><circle cx="73.4" cy="57.9" r="0.65"/><circle cx="109.1" cy="58.8" r="0.69"/><circle cx="68.2" cy="69.1" r="0.66"/><circle cx="11.2" cy="74.6" r="0.77"/><circle cx="100.9" cy="103.8" r="0.68"/><circle cx="131.0" cy="103.3" r="0.81"/></g>
<rect x="0.5" y="0.5" width="147" height="113.5" fill="none" stroke="#000" stroke-width="1"/>
</svg>
<svg x="366" y="323" width="146" height="114.5" viewBox="0 0 146 114.5" overflow="hidden">
<rect width="146" height="114.5" fill="#000"/>
<rect width="146" height="114.5" filter="url(#nBd)"/>
<g fill="#000" opacity="0.75" filter="url(#bl05)"><circle cx="69.1" cy="57.5" r="1.6"/><circle cx="79.9" cy="58.2" r="1.1"/><circle cx="78.2" cy="57.1" r="1.6"/><circle cx="73.4" cy="58.9" r="1.0"/><circle cx="76.4" cy="56.9" r="1.1"/><circle cx="75.8" cy="55.6" r="0.8"/><circle cx="78.3" cy="58.9" r="1.5"/><circle cx="73.8" cy="55.8" r="1.5"/><circle cx="77.3" cy="59.4" r="0.7"/><circle cx="73.0" cy="58.7" r="1.0"/><circle cx="77.9" cy="57.3" r="1.1"/><circle cx="75.7" cy="57.0" r="1.4"/><circle cx="75.7" cy="58.0" r="0.8"/><circle cx="72.2" cy="55.5" r="1.4"/><circle cx="81.6" cy="57.3" r="1.5"/><circle cx="80.4" cy="57.1" r="1.2"/><circle cx="78.6" cy="58.9" r="0.8"/><circle cx="80.4" cy="59.2" r="1.0"/><circle cx="69.0" cy="56.0" r="1.0"/><circle cx="84.1" cy="57.6" r="0.9"/><circle cx="74.4" cy="57.2" r="0.8"/><circle cx="77.4" cy="58.8" r="0.7"/><circle cx="85.2" cy="59.4" r="1.6"/><circle cx="78.2" cy="57.8" r="0.7"/><circle cx="79.9" cy="57.5" r="1.0"/><circle cx="75.4" cy="56.3" r="1.0"/></g>
<g fill="#000" opacity="0.75" filter="url(#bl05)"><circle cx="102.3" cy="71.4" r="1.4"/><circle cx="102.0" cy="70.6" r="0.9"/><circle cx="94.8" cy="69.4" r="1.2"/><circle cx="94.7" cy="69.5" r="0.8"/><circle cx="88.7" cy="69.6" r="0.8"/><circle cx="87.7" cy="67.7" r="1.3"/><circle cx="90.5" cy="71.3" r="1.5"/><circle cx="106.4" cy="71.6" r="1.2"/><circle cx="87.1" cy="69.0" r="1.3"/><circle cx="92.2" cy="68.6" r="1.6"/><circle cx="97.9" cy="70.7" r="0.9"/><circle cx="100.4" cy="71.1" r="1.7"/><circle cx="88.4" cy="67.6" r="1.2"/><circle cx="95.3" cy="69.5" r="1.6"/><circle cx="93.8" cy="70.0" r="1.4"/><circle cx="117.8" cy="70.2" r="1.2"/><circle cx="88.2" cy="69.5" r="1.1"/><circle cx="102.5" cy="72.4" r="1.0"/><circle cx="99.4" cy="72.6" r="1.0"/><circle cx="96.2" cy="69.0" r="0.8"/><circle cx="103.1" cy="68.7" r="1.4"/><circle cx="97.0" cy="69.4" r="1.2"/><circle cx="107.0" cy="69.7" r="1.3"/><circle cx="97.5" cy="69.4" r="0.8"/><circle cx="101.2" cy="70.4" r="1.0"/><circle cx="91.1" cy="70.1" r="1.4"/><circle cx="111.8" cy="70.3" r="1.0"/><circle cx="100.2" cy="71.2" r="1.0"/><circle cx="114.6" cy="75.1" r="1.3"/><circle cx="97.9" cy="70.1" r="1.6"/><circle cx="100.3" cy="72.8" r="0.9"/><circle cx="99.7" cy="71.1" r="1.2"/><circle cx="98.0" cy="71.8" r="1.4"/><circle cx="100.8" cy="71.3" r="1.2"/><circle cx="93.9" cy="70.2" r="1.1"/><circle cx="102.1" cy="71.4" r="1.4"/><circle cx="93.3" cy="67.8" r="1.3"/><circle cx="95.6" cy="69.6" r="1.6"/><circle cx="92.6" cy="68.8" r="1.0"/><circle cx="85.4" cy="70.5" r="1.1"/><circle cx="101.7" cy="70.1" r="1.3"/><circle cx="99.5" cy="71.3" r="1.0"/><circle cx="91.9" cy="70.2" r="1.1"/><circle cx="103.1" cy="70.4" r="1.6"/><circle cx="88.4" cy="69.3" r="1.1"/><circle cx="99.2" cy="73.1" r="1.3"/></g>
<g fill="#000" opacity="0.6" filter="url(#bl05)"><circle cx="46.4" cy="88.7" r="1.4"/><circle cx="54.2" cy="87.7" r="1.7"/><circle cx="45.9" cy="91.6" r="1.6"/><circle cx="51.5" cy="86.4" r="1.1"/><circle cx="39.4" cy="94.2" r="0.9"/><circle cx="49.2" cy="90.5" r="1.0"/><circle cx="44.3" cy="91.8" r="1.2"/><circle cx="51.6" cy="89.4" r="1.2"/><circle cx="52.4" cy="89.4" r="1.6"/><circle cx="41.1" cy="88.9" r="1.6"/><circle cx="46.8" cy="90.4" r="0.8"/><circle cx="40.1" cy="90.8" r="1.0"/><circle cx="53.0" cy="90.6" r="1.2"/><circle cx="45.6" cy="90.8" r="1.3"/><circle cx="41.5" cy="90.7" r="1.6"/><circle cx="55.1" cy="89.4" r="1.0"/><circle cx="44.5" cy="91.7" r="1.5"/><circle cx="46.2" cy="90.7" r="1.2"/><circle cx="48.2" cy="90.2" r="0.8"/><circle cx="44.6" cy="92.1" r="0.7"/><circle cx="54.3" cy="90.8" r="1.2"/><circle cx="52.9" cy="88.5" r="1.7"/><circle cx="45.8" cy="89.2" r="0.8"/><circle cx="52.7" cy="90.9" r="1.4"/><circle cx="47.2" cy="91.1" r="1.3"/><circle cx="50.5" cy="88.9" r="1.7"/><circle cx="44.8" cy="90.7" r="0.9"/><circle cx="44.5" cy="87.6" r="0.9"/><circle cx="48.1" cy="90.8" r="0.9"/><circle cx="48.8" cy="91.4" r="0.9"/></g>
<g fill="#000" opacity="0.4" filter="url(#bl05)"><circle cx="20.7" cy="15.7" r="1.0"/><circle cx="20.5" cy="19.8" r="0.8"/><circle cx="21.5" cy="18.7" r="1.4"/><circle cx="23.3" cy="20.0" r="1.6"/><circle cx="20.3" cy="16.0" r="1.1"/><circle cx="20.0" cy="20.2" r="0.8"/><circle cx="21.9" cy="20.5" r="0.9"/><circle cx="21.0" cy="20.3" r="1.3"/><circle cx="22.0" cy="23.4" r="1.4"/><circle cx="18.5" cy="18.6" r="1.5"/><circle cx="20.2" cy="19.4" r="0.7"/><circle cx="20.8" cy="14.5" r="1.0"/><circle cx="22.3" cy="19.9" r="1.6"/><circle cx="18.0" cy="20.0" r="1.5"/><circle cx="21.4" cy="21.6" r="1.6"/><circle cx="21.6" cy="24.4" r="1.6"/><circle cx="19.6" cy="19.5" r="1.7"/><circle cx="24.0" cy="10.9" r="1.4"/><circle cx="21.5" cy="19.8" r="0.7"/><circle cx="23.3" cy="15.9" r="1.6"/><circle cx="22.6" cy="17.6" r="1.7"/><circle cx="21.2" cy="21.2" r="1.0"/><circle cx="25.5" cy="18.2" r="1.1"/><circle cx="18.1" cy="19.4" r="1.5"/><circle cx="22.7" cy="16.0" r="0.9"/><circle cx="17.3" cy="17.6" r="1.3"/><circle cx="22.2" cy="16.4" r="1.2"/><circle cx="23.4" cy="15.6" r="1.5"/><circle cx="22.1" cy="14.0" r="1.4"/><circle cx="20.7" cy="14.1" r="1.2"/><circle cx="22.7" cy="10.0" r="1.7"/><circle cx="19.6" cy="23.3" r="1.3"/><circle cx="22.2" cy="15.9" r="1.2"/><circle cx="21.3" cy="26.4" r="1.4"/><circle cx="22.2" cy="18.6" r="0.8"/><circle cx="18.8" cy="14.4" r="1.0"/></g>
<g fill="#000" opacity="0.4" filter="url(#bl05)"><circle cx="125.9" cy="86.6" r="1.3"/><circle cx="117.6" cy="86.2" r="1.0"/><circle cx="121.7" cy="88.4" r="1.1"/><circle cx="119.5" cy="83.9" r="0.9"/><circle cx="119.6" cy="87.9" r="1.6"/><circle cx="123.0" cy="85.3" r="1.0"/><circle cx="123.1" cy="86.3" r="1.1"/><circle cx="118.9" cy="82.5" r="1.3"/><circle cx="123.4" cy="86.8" r="0.8"/><circle cx="119.7" cy="87.6" r="1.2"/><circle cx="122.5" cy="86.8" r="1.6"/><circle cx="116.7" cy="84.3" r="1.0"/><circle cx="118.6" cy="88.1" r="0.7"/><circle cx="114.6" cy="82.7" r="1.3"/><circle cx="121.9" cy="85.8" r="1.5"/><circle cx="122.6" cy="87.1" r="1.4"/><circle cx="119.2" cy="84.6" r="1.4"/><circle cx="125.0" cy="84.9" r="1.1"/><circle cx="117.3" cy="83.0" r="1.4"/><circle cx="127.7" cy="84.6" r="1.7"/><circle cx="120.8" cy="87.9" r="0.9"/><circle cx="123.8" cy="86.6" r="1.6"/><circle cx="119.8" cy="86.9" r="1.6"/><circle cx="128.1" cy="85.4" r="1.1"/><circle cx="121.5" cy="85.2" r="0.7"/><circle cx="124.5" cy="86.2" r="0.9"/><circle cx="123.8" cy="84.5" r="1.6"/><circle cx="116.6" cy="85.8" r="1.0"/><circle cx="125.4" cy="86.2" r="1.7"/><circle cx="130.8" cy="85.1" r="0.8"/></g>
<g fill="#000" opacity="0.35" filter="url(#bl05)"><circle cx="58.8" cy="31.8" r="0.9"/><circle cx="67.3" cy="34.2" r="0.8"/><circle cx="65.7" cy="30.8" r="1.7"/><circle cx="70.1" cy="35.6" r="1.5"/><circle cx="65.7" cy="33.8" r="1.7"/><circle cx="65.8" cy="32.7" r="0.9"/><circle cx="64.4" cy="32.0" r="1.1"/><circle cx="66.0" cy="33.9" r="1.2"/><circle cx="59.1" cy="30.0" r="0.7"/><circle cx="64.3" cy="33.2" r="1.3"/><circle cx="66.4" cy="34.7" r="1.7"/><circle cx="62.8" cy="30.3" r="1.3"/><circle cx="66.1" cy="35.6" r="1.7"/><circle cx="70.3" cy="36.5" r="1.0"/><circle cx="66.1" cy="35.5" r="1.6"/><circle cx="66.1" cy="34.3" r="1.2"/><circle cx="65.8" cy="35.1" r="1.7"/><circle cx="68.7" cy="34.6" r="0.9"/><circle cx="67.0" cy="35.5" r="1.6"/><circle cx="60.8" cy="31.8" r="1.4"/><circle cx="71.9" cy="32.4" r="1.0"/><circle cx="67.6" cy="37.1" r="1.3"/><circle cx="66.9" cy="33.1" r="1.5"/><circle cx="66.4" cy="34.1" r="0.8"/><circle cx="62.6" cy="33.3" r="1.4"/></g>
<g fill="#000" opacity="0.35" filter="url(#bl05)"><circle cx="135.4" cy="41.3" r="1.3"/><circle cx="130.1" cy="42.6" r="1.0"/><circle cx="134.7" cy="41.9" r="1.4"/><circle cx="133.9" cy="39.7" r="1.1"/><circle cx="130.9" cy="42.4" r="0.9"/><circle cx="136.4" cy="41.8" r="1.1"/><circle cx="129.2" cy="41.5" r="1.0"/><circle cx="129.8" cy="42.6" r="1.6"/><circle cx="134.4" cy="41.1" r="1.2"/><circle cx="133.8" cy="45.4" r="0.8"/><circle cx="132.0" cy="41.9" r="1.2"/><circle cx="132.0" cy="41.9" r="0.9"/><circle cx="129.2" cy="41.9" r="1.0"/><circle cx="134.9" cy="42.3" r="1.0"/><circle cx="135.6" cy="43.1" r="0.9"/><circle cx="128.0" cy="41.4" r="0.7"/><circle cx="128.3" cy="41.9" r="1.6"/><circle cx="130.5" cy="39.3" r="1.4"/><circle cx="133.4" cy="44.5" r="1.5"/><circle cx="125.9" cy="42.1" r="0.7"/></g>
<g fill="#000" opacity="0.4" filter="url(#bl05)"><circle cx="38.3" cy="64.6" r="1.2"/><circle cx="36.5" cy="64.6" r="1.2"/><circle cx="36.8" cy="65.3" r="1.7"/><circle cx="36.6" cy="66.5" r="0.8"/><circle cx="39.2" cy="64.7" r="1.6"/><circle cx="35.6" cy="66.5" r="0.9"/><circle cx="32.1" cy="64.3" r="1.3"/><circle cx="33.8" cy="64.7" r="1.7"/><circle cx="37.8" cy="65.3" r="1.4"/><circle cx="41.6" cy="64.9" r="0.9"/><circle cx="39.0" cy="64.8" r="1.3"/><circle cx="33.6" cy="64.0" r="1.6"/><circle cx="38.1" cy="64.6" r="1.6"/><circle cx="34.2" cy="66.9" r="0.9"/><circle cx="34.4" cy="64.5" r="1.7"/><circle cx="34.5" cy="64.3" r="1.7"/></g>
<path d="M7.6 -1.6L9.1 0.7L9.3 4.4L10.8 7.9L10.8 12.1L10.6 16.2L10.8 19.6L9.8 22.8L9.4 26.5L9.1 30.9L9.2 35.0L8.7 37.7L9.1 42.2L9.5 44.3L9.9 47.5L11.0 51.1L11.5 53.3L13.0 56.0L11.8 60.7L13.0 63.2L11.9 66.9L11.7 71.0L12.7 74.4L12.8 77.5L14.5 79.4L14.9 82.3L16.3 86.2L16.1 89.8L16.7 92.3L17.8 96.0L18.4 100.9L18.9 103.5L18.7 107.4L19.5 111.5L19.3 114.3L20.2 117.9L-5.0 420.0L-5.0 -5.0Z" fill="#000" filter="url(#bl05)"/>
<g stroke="#88ece0" opacity="0.85" filter="url(#bl05)" fill="none" stroke-linecap="round"><path stroke-width="1.6" d="M66.6 43.0l-0.5 0.1M71.6 39.2l-0.2 0.7M76.6 38.9l0.2 1.1M109.0 71.8l-0.6 0.5M82.5 26.3l-0.1 0.1M146.0 106.8l-0.5 1.0M113.3 39.3l-0.0 0.3M73.2 59.8l-0.3 0.8M140.4 60.9l0.3 0.3M73.7 32.0l-0.1 0.4M28.1 60.4l-0.1 0.2M44.7 75.7l0.3 1.1M142.9 32.2l-0.8 0.3M48.2 91.8l0.5 0.8M94.8 70.5l-0.3 0.6M94.3 52.2l0.2 0.5M147.1 79.3l-0.0 0.3M126.0 27.1l0.5 0.4M96.5 40.0l0.6 0.2M71.5 1.5l-0.1 0.2M135.4 13.3l-0.3 0.0M110.9 51.7l-0.2 0.2M51.9 74.6l0.0 0.1M65.4 42.8l-0.1 1.1M98.1 45.7l-0.1 0.1M53.8 59.3l0.1 0.3M33.4 28.6l0.4 0.7M144.0 83.7l0.4 0.1M130.2 25.7l-0.0 0.1M49.2 91.4l0.6 1.0M138.1 65.5l-0.4 0.1M38.9 26.8l0.3 0.3M109.8 19.4l0.0 0.2M46.3 10.9l-0.0 0.3M30.3 15.2l0.3 0.2M143.4 42.6l0.0 0.6M128.8 37.1l-0.6 0.8M59.0 80.9l0.3 0.4M37.2 90.3l0.1 0.1M110.8 4.5l-0.1 0.2M134.5 102.9l0.2 0.0M75.6 73.3l0.2 0.8M69.7 62.1l-0.5 0.6M133.9 61.0l-0.3 0.7M107.5 59.0l-0.2 0.6M145.5 17.1l0.5 0.2M85.9 98.8l0.1 0.2M132.8 112.2l-0.2 0.1M81.5 55.3l0.5 0.1M73.5 6.9l0.8 0.8M86.6 112.9l-1.1 0.3M30.4 78.8l-0.7 0.5M30.6 52.7l0.0 0.1M59.3 58.4l-0.2 0.5M109.8 78.7l-1.1 0.2M123.4 22.1l0.1 0.1M23.2 81.3l-0.9 0.4M129.9 53.9l0.9 0.7M125.7 12.4l0.1 0.5M44.0 6.0l-0.8 0.8M22.0 105.5l0.2 0.3M84.6 91.9l-0.6 0.5M146.1 100.0l0.2 1.1M113.6 78.7l-0.4 0.9M123.6 84.2l-0.5 1.0M119.6 88.4l1.0 0.3M35.1 85.2l-0.5 0.3M90.9 106.1l0.9 0.3M34.0 53.9l-0.4 0.5M56.8 88.7l-0.6 0.9M105.3 67.3l0.2 0.6M109.7 64.8l-0.3 0.2M52.5 87.3l1.1 0.1M121.5 67.2l0.2 0.2M71.5 62.3l0.4 0.6M115.6 10.1l1.0 0.4M111.8 18.4l-0.8 0.6M143.2 71.5l-0.2 0.3M97.5 13.0l-0.3 0.2M110.6 16.1l0.3 0.9M134.3 1.4l-0.5 0.8M28.3 92.5l0.6 0.7M39.5 51.4l0.1 0.3M147.5 62.6l0.1 0.2M57.1 93.1l-0.0 0.5M88.3 43.4l-0.2 0.1M113.4 67.4l0.3 0.1M99.2 91.7l0.9 0.2M33.9 46.9l0.1 0.1M131.9 67.3l-0.8 0.1M107.1 17.4l0.3 0.1M68.7 63.2l0.1 0.0M31.3 66.4l0.1 0.7M110.4 7.2l-0.9 0.1M54.6 89.1l0.4 0.4M132.1 70.3l-0.1 0.0M125.9 25.9l-0.4 0.3M53.8 103.9l0.0 0.4M128.1 14.8l0.1 0.3M45.6 78.9l-0.6 0.1M88.7 43.7l-0.7 0.2M143.5 22.5l-0.2 0.6M118.7 18.1l1.0 0.1M40.3 73.3l0.2 0.9M73.2 96.5l-0.1 0.1M26.0 55.5l-0.4 0.6M122.7 43.2l0.5 0.5M112.5 72.2l-0.9 0.6M37.9 66.2l0.2 0.2M62.4 79.0l-0.6 0.3M138.4 32.7l0.3 0.3M97.2 64.7l-1.1 0.4M77.3 44.9l0.7 0.5M145.5 26.6l-0.1 0.3M48.3 26.9l0.6 0.1M38.0 57.1l-0.2 0.1M113.9 4.5l0.6 0.8M135.3 96.5l-0.1 0.4M69.7 6.7l0.4 0.1M47.2 6.0l0.3 0.2M126.5 27.5l-0.2 0.6M125.9 1.7l-0.3 0.8M84.9 72.2l0.9 0.4M70.5 74.1l-0.1 0.0M108.7 42.8l-1.1 0.3M110.8 98.8l0.1 0.4M118.3 107.8l-0.5 0.1"/><path stroke-width="2.4" d="M56.8 61.8l0.0 0.3M70.7 70.2l-0.9 0.1M34.4 71.4l-0.7 0.5M62.4 36.8l-0.6 0.3M88.9 78.5l0.5 0.1M143.3 25.4l-0.2 0.1M80.4 44.5l0.4 0.0M31.3 96.7l-0.1 0.0M78.0 25.4l-0.1 0.5M83.8 109.2l0.3 0.5M66.3 3.5l-0.3 0.3M72.3 6.2l-0.5 0.4M131.5 70.2l0.4 0.2M55.4 63.2l-0.3 0.2M86.9 68.7l-0.6 0.1M92.5 99.8l0.1 0.3M136.7 74.9l0.4 0.0M51.6 90.3l0.8 0.4M131.3 55.8l-1.0 0.2M78.5 33.3l-0.4 0.6M145.0 50.3l0.9 0.0M23.9 78.9l-0.5 0.2M111.2 8.7l0.3 0.0M30.5 35.8l-0.3 0.4M57.5 83.6l-0.5 0.2M142.7 70.1l-0.8 0.0M143.5 1.9l1.0 0.3M108.5 97.6l0.5 0.3M115.1 34.2l0.1 0.1M140.9 90.8l-0.1 0.1M81.7 36.6l-0.6 0.4M123.5 108.2l1.2 0.1M26.6 44.7l0.2 1.1M147.2 82.0l0.2 0.1M105.6 10.9l0.1 1.0M138.8 17.5l-0.4 0.1M111.6 33.6l0.4 0.2M99.5 53.2l0.1 0.4M137.1 98.8l0.9 0.7M59.0 43.3l-0.2 0.0M125.7 107.9l-0.9 0.6M43.6 97.7l0.8 0.7M145.7 18.9l0.1 0.5M28.6 49.0l-0.7 0.6M90.5 28.4l-0.7 0.2M100.3 109.8l-0.1 0.3M114.9 27.1l0.6 0.8M147.1 51.8l-0.9 0.3M73.6 104.0l0.6 0.2M44.5 34.7l0.2 0.3M63.1 94.6l0.4 1.1M62.1 67.2l0.3 0.1M57.6 35.0l-0.6 0.0M135.9 91.3l-0.2 0.1M146.5 13.1l0.5 0.3M74.5 4.5l0.0 0.3M55.5 70.4l-0.2 0.6M146.8 95.1l0.5 0.6M97.1 108.7l0.4 0.5M125.6 52.0l0.0 0.2M44.0 6.1l1.1 0.3M52.3 51.4l0.2 0.1M88.8 7.6l0.2 0.5M115.7 88.4l-0.1 0.1M145.3 89.3l0.2 0.4M47.1 19.5l-0.7 0.0M100.5 37.5l0.6 0.2M24.2 48.7l0.0 1.0M110.8 83.8l0.4 0.5M94.2 30.4l0.4 0.2M127.2 15.5l-0.3 0.2M44.9 34.3l-0.5 0.3M30.1 93.3l0.3 0.6"/></g>
<g stroke="#60c0ff" opacity="0.8" filter="url(#bl05)" fill="none" stroke-linecap="round"><path stroke-width="1.6" d="M99.5 34.0l-0.8 0.3M55.4 91.9l0.0 0.8M145.0 74.2l-0.8 0.5M51.2 112.8l-0.1 0.1M26.3 42.0l0.1 0.2M109.7 18.3l0.3 0.1M111.4 40.4l0.5 0.0M58.7 0.7l0.3 0.4M34.0 99.1l-0.1 0.4M42.6 63.4l-0.3 0.4M96.2 35.1l-0.5 0.6M43.3 23.8l0.1 0.1M22.1 37.1l0.7 0.4M28.2 60.1l0.4 0.2M61.1 33.5l0.1 0.2M43.9 50.0l-0.0 0.7M94.3 50.8l-0.8 0.1M116.1 105.7l0.0 0.5M125.8 42.3l-0.1 0.8M47.6 91.0l-0.5 0.7M70.4 65.5l-0.3 0.4M87.6 2.3l-0.5 0.3M133.6 8.4l-0.2 0.1M56.6 71.3l-0.3 0.9M117.8 81.6l-0.2 0.1M50.1 90.4l-0.0 0.2M141.7 37.0l0.6 0.1M127.0 86.3l0.4 0.6M22.0 17.8l-0.4 0.4M140.0 83.4l-0.4 0.6M70.4 10.3l0.0 0.4M63.4 80.9l0.4 0.1M30.4 52.9l0.1 0.1M131.8 79.4l-0.5 0.1M65.3 68.1l-0.0 0.6M117.5 25.1l0.3 0.9M122.0 81.5l0.3 0.5M83.1 27.9l0.9 0.0M114.4 15.9l-0.0 0.8M79.8 17.3l0.7 0.4M90.4 20.0l-0.3 0.1M51.8 107.9l-0.4 0.3M61.2 5.1l0.5 0.5M126.3 49.4l-0.7 0.0M37.3 25.9l-0.4 0.3M47.6 76.3l-0.7 0.4M129.1 89.5l0.5 0.6M132.1 73.6l-0.3 0.3M53.1 77.7l-0.2 0.4M68.0 9.9l-0.3 0.1M99.0 48.5l-0.6 0.3M140.3 33.1l-0.3 0.4M26.8 17.9l-0.5 0.3M43.8 45.8l0.5 0.6M121.9 43.6l0.0 0.2"/><path stroke-width="0.8" d="M142.3 43.9l-0.3 0.3M92.7 87.3l0.9 0.1M117.4 35.2l0.4 0.2M112.1 101.3l-0.1 0.4M32.9 53.6l0.5 0.2"/></g>
<g stroke="#ff9020" opacity="0.9" filter="url(#bl05)" fill="none" stroke-linecap="round"><path stroke-width="1.6" d="M83.5 51.5l1.6 1.2M100.7 66.2l-0.6 1.1M121.9 49.3l0.7 1.6M133.3 98.5l-0.3 0.9M42.9 50.0l0.8 1.2M57.3 18.0l-1.6 1.0M33.1 37.0l-0.1 0.9M144.3 108.9l-0.1 0.4M69.6 56.3l0.1 0.4M94.9 18.4l-0.8 0.1"/></g>
<rect x="0.5" y="0.5" width="145" height="113.5" fill="none" stroke="#000" stroke-width="1"/>
</svg>
</g>
<path d="M0.6 0.5H519.4V649.4H0.6Z" stroke="#000" stroke-width="1.2" fill="none"/>
</svg></body></html>
